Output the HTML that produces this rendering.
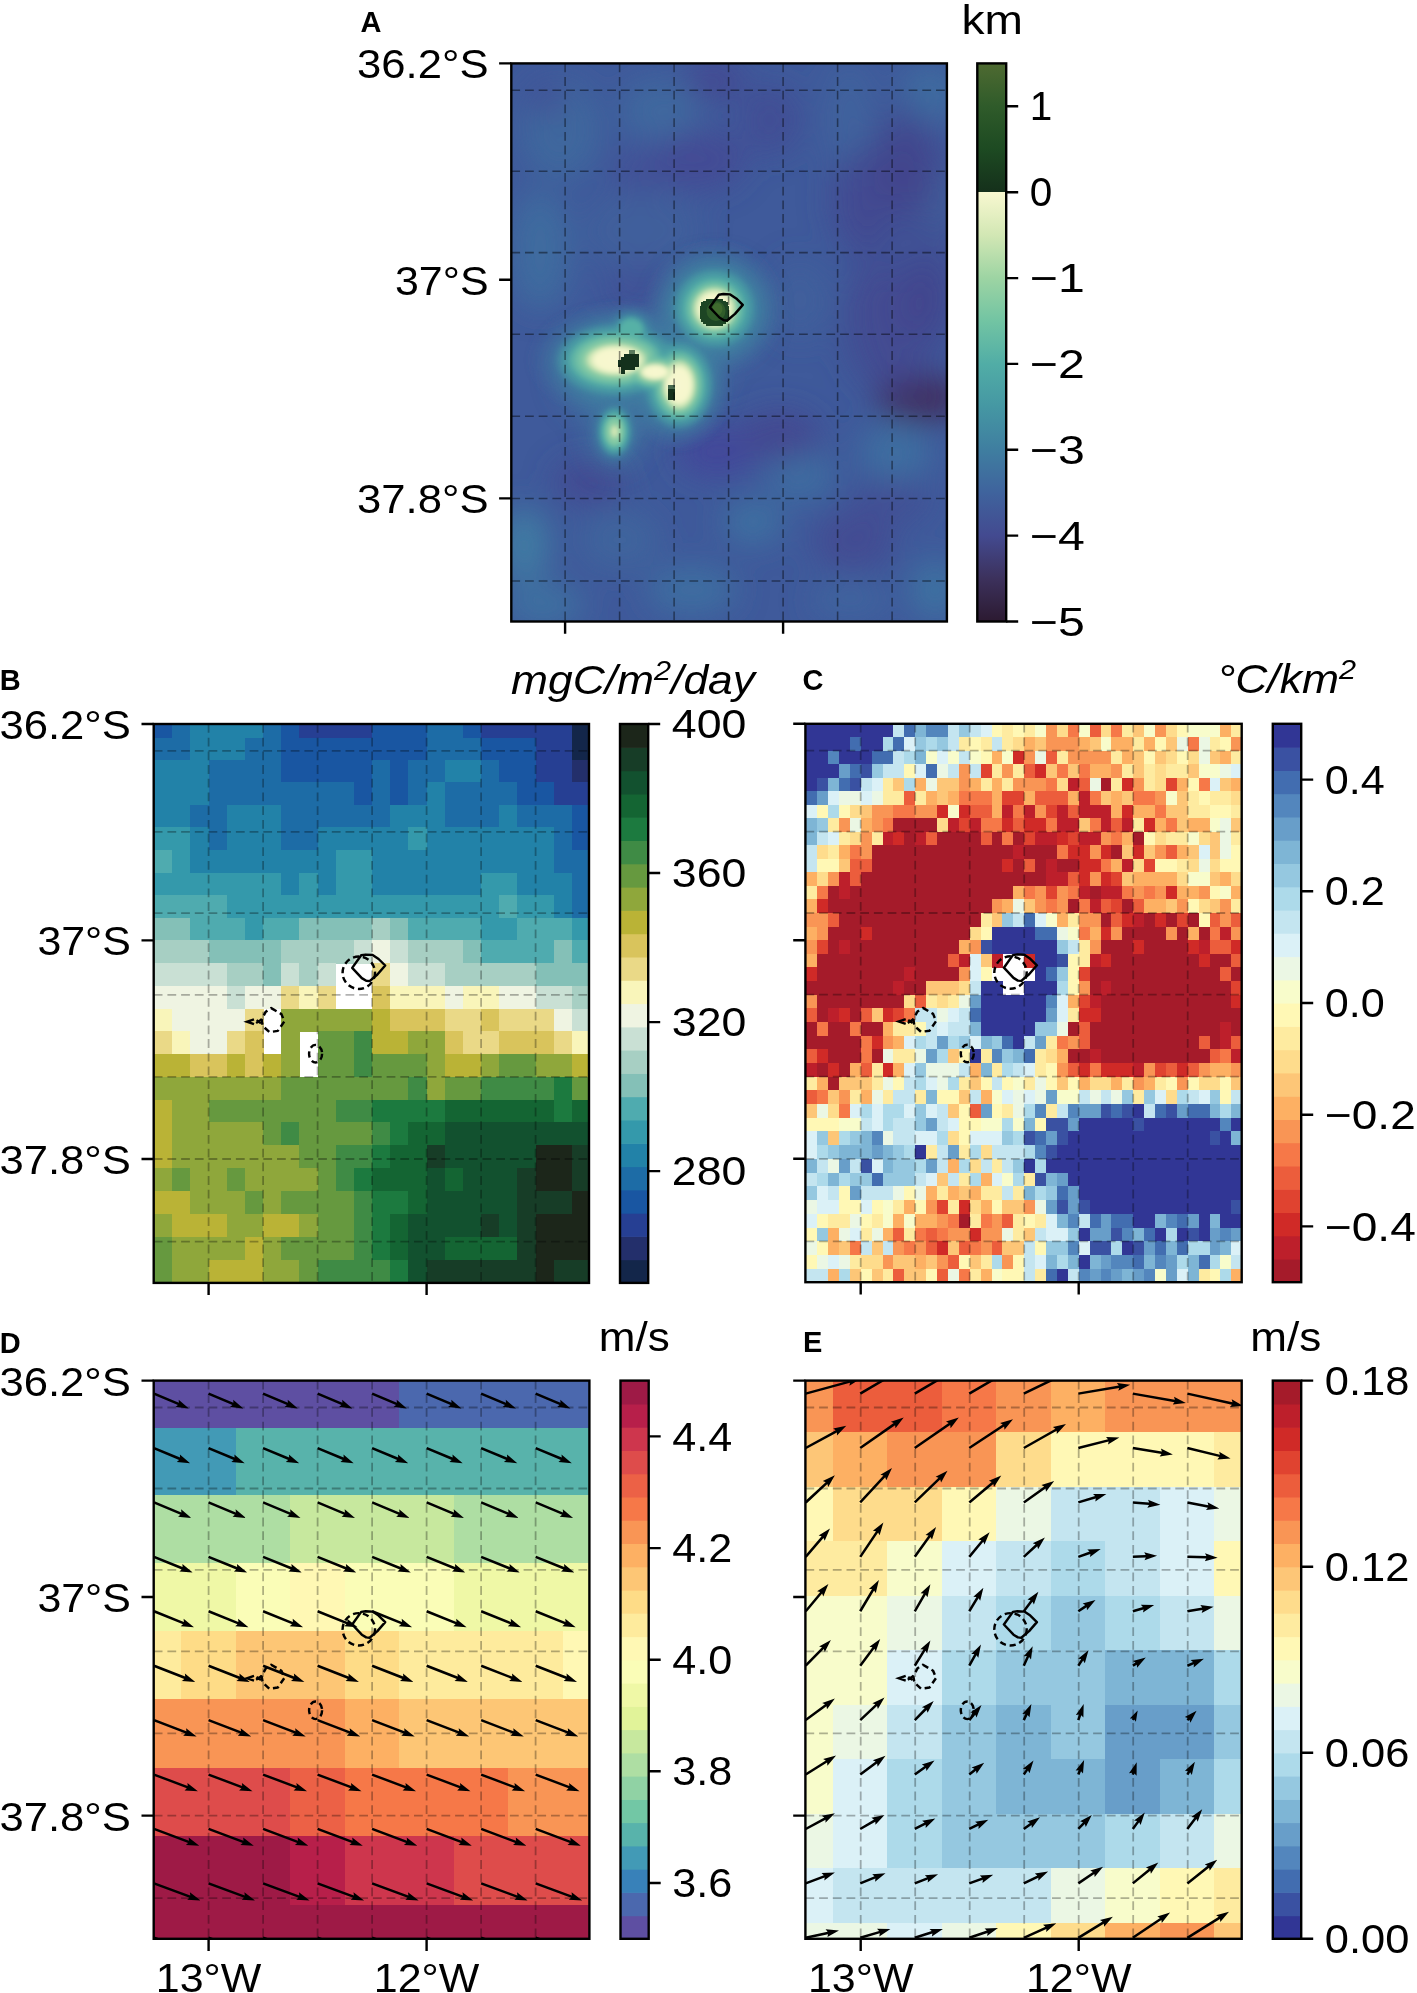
<!DOCTYPE html><html><head><meta charset="utf-8"><title>Figure</title>
<style>html,body{margin:0;padding:0;background:#fff}svg{display:block}text{font-family:"Liberation Sans", sans-serif;fill:#000}</style></head><body>
<svg width="1417" height="1993" viewBox="0 0 1417 1993">
<rect width="1417" height="1993" fill="#fff"/>
<clipPath id="clipA"><rect x="511.3" y="63.4" width="435.6" height="558.1"/></clipPath>
<defs><filter id="bA1" x="-50%" y="-50%" width="200%" height="200%"><feGaussianBlur stdDeviation="15"/></filter><filter id="bA2" x="-50%" y="-50%" width="200%" height="200%"><feGaussianBlur stdDeviation="10"/></filter><filter id="bA3" x="-50%" y="-50%" width="200%" height="200%"><feGaussianBlur stdDeviation="5.5"/></filter><filter id="bA4" x="-50%" y="-50%" width="200%" height="200%"><feGaussianBlur stdDeviation="3.2"/></filter></defs>
<g clip-path="url(#clipA)">
<rect x="511.3" y="63.4" width="435.6" height="558.1" fill="#3f5a9b"/>
<g filter="url(#bA1)">
<ellipse cx="524" cy="545" rx="26" ry="38" fill="#3f7aa3" opacity="1"/>
<ellipse cx="543" cy="605" rx="40" ry="22" fill="#3e72a1" opacity="0.9"/>
<ellipse cx="692" cy="590" rx="45" ry="24" fill="#3d70a1" opacity="0.9"/>
<ellipse cx="753" cy="522" rx="30" ry="22" fill="#3e72a2" opacity="0.9"/>
<ellipse cx="800" cy="476" rx="34" ry="26" fill="#3d6fa1" opacity="0.9"/>
<ellipse cx="896" cy="452" rx="36" ry="30" fill="#3f70a1" opacity="0.9"/>
<ellipse cx="935" cy="590" rx="26" ry="30" fill="#3f74a2" opacity="0.9"/>
<ellipse cx="540" cy="250" rx="30" ry="60" fill="#3e6fa0" opacity="0.8"/>
<ellipse cx="560" cy="130" rx="40" ry="50" fill="#3e6a9f" opacity="0.8"/>
<ellipse cx="660" cy="110" rx="40" ry="30" fill="#3e6da0" opacity="0.7"/>
<ellipse cx="930" cy="95" rx="30" ry="30" fill="#3f70a1" opacity="0.8"/>
<ellipse cx="850" cy="120" rx="25" ry="60" fill="#3f689e" opacity="0.6"/>
<ellipse cx="940" cy="200" rx="18" ry="30" fill="#3f6fa1" opacity="0.8"/>
<ellipse cx="620" cy="540" rx="40" ry="30" fill="#3e689e" opacity="0.7"/>
<ellipse cx="850" cy="600" rx="40" ry="18" fill="#3e6a9f" opacity="0.7"/>
<ellipse cx="800" cy="300" rx="30" ry="40" fill="#3f639d" opacity="0.6"/>
<ellipse cx="640" cy="230" rx="60" ry="40" fill="#3f639d" opacity="0.6"/>
<ellipse cx="921" cy="398" rx="44" ry="24" fill="#3f2f5e" opacity="1"/>
<ellipse cx="905" cy="170" rx="30" ry="45" fill="#43438a" opacity="0.9"/>
<ellipse cx="860" cy="200" rx="30" ry="50" fill="#434790" opacity="0.7"/>
<ellipse cx="700" cy="160" rx="45" ry="30" fill="#434893" opacity="0.8"/>
<ellipse cx="715" cy="80" rx="30" ry="20" fill="#434590" opacity="0.8"/>
<ellipse cx="590" cy="482" rx="36" ry="22" fill="#444891" opacity="0.9"/>
<ellipse cx="716" cy="452" rx="40" ry="26" fill="#43479a" opacity="0.9"/>
<ellipse cx="854" cy="541" rx="40" ry="30" fill="#444a92" opacity="0.9"/>
<ellipse cx="925" cy="300" rx="22" ry="40" fill="#43448c" opacity="0.9"/>
<ellipse cx="770" cy="120" rx="30" ry="35" fill="#424a93" opacity="0.7"/>
<ellipse cx="548" cy="100" rx="18" ry="18" fill="#434a94" opacity="0.7"/>
<ellipse cx="780" cy="436" rx="40" ry="26" fill="#44468f" opacity="0.8"/>
<ellipse cx="890" cy="500" rx="40" ry="22" fill="#444b93" opacity="0.7"/>
<ellipse cx="640" cy="170" rx="30" ry="25" fill="#424c95" opacity="0.6"/>
<ellipse cx="905" cy="250" rx="55" ry="150" fill="#43468e" opacity="0.45"/>
<ellipse cx="880" cy="330" rx="40" ry="60" fill="#43458d" opacity="0.5"/>
<ellipse cx="640" cy="290" rx="40" ry="25" fill="#424a94" opacity="0.5"/>
</g>
<g filter="url(#bA1)" fill="#3f7ba0" opacity="0.85">
<ellipse cx="714" cy="312" rx="50" ry="48"/>
<ellipse cx="640" cy="375" rx="80" ry="52"/>
<ellipse cx="615" cy="436" rx="24" ry="30"/>
</g>
<defs><radialGradient id="gG1"><stop offset="0" stop-color="#4596a3" stop-opacity="0.95"/><stop offset="0.45" stop-color="#4290a2" stop-opacity="0.85"/><stop offset="0.7" stop-color="#3f7fa0" stop-opacity="0.5"/><stop offset="1" stop-color="#3f6a9e" stop-opacity="0"/></radialGradient><radialGradient id="gG2"><stop offset="0" stop-color="#56b1a6" stop-opacity="1"/><stop offset="0.62" stop-color="#56b1a6" stop-opacity="1"/><stop offset="0.85" stop-color="#4a9fa4" stop-opacity="0.6"/><stop offset="1" stop-color="#4596a3" stop-opacity="0"/></radialGradient><radialGradient id="gG3"><stop offset="0" stop-color="#86cba4" stop-opacity="1"/><stop offset="0.68" stop-color="#86cba4" stop-opacity="1"/><stop offset="0.88" stop-color="#68bba5" stop-opacity="0.6"/><stop offset="1" stop-color="#56b1a6" stop-opacity="0"/></radialGradient><radialGradient id="gG4"><stop offset="0" stop-color="#f8f8d0" stop-opacity="1"/><stop offset="0.62" stop-color="#f6f7cd" stop-opacity="1"/><stop offset="0.82" stop-color="#cfe6b3" stop-opacity="0.85"/><stop offset="1" stop-color="#86cba4" stop-opacity="0"/></radialGradient><radialGradient id="gG5"><stop offset="0" stop-color="#d8eab8" stop-opacity="1"/><stop offset="0.5" stop-color="#cfe6b3" stop-opacity="1"/><stop offset="1" stop-color="#86cba4" stop-opacity="0"/></radialGradient><filter id="bA5" x="-20%" y="-20%" width="140%" height="140%"><feGaussianBlur stdDeviation="2.3"/></filter></defs>
<g filter="url(#bA5)">
<ellipse cx="714.5" cy="308.5" rx="72" ry="70" fill="url(#gG1)"/>
<ellipse cx="616" cy="360" rx="90" ry="60" fill="url(#gG1)"/>
<ellipse cx="679" cy="385" rx="54" ry="68" fill="url(#gG1)"/>
<ellipse cx="614.6" cy="431.5" rx="27" ry="37" fill="url(#gG1)"/>
<ellipse cx="631" cy="330" rx="29" ry="27" fill="url(#gG1)"/>
<ellipse cx="714.5" cy="308.5" rx="43" ry="42" fill="url(#gG2)"/>
<ellipse cx="616" cy="360" rx="63" ry="38" fill="url(#gG2)"/>
<ellipse cx="679" cy="385" rx="36" ry="46" fill="url(#gG2)"/>
<ellipse cx="655" cy="372" rx="32" ry="22" fill="url(#gG2)"/>
<ellipse cx="614.6" cy="431.5" rx="17.5" ry="26" fill="url(#gG2)"/>
<ellipse cx="631" cy="330" rx="16" ry="15" fill="url(#gG2)"/>
<ellipse cx="714.5" cy="308.5" rx="31.5" ry="30.5" fill="url(#gG3)"/>
<ellipse cx="616" cy="360" rx="49" ry="28" fill="url(#gG3)"/>
<ellipse cx="679" cy="385" rx="26.5" ry="36" fill="url(#gG3)"/>
<ellipse cx="655" cy="372" rx="26" ry="16" fill="url(#gG3)"/>
<ellipse cx="614.6" cy="431.5" rx="11.5" ry="17.5" fill="url(#gG3)"/>
<ellipse cx="714.5" cy="308.5" rx="23.5" ry="23" fill="url(#gG4)"/>
<ellipse cx="616" cy="360" rx="34" ry="18" fill="url(#gG4)"/>
<ellipse cx="679" cy="385" rx="18.5" ry="27" fill="url(#gG4)"/>
<ellipse cx="655" cy="372" rx="18" ry="9.5" fill="url(#gG4)"/>
<ellipse cx="614.6" cy="431.5" rx="5.5" ry="9" fill="url(#gG5)"/>
</g>
<g shape-rendering="crispEdges">
<path transform="translate(-1.3 0.5)" d="M707.5 298.5h16.5v1.7h3.3v1.7h1.7v3.3h1.7v13.4h-1.7v3.3h-1.7v1.7h-3.3v1.7h-16.5v-1.7h-3.3v-1.7h-1.7v-3.3h-1.7v-13.4h1.7v-3.3h1.7v-1.7h3.3z" fill="#1d4524"/>
<ellipse cx="716" cy="311" rx="9.5" ry="10" fill="#2f5b2a" shape-rendering="auto"/>
<ellipse cx="717.5" cy="309" rx="5" ry="6" fill="#3f6a2e" shape-rendering="auto"/>
<path d="M624.5 353.5h14v3.4h0v10h-3.4v3.4h-10.2v3.4h-3.4v-3.4h-0v-3.4h-3.4v-7h3.4v-3.4h3z" fill="#14311c"/>
<rect x="628.5" y="350" width="6" height="3.5" fill="#5a7a5c"/>
<rect x="668" y="388.5" width="7.2" height="11" fill="#14311c"/>
<rect x="668" y="385.3" width="7.2" height="3.4" fill="#47684e"/>
</g>
</g>
<path d="M565.1 63.4V621.5M619.6 63.4V621.5M674.1 63.4V621.5M728.6 63.4V621.5M783.1 63.4V621.5M837.6 63.4V621.5M892.1 63.4V621.5M511.3 90.3H946.9M511.3 171.3H946.9M511.3 252.6H946.9M511.3 334.2H946.9M511.3 416.2H946.9M511.3 498.4H946.9M511.3 581H946.9" stroke="#000" stroke-opacity="0.44" stroke-width="1.55" stroke-dasharray="8.8 4.9" fill="none"/>
<path d="M709.8 307.3L718.8 294.7L723.3 294L730.2 294.4L736.2 298.4L742.8 304.9L735 313.9L727.2 320.5L723.8 320.2L719.4 317.5Z" fill="none" stroke="#000" stroke-width="2.45" stroke-linejoin="round"/>
<rect x="511.3" y="63.4" width="435.6" height="558.1" fill="none" stroke="#000" stroke-width="2.4"/>
<text x="488.5" y="78.3" font-size="40.5" text-anchor="end" textLength="131.5" lengthAdjust="spacingAndGlyphs">36.2°S</text>
<text x="488.5" y="294.7" font-size="40.5" text-anchor="end" textLength="93.5" lengthAdjust="spacingAndGlyphs">37°S</text>
<text x="488.5" y="513.3" font-size="40.5" text-anchor="end" textLength="131.5" lengthAdjust="spacingAndGlyphs">37.8°S</text>
<path d="M511.3 63.4h-12.2M511.3 279.8h-12.2M511.3 498.4h-12.2M565.1 621.5v12.2M783.1 621.5v12.2" stroke="#000" stroke-width="2.4" fill="none"/>
<text x="360.6" y="31.8" font-size="29" font-weight="bold">A</text>
<defs><linearGradient id="gtopo" x1="0" y1="0" x2="0" y2="1"><stop offset="0.0000" stop-color="#4e6a31"/><stop offset="0.0769" stop-color="#2f5b2a"/><stop offset="0.1538" stop-color="#1d4a22"/><stop offset="0.2306" stop-color="#15301b"/><stop offset="0.2309" stop-color="#f8f8d0"/><stop offset="0.3077" stop-color="#d2e7b4"/><stop offset="0.3846" stop-color="#9dd4a3"/><stop offset="0.4615" stop-color="#72c4a3"/><stop offset="0.5385" stop-color="#51ada6"/><stop offset="0.6154" stop-color="#4597a3"/><stop offset="0.6923" stop-color="#3f7ea0"/><stop offset="0.7692" stop-color="#3f639d"/><stop offset="0.8462" stop-color="#434a90"/><stop offset="0.9231" stop-color="#3c315c"/><stop offset="1.0000" stop-color="#2c1a31"/></linearGradient></defs>
<rect x="977.3" y="63.4" width="28.9" height="558.1" fill="url(#gtopo)"/>
<rect x="977.3" y="63.4" width="28.9" height="558.1" fill="none" stroke="#000" stroke-width="2.4"/>
<text x="1029.8" y="120.4" font-size="40.5">1</text>
<text x="1029.8" y="206.3" font-size="40.5">0</text>
<text x="1029.8" y="292.2" font-size="40.5" textLength="55" lengthAdjust="spacingAndGlyphs">−1</text>
<text x="1029.8" y="378" font-size="40.5" textLength="55" lengthAdjust="spacingAndGlyphs">−2</text>
<text x="1029.8" y="463.9" font-size="40.5" textLength="55" lengthAdjust="spacingAndGlyphs">−3</text>
<text x="1029.8" y="549.7" font-size="40.5" textLength="55" lengthAdjust="spacingAndGlyphs">−4</text>
<text x="1029.8" y="635.6" font-size="40.5" textLength="55" lengthAdjust="spacingAndGlyphs">−5</text>
<path d="M1006.2 106.3h12M1006.2 192.2h12M1006.2 278.1h12M1006.2 363.9h12M1006.2 449.8h12M1006.2 535.6h12M1006.2 621.5h12" stroke="#000" stroke-width="2.4" fill="none"/>
<text x="961.5" y="34" font-size="40.5" textLength="61.5" lengthAdjust="spacingAndGlyphs">km</text>
<g shape-rendering="crispEdges">
<rect x="154.1" y="724" width="18.7" height="14" fill="#1956a2"/>
<rect x="172.3" y="724" width="18.7" height="14" fill="#1d6ca6"/>
<rect x="190.4" y="724" width="73.2" height="14" fill="#2282a8"/>
<rect x="263.1" y="724" width="18.7" height="14" fill="#1d6ca6"/>
<rect x="281.3" y="724" width="18.7" height="14" fill="#1956a2"/>
<rect x="299.4" y="724" width="73.2" height="14" fill="#263f93"/>
<rect x="372.1" y="724" width="55" height="14" fill="#1956a2"/>
<rect x="426.6" y="724" width="36.8" height="14" fill="#1d6ca6"/>
<rect x="462.9" y="724" width="18.7" height="14" fill="#1956a2"/>
<rect x="481.1" y="724" width="91.3" height="14" fill="#263f93"/>
<rect x="571.9" y="724" width="17.6" height="14" fill="#13264a"/>
<rect x="154.1" y="737.5" width="36.8" height="22.9" fill="#1d6ca6"/>
<rect x="190.4" y="737.5" width="55" height="22.9" fill="#2282a8"/>
<rect x="244.9" y="737.5" width="36.8" height="22.9" fill="#1d6ca6"/>
<rect x="281.3" y="737.5" width="145.8" height="22.9" fill="#1956a2"/>
<rect x="426.6" y="737.5" width="55" height="22.9" fill="#1d6ca6"/>
<rect x="481.1" y="737.5" width="55" height="22.9" fill="#1956a2"/>
<rect x="535.6" y="737.5" width="36.8" height="22.9" fill="#263f93"/>
<rect x="571.9" y="737.5" width="17.6" height="22.9" fill="#13264a"/>
<rect x="154.1" y="759.9" width="55" height="23" fill="#2282a8"/>
<rect x="208.6" y="759.9" width="73.2" height="23" fill="#1d6ca6"/>
<rect x="281.3" y="759.9" width="91.3" height="23" fill="#1956a2"/>
<rect x="372.1" y="759.9" width="18.7" height="23" fill="#1d6ca6"/>
<rect x="390.3" y="759.9" width="18.7" height="23" fill="#1956a2"/>
<rect x="408.4" y="759.9" width="36.8" height="23" fill="#1d6ca6"/>
<rect x="444.8" y="759.9" width="36.8" height="23" fill="#2282a8"/>
<rect x="481.1" y="759.9" width="18.7" height="23" fill="#1d6ca6"/>
<rect x="499.3" y="759.9" width="36.8" height="23" fill="#1956a2"/>
<rect x="535.6" y="759.9" width="36.8" height="23" fill="#263f93"/>
<rect x="571.9" y="759.9" width="17.6" height="23" fill="#232f6b"/>
<rect x="154.1" y="782.4" width="55" height="23" fill="#2282a8"/>
<rect x="208.6" y="782.4" width="145.8" height="23" fill="#1d6ca6"/>
<rect x="353.9" y="782.4" width="18.7" height="23" fill="#1956a2"/>
<rect x="372.1" y="782.4" width="18.7" height="23" fill="#1d6ca6"/>
<rect x="390.3" y="782.4" width="18.7" height="23" fill="#1956a2"/>
<rect x="408.4" y="782.4" width="18.7" height="23" fill="#1d6ca6"/>
<rect x="426.6" y="782.4" width="18.7" height="23" fill="#2282a8"/>
<rect x="444.8" y="782.4" width="73.2" height="23" fill="#1d6ca6"/>
<rect x="517.4" y="782.4" width="36.8" height="23" fill="#1956a2"/>
<rect x="553.8" y="782.4" width="35.7" height="23" fill="#263f93"/>
<rect x="154.1" y="804.9" width="36.8" height="23" fill="#2282a8"/>
<rect x="190.4" y="804.9" width="36.8" height="23" fill="#1d6ca6"/>
<rect x="226.8" y="804.9" width="55" height="23" fill="#2282a8"/>
<rect x="281.3" y="804.9" width="109.5" height="23" fill="#1d6ca6"/>
<rect x="390.3" y="804.9" width="55" height="23" fill="#2282a8"/>
<rect x="444.8" y="804.9" width="55" height="23" fill="#1d6ca6"/>
<rect x="499.3" y="804.9" width="18.7" height="23" fill="#2282a8"/>
<rect x="517.4" y="804.9" width="55" height="23" fill="#1d6ca6"/>
<rect x="571.9" y="804.9" width="17.6" height="23" fill="#1956a2"/>
<rect x="154.1" y="827.4" width="36.8" height="23" fill="#3499ab"/>
<rect x="190.4" y="827.4" width="18.7" height="23" fill="#2282a8"/>
<rect x="208.6" y="827.4" width="18.7" height="23" fill="#1d6ca6"/>
<rect x="226.8" y="827.4" width="55" height="23" fill="#2282a8"/>
<rect x="281.3" y="827.4" width="36.8" height="23" fill="#1d6ca6"/>
<rect x="317.6" y="827.4" width="91.3" height="23" fill="#2282a8"/>
<rect x="408.4" y="827.4" width="18.7" height="23" fill="#3499ab"/>
<rect x="426.6" y="827.4" width="127.7" height="23" fill="#2282a8"/>
<rect x="553.8" y="827.4" width="18.7" height="23" fill="#1d6ca6"/>
<rect x="571.9" y="827.4" width="17.6" height="23" fill="#1956a2"/>
<rect x="154.1" y="849.9" width="18.7" height="23.1" fill="#4fabaf"/>
<rect x="172.3" y="849.9" width="18.7" height="23.1" fill="#3499ab"/>
<rect x="190.4" y="849.9" width="145.8" height="23.1" fill="#2282a8"/>
<rect x="335.8" y="849.9" width="36.8" height="23.1" fill="#3499ab"/>
<rect x="372.1" y="849.9" width="182.2" height="23.1" fill="#2282a8"/>
<rect x="553.8" y="849.9" width="35.7" height="23.1" fill="#1d6ca6"/>
<rect x="154.1" y="872.5" width="127.7" height="23.1" fill="#3499ab"/>
<rect x="281.3" y="872.5" width="18.7" height="23.1" fill="#2282a8"/>
<rect x="299.4" y="872.5" width="18.7" height="23.1" fill="#3499ab"/>
<rect x="317.6" y="872.5" width="18.7" height="23.1" fill="#2282a8"/>
<rect x="335.8" y="872.5" width="36.8" height="23.1" fill="#3499ab"/>
<rect x="372.1" y="872.5" width="109.5" height="23.1" fill="#2282a8"/>
<rect x="481.1" y="872.5" width="36.8" height="23.1" fill="#3499ab"/>
<rect x="517.4" y="872.5" width="55" height="23.1" fill="#2282a8"/>
<rect x="571.9" y="872.5" width="17.6" height="23.1" fill="#1d6ca6"/>
<rect x="154.1" y="895.1" width="73.2" height="23.1" fill="#4fabaf"/>
<rect x="226.8" y="895.1" width="273" height="23.1" fill="#3499ab"/>
<rect x="499.3" y="895.1" width="18.7" height="23.1" fill="#4fabaf"/>
<rect x="517.4" y="895.1" width="36.8" height="23.1" fill="#3499ab"/>
<rect x="553.8" y="895.1" width="18.7" height="23.1" fill="#2282a8"/>
<rect x="571.9" y="895.1" width="17.6" height="23.1" fill="#1d6ca6"/>
<rect x="154.1" y="917.7" width="36.8" height="23.1" fill="#84c0b7"/>
<rect x="190.4" y="917.7" width="55" height="23.1" fill="#4fabaf"/>
<rect x="244.9" y="917.7" width="18.7" height="23.1" fill="#3499ab"/>
<rect x="263.1" y="917.7" width="36.8" height="23.1" fill="#4fabaf"/>
<rect x="299.4" y="917.7" width="73.2" height="23.1" fill="#84c0b7"/>
<rect x="372.1" y="917.7" width="18.7" height="23.1" fill="#a7cfc3"/>
<rect x="390.3" y="917.7" width="18.7" height="23.1" fill="#84c0b7"/>
<rect x="408.4" y="917.7" width="73.2" height="23.1" fill="#4fabaf"/>
<rect x="481.1" y="917.7" width="36.8" height="23.1" fill="#3499ab"/>
<rect x="517.4" y="917.7" width="55" height="23.1" fill="#4fabaf"/>
<rect x="571.9" y="917.7" width="17.6" height="23.1" fill="#3499ab"/>
<rect x="154.1" y="940.4" width="55" height="23.2" fill="#a7cfc3"/>
<rect x="208.6" y="940.4" width="73.2" height="23.2" fill="#84c0b7"/>
<rect x="281.3" y="940.4" width="73.2" height="23.2" fill="#a7cfc3"/>
<rect x="353.9" y="940.4" width="18.7" height="23.2" fill="#c9e0d4"/>
<rect x="372.1" y="940.4" width="18.7" height="23.2" fill="#eff4e2"/>
<rect x="390.3" y="940.4" width="18.7" height="23.2" fill="#c9e0d4"/>
<rect x="408.4" y="940.4" width="55" height="23.2" fill="#a7cfc3"/>
<rect x="462.9" y="940.4" width="18.7" height="23.2" fill="#84c0b7"/>
<rect x="481.1" y="940.4" width="73.2" height="23.2" fill="#4fabaf"/>
<rect x="553.8" y="940.4" width="18.7" height="23.2" fill="#84c0b7"/>
<rect x="571.9" y="940.4" width="17.6" height="23.2" fill="#4fabaf"/>
<rect x="154.1" y="963" width="73.2" height="23.2" fill="#c9e0d4"/>
<rect x="226.8" y="963" width="36.8" height="23.2" fill="#a7cfc3"/>
<rect x="263.1" y="963" width="18.7" height="23.2" fill="#84c0b7"/>
<rect x="281.3" y="963" width="18.7" height="23.2" fill="#c9e0d4"/>
<rect x="299.4" y="963" width="18.7" height="23.2" fill="#a7cfc3"/>
<rect x="317.6" y="963" width="18.7" height="23.2" fill="#c9e0d4"/>
<rect x="372.1" y="963" width="18.7" height="23.2" fill="#ead987"/>
<rect x="390.3" y="963" width="18.7" height="23.2" fill="#eff4e2"/>
<rect x="408.4" y="963" width="36.8" height="23.2" fill="#c9e0d4"/>
<rect x="444.8" y="963" width="91.3" height="23.2" fill="#a7cfc3"/>
<rect x="535.6" y="963" width="53.9" height="23.2" fill="#84c0b7"/>
<rect x="154.1" y="985.7" width="73.2" height="23.2" fill="#eff4e2"/>
<rect x="226.8" y="985.7" width="18.7" height="23.2" fill="#c9e0d4"/>
<rect x="244.9" y="985.7" width="36.8" height="23.2" fill="#eff4e2"/>
<rect x="281.3" y="985.7" width="18.7" height="23.2" fill="#ead987"/>
<rect x="299.4" y="985.7" width="18.7" height="23.2" fill="#f9f5ba"/>
<rect x="317.6" y="985.7" width="18.7" height="23.2" fill="#ead987"/>
<rect x="372.1" y="985.7" width="18.7" height="23.2" fill="#d9c45c"/>
<rect x="390.3" y="985.7" width="55" height="23.2" fill="#f9f5ba"/>
<rect x="444.8" y="985.7" width="18.7" height="23.2" fill="#eff4e2"/>
<rect x="462.9" y="985.7" width="36.8" height="23.2" fill="#f9f5ba"/>
<rect x="499.3" y="985.7" width="36.8" height="23.2" fill="#eff4e2"/>
<rect x="535.6" y="985.7" width="36.8" height="23.2" fill="#c9e0d4"/>
<rect x="571.9" y="985.7" width="17.6" height="23.2" fill="#a7cfc3"/>
<rect x="154.1" y="1008.5" width="18.7" height="23.2" fill="#f9f5ba"/>
<rect x="172.3" y="1008.5" width="73.2" height="23.2" fill="#eff4e2"/>
<rect x="244.9" y="1008.5" width="18.7" height="23.2" fill="#ead987"/>
<rect x="281.3" y="1008.5" width="91.3" height="23.2" fill="#8fa73b"/>
<rect x="372.1" y="1008.5" width="18.7" height="23.2" fill="#bab336"/>
<rect x="390.3" y="1008.5" width="55" height="23.2" fill="#d9c45c"/>
<rect x="444.8" y="1008.5" width="36.8" height="23.2" fill="#ead987"/>
<rect x="481.1" y="1008.5" width="18.7" height="23.2" fill="#d9c45c"/>
<rect x="499.3" y="1008.5" width="55" height="23.2" fill="#ead987"/>
<rect x="553.8" y="1008.5" width="18.7" height="23.2" fill="#eff4e2"/>
<rect x="571.9" y="1008.5" width="17.6" height="23.2" fill="#c9e0d4"/>
<rect x="154.1" y="1031.2" width="18.7" height="23.3" fill="#ead987"/>
<rect x="172.3" y="1031.2" width="18.7" height="23.3" fill="#f9f5ba"/>
<rect x="190.4" y="1031.2" width="36.8" height="23.3" fill="#eff4e2"/>
<rect x="226.8" y="1031.2" width="18.7" height="23.3" fill="#ead987"/>
<rect x="244.9" y="1031.2" width="18.7" height="23.3" fill="#d9c45c"/>
<rect x="281.3" y="1031.2" width="18.7" height="23.3" fill="#8fa73b"/>
<rect x="317.6" y="1031.2" width="36.8" height="23.3" fill="#66993f"/>
<rect x="353.9" y="1031.2" width="18.7" height="23.3" fill="#3f8b45"/>
<rect x="372.1" y="1031.2" width="36.8" height="23.3" fill="#bab336"/>
<rect x="408.4" y="1031.2" width="36.8" height="23.3" fill="#8fa73b"/>
<rect x="444.8" y="1031.2" width="18.7" height="23.3" fill="#d9c45c"/>
<rect x="462.9" y="1031.2" width="36.8" height="23.3" fill="#ead987"/>
<rect x="499.3" y="1031.2" width="55" height="23.3" fill="#d9c45c"/>
<rect x="553.8" y="1031.2" width="18.7" height="23.3" fill="#ead987"/>
<rect x="571.9" y="1031.2" width="17.6" height="23.3" fill="#f9f5ba"/>
<rect x="154.1" y="1054" width="36.8" height="23.3" fill="#bab336"/>
<rect x="190.4" y="1054" width="36.8" height="23.3" fill="#d9c45c"/>
<rect x="226.8" y="1054" width="18.7" height="23.3" fill="#bab336"/>
<rect x="244.9" y="1054" width="18.7" height="23.3" fill="#d9c45c"/>
<rect x="263.1" y="1054" width="18.7" height="23.3" fill="#bab336"/>
<rect x="281.3" y="1054" width="18.7" height="23.3" fill="#8fa73b"/>
<rect x="317.6" y="1054" width="36.8" height="23.3" fill="#66993f"/>
<rect x="353.9" y="1054" width="18.7" height="23.3" fill="#3f8b45"/>
<rect x="372.1" y="1054" width="55" height="23.3" fill="#66993f"/>
<rect x="426.6" y="1054" width="18.7" height="23.3" fill="#8fa73b"/>
<rect x="444.8" y="1054" width="36.8" height="23.3" fill="#bab336"/>
<rect x="481.1" y="1054" width="18.7" height="23.3" fill="#8fa73b"/>
<rect x="499.3" y="1054" width="36.8" height="23.3" fill="#66993f"/>
<rect x="535.6" y="1054" width="36.8" height="23.3" fill="#8fa73b"/>
<rect x="571.9" y="1054" width="17.6" height="23.3" fill="#bab336"/>
<rect x="154.1" y="1076.8" width="127.7" height="23.3" fill="#8fa73b"/>
<rect x="281.3" y="1076.8" width="127.7" height="23.3" fill="#66993f"/>
<rect x="408.4" y="1076.8" width="18.7" height="23.3" fill="#3f8b45"/>
<rect x="426.6" y="1076.8" width="18.7" height="23.3" fill="#8fa73b"/>
<rect x="444.8" y="1076.8" width="36.8" height="23.3" fill="#66993f"/>
<rect x="481.1" y="1076.8" width="73.2" height="23.3" fill="#3f8b45"/>
<rect x="553.8" y="1076.8" width="18.7" height="23.3" fill="#1c7a3f"/>
<rect x="571.9" y="1076.8" width="17.6" height="23.3" fill="#66993f"/>
<rect x="154.1" y="1099.6" width="18.7" height="23.3" fill="#bab336"/>
<rect x="172.3" y="1099.6" width="36.8" height="23.3" fill="#8fa73b"/>
<rect x="208.6" y="1099.6" width="127.7" height="23.3" fill="#66993f"/>
<rect x="335.8" y="1099.6" width="36.8" height="23.3" fill="#3f8b45"/>
<rect x="372.1" y="1099.6" width="73.2" height="23.3" fill="#1c7a3f"/>
<rect x="444.8" y="1099.6" width="109.5" height="23.3" fill="#146533"/>
<rect x="553.8" y="1099.6" width="18.7" height="23.3" fill="#1c7a3f"/>
<rect x="571.9" y="1099.6" width="17.6" height="23.3" fill="#146533"/>
<rect x="154.1" y="1122.4" width="18.7" height="23.4" fill="#bab336"/>
<rect x="172.3" y="1122.4" width="91.3" height="23.4" fill="#8fa73b"/>
<rect x="263.1" y="1122.4" width="18.7" height="23.4" fill="#66993f"/>
<rect x="281.3" y="1122.4" width="18.7" height="23.4" fill="#3f8b45"/>
<rect x="299.4" y="1122.4" width="73.2" height="23.4" fill="#66993f"/>
<rect x="372.1" y="1122.4" width="18.7" height="23.4" fill="#3f8b45"/>
<rect x="390.3" y="1122.4" width="18.7" height="23.4" fill="#1c7a3f"/>
<rect x="408.4" y="1122.4" width="36.8" height="23.4" fill="#146533"/>
<rect x="444.8" y="1122.4" width="144.7" height="23.4" fill="#12512f"/>
<rect x="154.1" y="1145.3" width="18.7" height="23.4" fill="#bab336"/>
<rect x="172.3" y="1145.3" width="127.7" height="23.4" fill="#8fa73b"/>
<rect x="299.4" y="1145.3" width="36.8" height="23.4" fill="#66993f"/>
<rect x="335.8" y="1145.3" width="36.8" height="23.4" fill="#3f8b45"/>
<rect x="372.1" y="1145.3" width="18.7" height="23.4" fill="#1c7a3f"/>
<rect x="390.3" y="1145.3" width="36.8" height="23.4" fill="#146533"/>
<rect x="426.6" y="1145.3" width="18.7" height="23.4" fill="#173d27"/>
<rect x="444.8" y="1145.3" width="91.3" height="23.4" fill="#12512f"/>
<rect x="535.6" y="1145.3" width="36.8" height="23.4" fill="#1c261a"/>
<rect x="571.9" y="1145.3" width="17.6" height="23.4" fill="#173d27"/>
<rect x="154.1" y="1168.2" width="18.7" height="23.4" fill="#8fa73b"/>
<rect x="172.3" y="1168.2" width="18.7" height="23.4" fill="#66993f"/>
<rect x="190.4" y="1168.2" width="36.8" height="23.4" fill="#8fa73b"/>
<rect x="226.8" y="1168.2" width="18.7" height="23.4" fill="#66993f"/>
<rect x="244.9" y="1168.2" width="73.2" height="23.4" fill="#8fa73b"/>
<rect x="317.6" y="1168.2" width="18.7" height="23.4" fill="#66993f"/>
<rect x="335.8" y="1168.2" width="18.7" height="23.4" fill="#3f8b45"/>
<rect x="353.9" y="1168.2" width="18.7" height="23.4" fill="#1c7a3f"/>
<rect x="372.1" y="1168.2" width="55" height="23.4" fill="#146533"/>
<rect x="426.6" y="1168.2" width="18.7" height="23.4" fill="#12512f"/>
<rect x="444.8" y="1168.2" width="18.7" height="23.4" fill="#146533"/>
<rect x="462.9" y="1168.2" width="55" height="23.4" fill="#12512f"/>
<rect x="517.4" y="1168.2" width="18.7" height="23.4" fill="#173d27"/>
<rect x="535.6" y="1168.2" width="36.8" height="23.4" fill="#1c261a"/>
<rect x="571.9" y="1168.2" width="17.6" height="23.4" fill="#173d27"/>
<rect x="154.1" y="1191.1" width="36.8" height="23.4" fill="#bab336"/>
<rect x="190.4" y="1191.1" width="55" height="23.4" fill="#8fa73b"/>
<rect x="244.9" y="1191.1" width="18.7" height="23.4" fill="#66993f"/>
<rect x="263.1" y="1191.1" width="18.7" height="23.4" fill="#8fa73b"/>
<rect x="281.3" y="1191.1" width="73.2" height="23.4" fill="#66993f"/>
<rect x="353.9" y="1191.1" width="18.7" height="23.4" fill="#3f8b45"/>
<rect x="372.1" y="1191.1" width="36.8" height="23.4" fill="#1c7a3f"/>
<rect x="408.4" y="1191.1" width="18.7" height="23.4" fill="#146533"/>
<rect x="426.6" y="1191.1" width="91.3" height="23.4" fill="#12512f"/>
<rect x="517.4" y="1191.1" width="55" height="23.4" fill="#173d27"/>
<rect x="571.9" y="1191.1" width="17.6" height="23.4" fill="#1c261a"/>
<rect x="154.1" y="1214.1" width="18.7" height="23.5" fill="#8fa73b"/>
<rect x="172.3" y="1214.1" width="55" height="23.5" fill="#bab336"/>
<rect x="226.8" y="1214.1" width="36.8" height="23.5" fill="#8fa73b"/>
<rect x="263.1" y="1214.1" width="36.8" height="23.5" fill="#bab336"/>
<rect x="299.4" y="1214.1" width="18.7" height="23.5" fill="#8fa73b"/>
<rect x="317.6" y="1214.1" width="36.8" height="23.5" fill="#66993f"/>
<rect x="353.9" y="1214.1" width="18.7" height="23.5" fill="#3f8b45"/>
<rect x="372.1" y="1214.1" width="18.7" height="23.5" fill="#1c7a3f"/>
<rect x="390.3" y="1214.1" width="18.7" height="23.5" fill="#146533"/>
<rect x="408.4" y="1214.1" width="73.2" height="23.5" fill="#12512f"/>
<rect x="481.1" y="1214.1" width="18.7" height="23.5" fill="#173d27"/>
<rect x="499.3" y="1214.1" width="18.7" height="23.5" fill="#12512f"/>
<rect x="517.4" y="1214.1" width="18.7" height="23.5" fill="#173d27"/>
<rect x="535.6" y="1214.1" width="53.9" height="23.5" fill="#1c261a"/>
<rect x="154.1" y="1237" width="18.7" height="23.5" fill="#66993f"/>
<rect x="172.3" y="1237" width="73.2" height="23.5" fill="#8fa73b"/>
<rect x="244.9" y="1237" width="18.7" height="23.5" fill="#bab336"/>
<rect x="263.1" y="1237" width="18.7" height="23.5" fill="#8fa73b"/>
<rect x="281.3" y="1237" width="73.2" height="23.5" fill="#66993f"/>
<rect x="353.9" y="1237" width="18.7" height="23.5" fill="#3f8b45"/>
<rect x="372.1" y="1237" width="18.7" height="23.5" fill="#1c7a3f"/>
<rect x="390.3" y="1237" width="18.7" height="23.5" fill="#146533"/>
<rect x="408.4" y="1237" width="36.8" height="23.5" fill="#12512f"/>
<rect x="444.8" y="1237" width="73.2" height="23.5" fill="#146533"/>
<rect x="517.4" y="1237" width="18.7" height="23.5" fill="#173d27"/>
<rect x="535.6" y="1237" width="53.9" height="23.5" fill="#1c261a"/>
<rect x="154.1" y="1260" width="18.7" height="23.4" fill="#66993f"/>
<rect x="172.3" y="1260" width="36.8" height="23.4" fill="#8fa73b"/>
<rect x="208.6" y="1260" width="55" height="23.4" fill="#bab336"/>
<rect x="263.1" y="1260" width="36.8" height="23.4" fill="#8fa73b"/>
<rect x="299.4" y="1260" width="18.7" height="23.4" fill="#66993f"/>
<rect x="317.6" y="1260" width="73.2" height="23.4" fill="#3f8b45"/>
<rect x="390.3" y="1260" width="18.7" height="23.4" fill="#1c7a3f"/>
<rect x="408.4" y="1260" width="18.7" height="23.4" fill="#12512f"/>
<rect x="426.6" y="1260" width="109.5" height="23.4" fill="#173d27"/>
<rect x="535.6" y="1260" width="18.7" height="23.4" fill="#1c261a"/>
<rect x="553.8" y="1260" width="35.7" height="23.4" fill="#173d27"/>
</g>
<path d="M208.6 724V1282.9M263.1 724V1282.9M317.6 724V1282.9M372.1 724V1282.9M426.6 724V1282.9M481.1 724V1282.9M535.6 724V1282.9M153.7 750.9H589M153.7 831.9H589M153.7 913.2H589M153.7 994.8H589M153.7 1076.8H589M153.7 1159H589M153.7 1241.6H589" stroke="#000" stroke-opacity="0.3" stroke-width="1.8" stroke-dasharray="8.8 4.9" fill="none"/>
<g fill="none" stroke="#000" stroke-width="2.45" stroke-dasharray="6.2 3.8" stroke-linejoin="round">
<circle cx="358.8" cy="972.7" r="16.2"/>
<path d="M271.2 1008.1L281.4 1014.1L284.4 1021.3L277.8 1030.9L269.4 1032.1L262.8 1026.1L261.6 1019.5L265.8 1011.7Z"/>
</g>
<path d="M261.6 1019.5l-5.5 3.6M254 1019.3l-7 2.4l7 2.4M256.5 1020.3l4.5 3" fill="none" stroke="#000" stroke-width="2.4"/>
<ellipse cx="315.6" cy="1053.7" rx="6.5" ry="8.8" fill="none" stroke="#000" stroke-width="2.45" stroke-dasharray="6.2 3.8"/>
<path d="M352.2 967.9L361.2 955.3L365.7 954.6L372.6 955L378.6 959L385.2 965.5L377.4 974.5L369.6 981.1L366.2 980.8L361.8 978.1Z" fill="none" stroke="#000" stroke-width="2.45" stroke-linejoin="round"/>
<rect x="153.7" y="724" width="435.3" height="558.9" fill="none" stroke="#000" stroke-width="2.4"/>
<text x="130.9" y="738.9" font-size="40.5" text-anchor="end" textLength="131.5" lengthAdjust="spacingAndGlyphs">36.2°S</text>
<text x="130.9" y="955.3" font-size="40.5" text-anchor="end" textLength="93.5" lengthAdjust="spacingAndGlyphs">37°S</text>
<text x="130.9" y="1173.9" font-size="40.5" text-anchor="end" textLength="131.5" lengthAdjust="spacingAndGlyphs">37.8°S</text>
<path d="M153.7 724h-12.2M153.7 940.4h-12.2M153.7 1159h-12.2M208.6 1282.9v12.2M426.6 1282.9v12.2" stroke="#000" stroke-width="2.4" fill="none"/>
<text x="-0.2" y="690.1" font-size="29" font-weight="bold">B</text>
<rect x="620" y="1259.6" width="28.2" height="23.9" fill="#13264a"/>
<rect x="620" y="1236.3" width="28.2" height="23.9" fill="#232f6b"/>
<rect x="620" y="1213" width="28.2" height="23.9" fill="#263f93"/>
<rect x="620" y="1189.8" width="28.2" height="23.9" fill="#1956a2"/>
<rect x="620" y="1166.5" width="28.2" height="23.9" fill="#1d6ca6"/>
<rect x="620" y="1143.2" width="28.2" height="23.9" fill="#2282a8"/>
<rect x="620" y="1119.9" width="28.2" height="23.9" fill="#3499ab"/>
<rect x="620" y="1096.6" width="28.2" height="23.9" fill="#4fabaf"/>
<rect x="620" y="1073.3" width="28.2" height="23.9" fill="#84c0b7"/>
<rect x="620" y="1050" width="28.2" height="23.9" fill="#a7cfc3"/>
<rect x="620" y="1026.7" width="28.2" height="23.9" fill="#c9e0d4"/>
<rect x="620" y="1003.5" width="28.2" height="23.9" fill="#eff4e2"/>
<rect x="620" y="980.2" width="28.2" height="23.9" fill="#f9f5ba"/>
<rect x="620" y="956.9" width="28.2" height="23.9" fill="#ead987"/>
<rect x="620" y="933.6" width="28.2" height="23.9" fill="#d9c45c"/>
<rect x="620" y="910.3" width="28.2" height="23.9" fill="#bab336"/>
<rect x="620" y="887" width="28.2" height="23.9" fill="#8fa73b"/>
<rect x="620" y="863.7" width="28.2" height="23.9" fill="#66993f"/>
<rect x="620" y="840.4" width="28.2" height="23.9" fill="#3f8b45"/>
<rect x="620" y="817.1" width="28.2" height="23.9" fill="#1c7a3f"/>
<rect x="620" y="793.9" width="28.2" height="23.9" fill="#146533"/>
<rect x="620" y="770.6" width="28.2" height="23.9" fill="#12512f"/>
<rect x="620" y="747.3" width="28.2" height="23.9" fill="#173d27"/>
<rect x="620" y="724" width="28.2" height="23.9" fill="#1c261a"/>
<rect x="620" y="724" width="28.2" height="558.9" fill="none" stroke="#000" stroke-width="2.4"/>
<text x="671.8" y="738.1" font-size="40.5" textLength="74.5" lengthAdjust="spacingAndGlyphs">400</text>
<text x="671.8" y="887.1" font-size="40.5" textLength="74.5" lengthAdjust="spacingAndGlyphs">360</text>
<text x="671.8" y="1036.2" font-size="40.5" textLength="74.5" lengthAdjust="spacingAndGlyphs">320</text>
<text x="671.8" y="1185.2" font-size="40.5" textLength="74.5" lengthAdjust="spacingAndGlyphs">280</text>
<path d="M648.2 724h12M648.2 873h12M648.2 1022.1h12M648.2 1171.1h12" stroke="#000" stroke-width="2.4" fill="none"/>
<text x="511" y="693.5" font-size="40.5" font-style="italic" textLength="244" lengthAdjust="spacingAndGlyphs">mgC/m<tspan dy="-14" font-size="28">2</tspan><tspan dy="14" font-size="40.5">/day</tspan></text>
<g shape-rendering="crispEdges">
<rect x="806.2" y="723.8" width="87.7" height="14" fill="#313695"/>
<rect x="893.4" y="723.8" width="11.4" height="14" fill="#c4e5f0"/>
<rect x="904.3" y="723.8" width="11.4" height="14" fill="#426db0"/>
<rect x="915.2" y="723.8" width="11.4" height="14" fill="#7eb5d5"/>
<rect x="926.1" y="723.8" width="22.3" height="14" fill="#5386bd"/>
<rect x="947.9" y="723.8" width="11.4" height="14" fill="#c4e5f0"/>
<rect x="958.8" y="723.8" width="11.4" height="14" fill="#95c8e0"/>
<rect x="969.7" y="723.8" width="11.4" height="14" fill="#c4e5f0"/>
<rect x="980.6" y="723.8" width="11.4" height="14" fill="#dbf1f7"/>
<rect x="991.5" y="723.8" width="11.4" height="14" fill="#fff8b5"/>
<rect x="1002.4" y="723.8" width="11.4" height="14" fill="#feeba0"/>
<rect x="1013.3" y="723.8" width="11.4" height="14" fill="#fff8b5"/>
<rect x="1024.2" y="723.8" width="11.4" height="14" fill="#feeba0"/>
<rect x="1035.1" y="723.8" width="11.4" height="14" fill="#f8fccb"/>
<rect x="1046" y="723.8" width="11.4" height="14" fill="#f99555"/>
<rect x="1056.9" y="723.8" width="11.4" height="14" fill="#fedc8c"/>
<rect x="1067.8" y="723.8" width="11.4" height="14" fill="#f67848"/>
<rect x="1078.7" y="723.8" width="11.4" height="14" fill="#f8fccb"/>
<rect x="1089.6" y="723.8" width="11.4" height="14" fill="#ec5d3c"/>
<rect x="1100.5" y="723.8" width="11.4" height="14" fill="#fedc8c"/>
<rect x="1111.4" y="723.8" width="11.4" height="14" fill="#f67848"/>
<rect x="1122.3" y="723.8" width="11.4" height="14" fill="#feeba0"/>
<rect x="1133.2" y="723.8" width="11.4" height="14" fill="#fdc677"/>
<rect x="1144.1" y="723.8" width="11.4" height="14" fill="#f8fccb"/>
<rect x="1155" y="723.8" width="11.4" height="14" fill="#f99555"/>
<rect x="1165.9" y="723.8" width="11.4" height="14" fill="#fedc8c"/>
<rect x="1176.8" y="723.8" width="11.4" height="14" fill="#fff8b5"/>
<rect x="1187.7" y="723.8" width="33.2" height="14" fill="#f8fccb"/>
<rect x="1220.4" y="723.8" width="11.4" height="14" fill="#fdb063"/>
<rect x="1231.3" y="723.8" width="10.9" height="14" fill="#feeba0"/>
<rect x="806.2" y="737.3" width="44.1" height="14" fill="#313695"/>
<rect x="849.8" y="737.3" width="11.4" height="14" fill="#426db0"/>
<rect x="860.7" y="737.3" width="22.3" height="14" fill="#313695"/>
<rect x="882.5" y="737.3" width="11.4" height="14" fill="#addaea"/>
<rect x="893.4" y="737.3" width="11.4" height="14" fill="#426db0"/>
<rect x="904.3" y="737.3" width="11.4" height="14" fill="#dbf1f7"/>
<rect x="915.2" y="737.3" width="11.4" height="14" fill="#95c8e0"/>
<rect x="926.1" y="737.3" width="11.4" height="14" fill="#addaea"/>
<rect x="937" y="737.3" width="11.4" height="14" fill="#95c8e0"/>
<rect x="947.9" y="737.3" width="11.4" height="14" fill="#c4e5f0"/>
<rect x="958.8" y="737.3" width="11.4" height="14" fill="#feeba0"/>
<rect x="969.7" y="737.3" width="11.4" height="14" fill="#fff8b5"/>
<rect x="980.6" y="737.3" width="11.4" height="14" fill="#feeba0"/>
<rect x="991.5" y="737.3" width="11.4" height="14" fill="#c4e5f0"/>
<rect x="1002.4" y="737.3" width="11.4" height="14" fill="#feeba0"/>
<rect x="1013.3" y="737.3" width="11.4" height="14" fill="#fedc8c"/>
<rect x="1024.2" y="737.3" width="11.4" height="14" fill="#fdb063"/>
<rect x="1035.1" y="737.3" width="11.4" height="14" fill="#fdc677"/>
<rect x="1046" y="737.3" width="33.2" height="14" fill="#f99555"/>
<rect x="1078.7" y="737.3" width="11.4" height="14" fill="#fdb063"/>
<rect x="1089.6" y="737.3" width="11.4" height="14" fill="#fdc677"/>
<rect x="1100.5" y="737.3" width="11.4" height="14" fill="#f8fccb"/>
<rect x="1111.4" y="737.3" width="22.3" height="14" fill="#fdb063"/>
<rect x="1133.2" y="737.3" width="11.4" height="14" fill="#feeba0"/>
<rect x="1144.1" y="737.3" width="11.4" height="14" fill="#fdb063"/>
<rect x="1155" y="737.3" width="11.4" height="14" fill="#fff8b5"/>
<rect x="1165.9" y="737.3" width="11.4" height="14" fill="#fdc677"/>
<rect x="1176.8" y="737.3" width="11.4" height="14" fill="#ebf7e4"/>
<rect x="1187.7" y="737.3" width="11.4" height="14" fill="#f67848"/>
<rect x="1198.6" y="737.3" width="11.4" height="14" fill="#ebf7e4"/>
<rect x="1209.5" y="737.3" width="11.4" height="14" fill="#feeba0"/>
<rect x="1220.4" y="737.3" width="11.4" height="14" fill="#fff8b5"/>
<rect x="1231.3" y="737.3" width="10.9" height="14" fill="#f99555"/>
<rect x="806.2" y="750.7" width="22.3" height="14" fill="#313695"/>
<rect x="828" y="750.7" width="11.4" height="14" fill="#5386bd"/>
<rect x="838.9" y="750.7" width="33.2" height="14" fill="#313695"/>
<rect x="871.6" y="750.7" width="22.3" height="14" fill="#426db0"/>
<rect x="893.4" y="750.7" width="11.4" height="14" fill="#c4e5f0"/>
<rect x="904.3" y="750.7" width="11.4" height="14" fill="#addaea"/>
<rect x="915.2" y="750.7" width="11.4" height="14" fill="#7eb5d5"/>
<rect x="926.1" y="750.7" width="11.4" height="14" fill="#f8fccb"/>
<rect x="937" y="750.7" width="11.4" height="14" fill="#dbf1f7"/>
<rect x="947.9" y="750.7" width="11.4" height="14" fill="#f8fccb"/>
<rect x="958.8" y="750.7" width="11.4" height="14" fill="#c4e5f0"/>
<rect x="969.7" y="750.7" width="11.4" height="14" fill="#f8fccb"/>
<rect x="980.6" y="750.7" width="11.4" height="14" fill="#fff8b5"/>
<rect x="991.5" y="750.7" width="11.4" height="14" fill="#fdb063"/>
<rect x="1002.4" y="750.7" width="11.4" height="14" fill="#f8fccb"/>
<rect x="1013.3" y="750.7" width="11.4" height="14" fill="#d02a27"/>
<rect x="1024.2" y="750.7" width="11.4" height="14" fill="#f99555"/>
<rect x="1035.1" y="750.7" width="11.4" height="14" fill="#ebf7e4"/>
<rect x="1046" y="750.7" width="11.4" height="14" fill="#ec5d3c"/>
<rect x="1056.9" y="750.7" width="11.4" height="14" fill="#feeba0"/>
<rect x="1067.8" y="750.7" width="44.1" height="14" fill="#f99555"/>
<rect x="1111.4" y="750.7" width="11.4" height="14" fill="#feeba0"/>
<rect x="1122.3" y="750.7" width="11.4" height="14" fill="#fdb063"/>
<rect x="1133.2" y="750.7" width="11.4" height="14" fill="#fdc677"/>
<rect x="1144.1" y="750.7" width="11.4" height="14" fill="#fff8b5"/>
<rect x="1155" y="750.7" width="11.4" height="14" fill="#fdc677"/>
<rect x="1165.9" y="750.7" width="11.4" height="14" fill="#fedc8c"/>
<rect x="1176.8" y="750.7" width="11.4" height="14" fill="#fff8b5"/>
<rect x="1187.7" y="750.7" width="11.4" height="14" fill="#fedc8c"/>
<rect x="1198.6" y="750.7" width="11.4" height="14" fill="#ebf7e4"/>
<rect x="1209.5" y="750.7" width="11.4" height="14" fill="#fdc677"/>
<rect x="1220.4" y="750.7" width="11.4" height="14" fill="#fdb063"/>
<rect x="1231.3" y="750.7" width="10.9" height="14" fill="#feeba0"/>
<rect x="806.2" y="764.2" width="33.2" height="14" fill="#313695"/>
<rect x="838.9" y="764.2" width="11.4" height="14" fill="#689ec9"/>
<rect x="849.8" y="764.2" width="11.4" height="14" fill="#426db0"/>
<rect x="860.7" y="764.2" width="11.4" height="14" fill="#3a51a2"/>
<rect x="871.6" y="764.2" width="11.4" height="14" fill="#95c8e0"/>
<rect x="882.5" y="764.2" width="22.3" height="14" fill="#c4e5f0"/>
<rect x="904.3" y="764.2" width="11.4" height="14" fill="#fff8b5"/>
<rect x="915.2" y="764.2" width="11.4" height="14" fill="#dbf1f7"/>
<rect x="926.1" y="764.2" width="11.4" height="14" fill="#426db0"/>
<rect x="937" y="764.2" width="11.4" height="14" fill="#ebf7e4"/>
<rect x="947.9" y="764.2" width="11.4" height="14" fill="#c4e5f0"/>
<rect x="958.8" y="764.2" width="11.4" height="14" fill="#f99555"/>
<rect x="969.7" y="764.2" width="11.4" height="14" fill="#c4e5f0"/>
<rect x="980.6" y="764.2" width="11.4" height="14" fill="#e04330"/>
<rect x="991.5" y="764.2" width="11.4" height="14" fill="#feeba0"/>
<rect x="1002.4" y="764.2" width="11.4" height="14" fill="#f99555"/>
<rect x="1013.3" y="764.2" width="11.4" height="14" fill="#feeba0"/>
<rect x="1024.2" y="764.2" width="11.4" height="14" fill="#ec5d3c"/>
<rect x="1035.1" y="764.2" width="11.4" height="14" fill="#d02a27"/>
<rect x="1046" y="764.2" width="11.4" height="14" fill="#fdc677"/>
<rect x="1056.9" y="764.2" width="11.4" height="14" fill="#f67848"/>
<rect x="1067.8" y="764.2" width="11.4" height="14" fill="#fdc677"/>
<rect x="1078.7" y="764.2" width="11.4" height="14" fill="#f67848"/>
<rect x="1089.6" y="764.2" width="22.3" height="14" fill="#fdb063"/>
<rect x="1111.4" y="764.2" width="11.4" height="14" fill="#f99555"/>
<rect x="1122.3" y="764.2" width="11.4" height="14" fill="#feeba0"/>
<rect x="1133.2" y="764.2" width="11.4" height="14" fill="#fdc677"/>
<rect x="1144.1" y="764.2" width="11.4" height="14" fill="#feeba0"/>
<rect x="1155" y="764.2" width="11.4" height="14" fill="#fedc8c"/>
<rect x="1165.9" y="764.2" width="22.3" height="14" fill="#feeba0"/>
<rect x="1187.7" y="764.2" width="11.4" height="14" fill="#fdc677"/>
<rect x="1198.6" y="764.2" width="22.3" height="14" fill="#f8fccb"/>
<rect x="1220.4" y="764.2" width="11.4" height="14" fill="#ebf7e4"/>
<rect x="1231.3" y="764.2" width="10.9" height="14" fill="#dbf1f7"/>
<rect x="806.2" y="777.7" width="11.4" height="14" fill="#313695"/>
<rect x="817.1" y="777.7" width="11.4" height="14" fill="#3a51a2"/>
<rect x="828" y="777.7" width="11.4" height="14" fill="#7eb5d5"/>
<rect x="838.9" y="777.7" width="11.4" height="14" fill="#426db0"/>
<rect x="849.8" y="777.7" width="11.4" height="14" fill="#3a51a2"/>
<rect x="860.7" y="777.7" width="11.4" height="14" fill="#c4e5f0"/>
<rect x="871.6" y="777.7" width="11.4" height="14" fill="#dbf1f7"/>
<rect x="882.5" y="777.7" width="11.4" height="14" fill="#feeba0"/>
<rect x="893.4" y="777.7" width="11.4" height="14" fill="#fdc677"/>
<rect x="904.3" y="777.7" width="11.4" height="14" fill="#addaea"/>
<rect x="915.2" y="777.7" width="11.4" height="14" fill="#fdb063"/>
<rect x="926.1" y="777.7" width="11.4" height="14" fill="#ebf7e4"/>
<rect x="937" y="777.7" width="22.3" height="14" fill="#fdc677"/>
<rect x="958.8" y="777.7" width="11.4" height="14" fill="#f99555"/>
<rect x="969.7" y="777.7" width="11.4" height="14" fill="#fdb063"/>
<rect x="980.6" y="777.7" width="11.4" height="14" fill="#feeba0"/>
<rect x="991.5" y="777.7" width="11.4" height="14" fill="#fdb063"/>
<rect x="1002.4" y="777.7" width="11.4" height="14" fill="#feeba0"/>
<rect x="1013.3" y="777.7" width="33.2" height="14" fill="#f99555"/>
<rect x="1046" y="777.7" width="11.4" height="14" fill="#f67848"/>
<rect x="1056.9" y="777.7" width="11.4" height="14" fill="#fedc8c"/>
<rect x="1067.8" y="777.7" width="11.4" height="14" fill="#bd1f2b"/>
<rect x="1078.7" y="777.7" width="11.4" height="14" fill="#ec5d3c"/>
<rect x="1089.6" y="777.7" width="11.4" height="14" fill="#ebf7e4"/>
<rect x="1100.5" y="777.7" width="11.4" height="14" fill="#a51b2a"/>
<rect x="1111.4" y="777.7" width="11.4" height="14" fill="#feeba0"/>
<rect x="1122.3" y="777.7" width="11.4" height="14" fill="#d02a27"/>
<rect x="1133.2" y="777.7" width="11.4" height="14" fill="#f99555"/>
<rect x="1144.1" y="777.7" width="11.4" height="14" fill="#feeba0"/>
<rect x="1155" y="777.7" width="11.4" height="14" fill="#fedc8c"/>
<rect x="1165.9" y="777.7" width="11.4" height="14" fill="#e04330"/>
<rect x="1176.8" y="777.7" width="11.4" height="14" fill="#fdb063"/>
<rect x="1187.7" y="777.7" width="11.4" height="14" fill="#fff8b5"/>
<rect x="1198.6" y="777.7" width="11.4" height="14" fill="#f67848"/>
<rect x="1209.5" y="777.7" width="11.4" height="14" fill="#dbf1f7"/>
<rect x="1220.4" y="777.7" width="11.4" height="14" fill="#fdc677"/>
<rect x="1231.3" y="777.7" width="10.9" height="14" fill="#fdb063"/>
<rect x="806.2" y="791.2" width="11.4" height="14" fill="#426db0"/>
<rect x="817.1" y="791.2" width="11.4" height="14" fill="#689ec9"/>
<rect x="828" y="791.2" width="11.4" height="14" fill="#dbf1f7"/>
<rect x="838.9" y="791.2" width="22.3" height="14" fill="#ebf7e4"/>
<rect x="860.7" y="791.2" width="11.4" height="14" fill="#dbf1f7"/>
<rect x="871.6" y="791.2" width="11.4" height="14" fill="#ebf7e4"/>
<rect x="882.5" y="791.2" width="22.3" height="14" fill="#feeba0"/>
<rect x="904.3" y="791.2" width="11.4" height="14" fill="#ec5d3c"/>
<rect x="915.2" y="791.2" width="11.4" height="14" fill="#feeba0"/>
<rect x="926.1" y="791.2" width="11.4" height="14" fill="#fdb063"/>
<rect x="937" y="791.2" width="11.4" height="14" fill="#fdc677"/>
<rect x="947.9" y="791.2" width="11.4" height="14" fill="#fdb063"/>
<rect x="958.8" y="791.2" width="33.2" height="14" fill="#f67848"/>
<rect x="991.5" y="791.2" width="11.4" height="14" fill="#fdb063"/>
<rect x="1002.4" y="791.2" width="22.3" height="14" fill="#e04330"/>
<rect x="1024.2" y="791.2" width="11.4" height="14" fill="#fdb063"/>
<rect x="1035.1" y="791.2" width="33.2" height="14" fill="#ec5d3c"/>
<rect x="1067.8" y="791.2" width="11.4" height="14" fill="#fdb063"/>
<rect x="1078.7" y="791.2" width="11.4" height="14" fill="#bd1f2b"/>
<rect x="1089.6" y="791.2" width="11.4" height="14" fill="#f67848"/>
<rect x="1100.5" y="791.2" width="11.4" height="14" fill="#fdc677"/>
<rect x="1111.4" y="791.2" width="11.4" height="14" fill="#fdb063"/>
<rect x="1122.3" y="791.2" width="11.4" height="14" fill="#fdc677"/>
<rect x="1133.2" y="791.2" width="22.3" height="14" fill="#f67848"/>
<rect x="1155" y="791.2" width="11.4" height="14" fill="#f99555"/>
<rect x="1165.9" y="791.2" width="11.4" height="14" fill="#f8fccb"/>
<rect x="1176.8" y="791.2" width="11.4" height="14" fill="#fdc677"/>
<rect x="1187.7" y="791.2" width="11.4" height="14" fill="#feeba0"/>
<rect x="1198.6" y="791.2" width="11.4" height="14" fill="#fff8b5"/>
<rect x="1209.5" y="791.2" width="22.3" height="14" fill="#feeba0"/>
<rect x="1231.3" y="791.2" width="10.9" height="14" fill="#fedc8c"/>
<rect x="806.2" y="804.7" width="11.4" height="14" fill="#dbf1f7"/>
<rect x="817.1" y="804.7" width="11.4" height="14" fill="#fff8b5"/>
<rect x="828" y="804.7" width="11.4" height="14" fill="#addaea"/>
<rect x="838.9" y="804.7" width="11.4" height="14" fill="#fff8b5"/>
<rect x="849.8" y="804.7" width="11.4" height="14" fill="#fedc8c"/>
<rect x="860.7" y="804.7" width="11.4" height="14" fill="#fdc677"/>
<rect x="871.6" y="804.7" width="22.3" height="14" fill="#f99555"/>
<rect x="893.4" y="804.7" width="22.3" height="14" fill="#f67848"/>
<rect x="915.2" y="804.7" width="22.3" height="14" fill="#f99555"/>
<rect x="937" y="804.7" width="11.4" height="14" fill="#d02a27"/>
<rect x="947.9" y="804.7" width="11.4" height="14" fill="#f8fccb"/>
<rect x="958.8" y="804.7" width="11.4" height="14" fill="#d02a27"/>
<rect x="969.7" y="804.7" width="22.3" height="14" fill="#ec5d3c"/>
<rect x="991.5" y="804.7" width="11.4" height="14" fill="#fdb063"/>
<rect x="1002.4" y="804.7" width="11.4" height="14" fill="#bd1f2b"/>
<rect x="1013.3" y="804.7" width="11.4" height="14" fill="#f67848"/>
<rect x="1024.2" y="804.7" width="11.4" height="14" fill="#bd1f2b"/>
<rect x="1035.1" y="804.7" width="11.4" height="14" fill="#f99555"/>
<rect x="1046" y="804.7" width="11.4" height="14" fill="#e04330"/>
<rect x="1056.9" y="804.7" width="11.4" height="14" fill="#bd1f2b"/>
<rect x="1067.8" y="804.7" width="11.4" height="14" fill="#ec5d3c"/>
<rect x="1078.7" y="804.7" width="33.2" height="14" fill="#bd1f2b"/>
<rect x="1111.4" y="804.7" width="11.4" height="14" fill="#fdb063"/>
<rect x="1122.3" y="804.7" width="11.4" height="14" fill="#d02a27"/>
<rect x="1133.2" y="804.7" width="22.3" height="14" fill="#fdb063"/>
<rect x="1155" y="804.7" width="11.4" height="14" fill="#f67848"/>
<rect x="1165.9" y="804.7" width="22.3" height="14" fill="#fdc677"/>
<rect x="1187.7" y="804.7" width="22.3" height="14" fill="#feeba0"/>
<rect x="1209.5" y="804.7" width="22.3" height="14" fill="#fff8b5"/>
<rect x="1231.3" y="804.7" width="10.9" height="14" fill="#feeba0"/>
<rect x="806.2" y="818.2" width="11.4" height="14" fill="#7eb5d5"/>
<rect x="817.1" y="818.2" width="11.4" height="14" fill="#95c8e0"/>
<rect x="828" y="818.2" width="11.4" height="14" fill="#feeba0"/>
<rect x="838.9" y="818.2" width="11.4" height="14" fill="#f99555"/>
<rect x="849.8" y="818.2" width="11.4" height="14" fill="#ebf7e4"/>
<rect x="860.7" y="818.2" width="11.4" height="14" fill="#fdb063"/>
<rect x="871.6" y="818.2" width="11.4" height="14" fill="#f99555"/>
<rect x="882.5" y="818.2" width="11.4" height="14" fill="#f67848"/>
<rect x="893.4" y="818.2" width="44.1" height="14" fill="#a51b2a"/>
<rect x="937" y="818.2" width="11.4" height="14" fill="#fedc8c"/>
<rect x="947.9" y="818.2" width="11.4" height="14" fill="#bd1f2b"/>
<rect x="958.8" y="818.2" width="11.4" height="14" fill="#e04330"/>
<rect x="969.7" y="818.2" width="11.4" height="14" fill="#bd1f2b"/>
<rect x="980.6" y="818.2" width="22.3" height="14" fill="#f67848"/>
<rect x="1002.4" y="818.2" width="11.4" height="14" fill="#d02a27"/>
<rect x="1013.3" y="818.2" width="11.4" height="14" fill="#ec5d3c"/>
<rect x="1024.2" y="818.2" width="22.3" height="14" fill="#d02a27"/>
<rect x="1046" y="818.2" width="11.4" height="14" fill="#f67848"/>
<rect x="1056.9" y="818.2" width="22.3" height="14" fill="#bd1f2b"/>
<rect x="1078.7" y="818.2" width="11.4" height="14" fill="#fdc677"/>
<rect x="1089.6" y="818.2" width="11.4" height="14" fill="#f67848"/>
<rect x="1100.5" y="818.2" width="11.4" height="14" fill="#bd1f2b"/>
<rect x="1111.4" y="818.2" width="11.4" height="14" fill="#ec5d3c"/>
<rect x="1122.3" y="818.2" width="11.4" height="14" fill="#bd1f2b"/>
<rect x="1133.2" y="818.2" width="11.4" height="14" fill="#feeba0"/>
<rect x="1144.1" y="818.2" width="11.4" height="14" fill="#d02a27"/>
<rect x="1155" y="818.2" width="11.4" height="14" fill="#fdb063"/>
<rect x="1165.9" y="818.2" width="11.4" height="14" fill="#f67848"/>
<rect x="1176.8" y="818.2" width="11.4" height="14" fill="#fdc677"/>
<rect x="1187.7" y="818.2" width="22.3" height="14" fill="#fdb063"/>
<rect x="1209.5" y="818.2" width="11.4" height="14" fill="#f8fccb"/>
<rect x="1220.4" y="818.2" width="11.4" height="14" fill="#ebf7e4"/>
<rect x="1231.3" y="818.2" width="10.9" height="14" fill="#fdc677"/>
<rect x="806.2" y="831.7" width="11.4" height="14" fill="#7eb5d5"/>
<rect x="817.1" y="831.7" width="11.4" height="14" fill="#c4e5f0"/>
<rect x="828" y="831.7" width="11.4" height="14" fill="#dbf1f7"/>
<rect x="838.9" y="831.7" width="11.4" height="14" fill="#feeba0"/>
<rect x="849.8" y="831.7" width="11.4" height="14" fill="#fedc8c"/>
<rect x="860.7" y="831.7" width="11.4" height="14" fill="#f99555"/>
<rect x="871.6" y="831.7" width="11.4" height="14" fill="#feeba0"/>
<rect x="882.5" y="831.7" width="11.4" height="14" fill="#bd1f2b"/>
<rect x="893.4" y="831.7" width="11.4" height="14" fill="#d02a27"/>
<rect x="904.3" y="831.7" width="11.4" height="14" fill="#a51b2a"/>
<rect x="915.2" y="831.7" width="11.4" height="14" fill="#bd1f2b"/>
<rect x="926.1" y="831.7" width="11.4" height="14" fill="#ec5d3c"/>
<rect x="937" y="831.7" width="44.1" height="14" fill="#a51b2a"/>
<rect x="980.6" y="831.7" width="11.4" height="14" fill="#ec5d3c"/>
<rect x="991.5" y="831.7" width="11.4" height="14" fill="#a51b2a"/>
<rect x="1002.4" y="831.7" width="11.4" height="14" fill="#f67848"/>
<rect x="1013.3" y="831.7" width="11.4" height="14" fill="#a51b2a"/>
<rect x="1024.2" y="831.7" width="11.4" height="14" fill="#e04330"/>
<rect x="1035.1" y="831.7" width="22.3" height="14" fill="#bd1f2b"/>
<rect x="1056.9" y="831.7" width="11.4" height="14" fill="#d02a27"/>
<rect x="1067.8" y="831.7" width="11.4" height="14" fill="#e04330"/>
<rect x="1078.7" y="831.7" width="22.3" height="14" fill="#bd1f2b"/>
<rect x="1100.5" y="831.7" width="11.4" height="14" fill="#f99555"/>
<rect x="1111.4" y="831.7" width="11.4" height="14" fill="#f67848"/>
<rect x="1122.3" y="831.7" width="11.4" height="14" fill="#fdb063"/>
<rect x="1133.2" y="831.7" width="11.4" height="14" fill="#a51b2a"/>
<rect x="1144.1" y="831.7" width="11.4" height="14" fill="#fff8b5"/>
<rect x="1155" y="831.7" width="11.4" height="14" fill="#fedc8c"/>
<rect x="1165.9" y="831.7" width="22.3" height="14" fill="#feeba0"/>
<rect x="1187.7" y="831.7" width="11.4" height="14" fill="#f8fccb"/>
<rect x="1198.6" y="831.7" width="11.4" height="14" fill="#fedc8c"/>
<rect x="1209.5" y="831.7" width="11.4" height="14" fill="#fdc677"/>
<rect x="1220.4" y="831.7" width="11.4" height="14" fill="#ebf7e4"/>
<rect x="1231.3" y="831.7" width="10.9" height="14" fill="#feeba0"/>
<rect x="806.2" y="845.2" width="11.4" height="14" fill="#c4e5f0"/>
<rect x="817.1" y="845.2" width="11.4" height="14" fill="#fedc8c"/>
<rect x="828" y="845.2" width="11.4" height="14" fill="#feeba0"/>
<rect x="838.9" y="845.2" width="11.4" height="14" fill="#fdb063"/>
<rect x="849.8" y="845.2" width="11.4" height="14" fill="#f67848"/>
<rect x="860.7" y="845.2" width="11.4" height="14" fill="#f99555"/>
<rect x="871.6" y="845.2" width="142.2" height="14" fill="#a51b2a"/>
<rect x="1013.3" y="845.2" width="11.4" height="14" fill="#bd1f2b"/>
<rect x="1024.2" y="845.2" width="33.2" height="14" fill="#a51b2a"/>
<rect x="1056.9" y="845.2" width="11.4" height="14" fill="#f67848"/>
<rect x="1067.8" y="845.2" width="22.3" height="14" fill="#d02a27"/>
<rect x="1089.6" y="845.2" width="11.4" height="14" fill="#f99555"/>
<rect x="1100.5" y="845.2" width="11.4" height="14" fill="#d02a27"/>
<rect x="1111.4" y="845.2" width="11.4" height="14" fill="#a51b2a"/>
<rect x="1122.3" y="845.2" width="11.4" height="14" fill="#fdc677"/>
<rect x="1133.2" y="845.2" width="11.4" height="14" fill="#d02a27"/>
<rect x="1144.1" y="845.2" width="11.4" height="14" fill="#fdc677"/>
<rect x="1155" y="845.2" width="11.4" height="14" fill="#f99555"/>
<rect x="1165.9" y="845.2" width="11.4" height="14" fill="#ec5d3c"/>
<rect x="1176.8" y="845.2" width="11.4" height="14" fill="#fdb063"/>
<rect x="1187.7" y="845.2" width="11.4" height="14" fill="#fdc677"/>
<rect x="1198.6" y="845.2" width="11.4" height="14" fill="#dbf1f7"/>
<rect x="1209.5" y="845.2" width="11.4" height="14" fill="#fdc677"/>
<rect x="1220.4" y="845.2" width="11.4" height="14" fill="#ebf7e4"/>
<rect x="1231.3" y="845.2" width="10.9" height="14" fill="#fff8b5"/>
<rect x="806.2" y="858.8" width="11.4" height="14" fill="#c4e5f0"/>
<rect x="817.1" y="858.8" width="22.3" height="14" fill="#fff8b5"/>
<rect x="838.9" y="858.8" width="11.4" height="14" fill="#fdc677"/>
<rect x="849.8" y="858.8" width="22.3" height="14" fill="#ec5d3c"/>
<rect x="871.6" y="858.8" width="131.3" height="14" fill="#a51b2a"/>
<rect x="1002.4" y="858.8" width="11.4" height="14" fill="#d02a27"/>
<rect x="1013.3" y="858.8" width="11.4" height="14" fill="#a51b2a"/>
<rect x="1024.2" y="858.8" width="11.4" height="14" fill="#ec5d3c"/>
<rect x="1035.1" y="858.8" width="11.4" height="14" fill="#a51b2a"/>
<rect x="1046" y="858.8" width="11.4" height="14" fill="#bd1f2b"/>
<rect x="1056.9" y="858.8" width="22.3" height="14" fill="#a51b2a"/>
<rect x="1078.7" y="858.8" width="22.3" height="14" fill="#d02a27"/>
<rect x="1100.5" y="858.8" width="11.4" height="14" fill="#f67848"/>
<rect x="1111.4" y="858.8" width="11.4" height="14" fill="#fdb063"/>
<rect x="1122.3" y="858.8" width="11.4" height="14" fill="#bd1f2b"/>
<rect x="1133.2" y="858.8" width="11.4" height="14" fill="#fedc8c"/>
<rect x="1144.1" y="858.8" width="11.4" height="14" fill="#e04330"/>
<rect x="1155" y="858.8" width="22.3" height="14" fill="#fff8b5"/>
<rect x="1176.8" y="858.8" width="11.4" height="14" fill="#feeba0"/>
<rect x="1187.7" y="858.8" width="11.4" height="14" fill="#fedc8c"/>
<rect x="1198.6" y="858.8" width="11.4" height="14" fill="#ebf7e4"/>
<rect x="1209.5" y="858.8" width="11.4" height="14" fill="#fedc8c"/>
<rect x="1220.4" y="858.8" width="21.8" height="14" fill="#fff8b5"/>
<rect x="806.2" y="872.3" width="11.4" height="14.1" fill="#fdb063"/>
<rect x="817.1" y="872.3" width="11.4" height="14.1" fill="#fedc8c"/>
<rect x="828" y="872.3" width="11.4" height="14.1" fill="#f99555"/>
<rect x="838.9" y="872.3" width="11.4" height="14.1" fill="#bd1f2b"/>
<rect x="849.8" y="872.3" width="11.4" height="14.1" fill="#ec5d3c"/>
<rect x="860.7" y="872.3" width="185.8" height="14.1" fill="#a51b2a"/>
<rect x="1046" y="872.3" width="22.3" height="14.1" fill="#bd1f2b"/>
<rect x="1067.8" y="872.3" width="11.4" height="14.1" fill="#ec5d3c"/>
<rect x="1078.7" y="872.3" width="11.4" height="14.1" fill="#d02a27"/>
<rect x="1089.6" y="872.3" width="11.4" height="14.1" fill="#f99555"/>
<rect x="1100.5" y="872.3" width="11.4" height="14.1" fill="#d02a27"/>
<rect x="1111.4" y="872.3" width="11.4" height="14.1" fill="#e04330"/>
<rect x="1122.3" y="872.3" width="11.4" height="14.1" fill="#fdc677"/>
<rect x="1133.2" y="872.3" width="44.1" height="14.1" fill="#fdb063"/>
<rect x="1176.8" y="872.3" width="11.4" height="14.1" fill="#fedc8c"/>
<rect x="1187.7" y="872.3" width="22.3" height="14.1" fill="#f8fccb"/>
<rect x="1209.5" y="872.3" width="11.4" height="14.1" fill="#fdc677"/>
<rect x="1220.4" y="872.3" width="11.4" height="14.1" fill="#fdb063"/>
<rect x="1231.3" y="872.3" width="10.9" height="14.1" fill="#fedc8c"/>
<rect x="806.2" y="885.9" width="11.4" height="14.1" fill="#feeba0"/>
<rect x="817.1" y="885.9" width="11.4" height="14.1" fill="#f67848"/>
<rect x="828" y="885.9" width="11.4" height="14.1" fill="#a51b2a"/>
<rect x="838.9" y="885.9" width="11.4" height="14.1" fill="#bd1f2b"/>
<rect x="849.8" y="885.9" width="164" height="14.1" fill="#a51b2a"/>
<rect x="1013.3" y="885.9" width="11.4" height="14.1" fill="#fdb063"/>
<rect x="1024.2" y="885.9" width="11.4" height="14.1" fill="#f67848"/>
<rect x="1035.1" y="885.9" width="11.4" height="14.1" fill="#f99555"/>
<rect x="1046" y="885.9" width="11.4" height="14.1" fill="#e04330"/>
<rect x="1056.9" y="885.9" width="11.4" height="14.1" fill="#f99555"/>
<rect x="1067.8" y="885.9" width="11.4" height="14.1" fill="#f67848"/>
<rect x="1078.7" y="885.9" width="11.4" height="14.1" fill="#bd1f2b"/>
<rect x="1089.6" y="885.9" width="11.4" height="14.1" fill="#a51b2a"/>
<rect x="1100.5" y="885.9" width="22.3" height="14.1" fill="#bd1f2b"/>
<rect x="1122.3" y="885.9" width="11.4" height="14.1" fill="#f67848"/>
<rect x="1133.2" y="885.9" width="11.4" height="14.1" fill="#f99555"/>
<rect x="1144.1" y="885.9" width="11.4" height="14.1" fill="#f67848"/>
<rect x="1155" y="885.9" width="11.4" height="14.1" fill="#f99555"/>
<rect x="1165.9" y="885.9" width="11.4" height="14.1" fill="#d02a27"/>
<rect x="1176.8" y="885.9" width="22.3" height="14.1" fill="#fdb063"/>
<rect x="1198.6" y="885.9" width="11.4" height="14.1" fill="#f99555"/>
<rect x="1209.5" y="885.9" width="11.4" height="14.1" fill="#fff8b5"/>
<rect x="1220.4" y="885.9" width="11.4" height="14.1" fill="#f8fccb"/>
<rect x="1231.3" y="885.9" width="10.9" height="14.1" fill="#fdb063"/>
<rect x="806.2" y="899.4" width="11.4" height="14.1" fill="#fdb063"/>
<rect x="817.1" y="899.4" width="11.4" height="14.1" fill="#d02a27"/>
<rect x="828" y="899.4" width="164" height="14.1" fill="#a51b2a"/>
<rect x="991.5" y="899.4" width="11.4" height="14.1" fill="#f99555"/>
<rect x="1002.4" y="899.4" width="11.4" height="14.1" fill="#fdb063"/>
<rect x="1013.3" y="899.4" width="11.4" height="14.1" fill="#ebf7e4"/>
<rect x="1024.2" y="899.4" width="11.4" height="14.1" fill="#fdc677"/>
<rect x="1035.1" y="899.4" width="11.4" height="14.1" fill="#f99555"/>
<rect x="1046" y="899.4" width="11.4" height="14.1" fill="#f67848"/>
<rect x="1056.9" y="899.4" width="11.4" height="14.1" fill="#f99555"/>
<rect x="1067.8" y="899.4" width="11.4" height="14.1" fill="#a51b2a"/>
<rect x="1078.7" y="899.4" width="11.4" height="14.1" fill="#f67848"/>
<rect x="1089.6" y="899.4" width="11.4" height="14.1" fill="#bd1f2b"/>
<rect x="1100.5" y="899.4" width="11.4" height="14.1" fill="#ec5d3c"/>
<rect x="1111.4" y="899.4" width="11.4" height="14.1" fill="#e04330"/>
<rect x="1122.3" y="899.4" width="11.4" height="14.1" fill="#a51b2a"/>
<rect x="1133.2" y="899.4" width="11.4" height="14.1" fill="#ec5d3c"/>
<rect x="1144.1" y="899.4" width="22.3" height="14.1" fill="#fdb063"/>
<rect x="1165.9" y="899.4" width="11.4" height="14.1" fill="#fdc677"/>
<rect x="1176.8" y="899.4" width="11.4" height="14.1" fill="#f99555"/>
<rect x="1187.7" y="899.4" width="11.4" height="14.1" fill="#fff8b5"/>
<rect x="1198.6" y="899.4" width="11.4" height="14.1" fill="#fedc8c"/>
<rect x="1209.5" y="899.4" width="11.4" height="14.1" fill="#fdc677"/>
<rect x="1220.4" y="899.4" width="11.4" height="14.1" fill="#f99555"/>
<rect x="1231.3" y="899.4" width="10.9" height="14.1" fill="#feeba0"/>
<rect x="806.2" y="913" width="22.3" height="14.1" fill="#f99555"/>
<rect x="828" y="913" width="11.4" height="14.1" fill="#ec5d3c"/>
<rect x="838.9" y="913" width="142.2" height="14.1" fill="#a51b2a"/>
<rect x="980.6" y="913" width="11.4" height="14.1" fill="#feeba0"/>
<rect x="991.5" y="913" width="11.4" height="14.1" fill="#fdc677"/>
<rect x="1002.4" y="913" width="11.4" height="14.1" fill="#95c8e0"/>
<rect x="1013.3" y="913" width="11.4" height="14.1" fill="#c4e5f0"/>
<rect x="1024.2" y="913" width="11.4" height="14.1" fill="#426db0"/>
<rect x="1035.1" y="913" width="11.4" height="14.1" fill="#dbf1f7"/>
<rect x="1046" y="913" width="11.4" height="14.1" fill="#f8fccb"/>
<rect x="1056.9" y="913" width="11.4" height="14.1" fill="#fdb063"/>
<rect x="1067.8" y="913" width="11.4" height="14.1" fill="#feeba0"/>
<rect x="1078.7" y="913" width="22.3" height="14.1" fill="#f99555"/>
<rect x="1100.5" y="913" width="11.4" height="14.1" fill="#a51b2a"/>
<rect x="1111.4" y="913" width="11.4" height="14.1" fill="#ec5d3c"/>
<rect x="1122.3" y="913" width="11.4" height="14.1" fill="#d02a27"/>
<rect x="1133.2" y="913" width="11.4" height="14.1" fill="#bd1f2b"/>
<rect x="1144.1" y="913" width="11.4" height="14.1" fill="#a51b2a"/>
<rect x="1155" y="913" width="11.4" height="14.1" fill="#d02a27"/>
<rect x="1165.9" y="913" width="11.4" height="14.1" fill="#a51b2a"/>
<rect x="1176.8" y="913" width="11.4" height="14.1" fill="#e04330"/>
<rect x="1187.7" y="913" width="11.4" height="14.1" fill="#a51b2a"/>
<rect x="1198.6" y="913" width="11.4" height="14.1" fill="#fff8b5"/>
<rect x="1209.5" y="913" width="11.4" height="14.1" fill="#ec5d3c"/>
<rect x="1220.4" y="913" width="11.4" height="14.1" fill="#f99555"/>
<rect x="1231.3" y="913" width="10.9" height="14.1" fill="#ec5d3c"/>
<rect x="806.2" y="926.6" width="11.4" height="14.1" fill="#fdb063"/>
<rect x="817.1" y="926.6" width="11.4" height="14.1" fill="#f99555"/>
<rect x="828" y="926.6" width="33.2" height="14.1" fill="#a51b2a"/>
<rect x="860.7" y="926.6" width="11.4" height="14.1" fill="#d02a27"/>
<rect x="871.6" y="926.6" width="98.6" height="14.1" fill="#a51b2a"/>
<rect x="969.7" y="926.6" width="11.4" height="14.1" fill="#fedc8c"/>
<rect x="980.6" y="926.6" width="11.4" height="14.1" fill="#fff8b5"/>
<rect x="991.5" y="926.6" width="44.1" height="14.1" fill="#313695"/>
<rect x="1035.1" y="926.6" width="22.3" height="14.1" fill="#426db0"/>
<rect x="1056.9" y="926.6" width="11.4" height="14.1" fill="#ebf7e4"/>
<rect x="1067.8" y="926.6" width="11.4" height="14.1" fill="#f8fccb"/>
<rect x="1078.7" y="926.6" width="11.4" height="14.1" fill="#f67848"/>
<rect x="1089.6" y="926.6" width="11.4" height="14.1" fill="#fdb063"/>
<rect x="1100.5" y="926.6" width="11.4" height="14.1" fill="#d02a27"/>
<rect x="1111.4" y="926.6" width="11.4" height="14.1" fill="#f99555"/>
<rect x="1122.3" y="926.6" width="44.1" height="14.1" fill="#a51b2a"/>
<rect x="1165.9" y="926.6" width="11.4" height="14.1" fill="#f99555"/>
<rect x="1176.8" y="926.6" width="11.4" height="14.1" fill="#a51b2a"/>
<rect x="1187.7" y="926.6" width="11.4" height="14.1" fill="#fdb063"/>
<rect x="1198.6" y="926.6" width="11.4" height="14.1" fill="#a51b2a"/>
<rect x="1209.5" y="926.6" width="11.4" height="14.1" fill="#f67848"/>
<rect x="1220.4" y="926.6" width="11.4" height="14.1" fill="#bd1f2b"/>
<rect x="1231.3" y="926.6" width="10.9" height="14.1" fill="#f99555"/>
<rect x="806.2" y="940.2" width="11.4" height="14.1" fill="#f99555"/>
<rect x="817.1" y="940.2" width="11.4" height="14.1" fill="#e04330"/>
<rect x="828" y="940.2" width="11.4" height="14.1" fill="#a51b2a"/>
<rect x="838.9" y="940.2" width="11.4" height="14.1" fill="#bd1f2b"/>
<rect x="849.8" y="940.2" width="109.5" height="14.1" fill="#a51b2a"/>
<rect x="958.8" y="940.2" width="11.4" height="14.1" fill="#fdb063"/>
<rect x="969.7" y="940.2" width="11.4" height="14.1" fill="#f99555"/>
<rect x="980.6" y="940.2" width="11.4" height="14.1" fill="#3a51a2"/>
<rect x="991.5" y="940.2" width="65.9" height="14.1" fill="#313695"/>
<rect x="1056.9" y="940.2" width="11.4" height="14.1" fill="#95c8e0"/>
<rect x="1067.8" y="940.2" width="11.4" height="14.1" fill="#c4e5f0"/>
<rect x="1078.7" y="940.2" width="11.4" height="14.1" fill="#feeba0"/>
<rect x="1089.6" y="940.2" width="11.4" height="14.1" fill="#f99555"/>
<rect x="1100.5" y="940.2" width="33.2" height="14.1" fill="#a51b2a"/>
<rect x="1133.2" y="940.2" width="11.4" height="14.1" fill="#d02a27"/>
<rect x="1144.1" y="940.2" width="44.1" height="14.1" fill="#a51b2a"/>
<rect x="1187.7" y="940.2" width="11.4" height="14.1" fill="#d02a27"/>
<rect x="1198.6" y="940.2" width="11.4" height="14.1" fill="#bd1f2b"/>
<rect x="1209.5" y="940.2" width="22.3" height="14.1" fill="#ec5d3c"/>
<rect x="1231.3" y="940.2" width="10.9" height="14.1" fill="#d02a27"/>
<rect x="806.2" y="953.8" width="11.4" height="14.1" fill="#fdb063"/>
<rect x="817.1" y="953.8" width="131.3" height="14.1" fill="#a51b2a"/>
<rect x="947.9" y="953.8" width="11.4" height="14.1" fill="#ec5d3c"/>
<rect x="958.8" y="953.8" width="11.4" height="14.1" fill="#bd1f2b"/>
<rect x="969.7" y="953.8" width="11.4" height="14.1" fill="#dbf1f7"/>
<rect x="980.6" y="953.8" width="11.4" height="14.1" fill="#fdc677"/>
<rect x="991.5" y="953.8" width="11.4" height="14.1" fill="#bd1f2b"/>
<rect x="1024.2" y="953.8" width="11.4" height="14.1" fill="#d02a27"/>
<rect x="1035.1" y="953.8" width="22.3" height="14.1" fill="#313695"/>
<rect x="1056.9" y="953.8" width="11.4" height="14.1" fill="#3a51a2"/>
<rect x="1067.8" y="953.8" width="11.4" height="14.1" fill="#fff8b5"/>
<rect x="1078.7" y="953.8" width="11.4" height="14.1" fill="#feeba0"/>
<rect x="1089.6" y="953.8" width="11.4" height="14.1" fill="#bd1f2b"/>
<rect x="1100.5" y="953.8" width="11.4" height="14.1" fill="#d02a27"/>
<rect x="1111.4" y="953.8" width="87.7" height="14.1" fill="#a51b2a"/>
<rect x="1198.6" y="953.8" width="11.4" height="14.1" fill="#d02a27"/>
<rect x="1209.5" y="953.8" width="22.3" height="14.1" fill="#a51b2a"/>
<rect x="1231.3" y="953.8" width="10.9" height="14.1" fill="#ec5d3c"/>
<rect x="806.2" y="967.4" width="11.4" height="14.1" fill="#d02a27"/>
<rect x="817.1" y="967.4" width="87.7" height="14.1" fill="#a51b2a"/>
<rect x="904.3" y="967.4" width="11.4" height="14.1" fill="#bd1f2b"/>
<rect x="915.2" y="967.4" width="44.1" height="14.1" fill="#a51b2a"/>
<rect x="958.8" y="967.4" width="11.4" height="14.1" fill="#f99555"/>
<rect x="969.7" y="967.4" width="11.4" height="14.1" fill="#dbf1f7"/>
<rect x="980.6" y="967.4" width="11.4" height="14.1" fill="#fff8b5"/>
<rect x="1035.1" y="967.4" width="11.4" height="14.1" fill="#313695"/>
<rect x="1046" y="967.4" width="11.4" height="14.1" fill="#426db0"/>
<rect x="1056.9" y="967.4" width="11.4" height="14.1" fill="#95c8e0"/>
<rect x="1067.8" y="967.4" width="11.4" height="14.1" fill="#fff8b5"/>
<rect x="1078.7" y="967.4" width="11.4" height="14.1" fill="#e04330"/>
<rect x="1089.6" y="967.4" width="131.3" height="14.1" fill="#a51b2a"/>
<rect x="1220.4" y="967.4" width="11.4" height="14.1" fill="#ec5d3c"/>
<rect x="1231.3" y="967.4" width="10.9" height="14.1" fill="#a51b2a"/>
<rect x="806.2" y="981" width="87.7" height="14.1" fill="#a51b2a"/>
<rect x="893.4" y="981" width="11.4" height="14.1" fill="#bd1f2b"/>
<rect x="904.3" y="981" width="22.3" height="14.1" fill="#a51b2a"/>
<rect x="926.1" y="981" width="33.2" height="14.1" fill="#fdc677"/>
<rect x="958.8" y="981" width="11.4" height="14.1" fill="#fedc8c"/>
<rect x="969.7" y="981" width="11.4" height="14.1" fill="#c4e5f0"/>
<rect x="980.6" y="981" width="22.3" height="14.1" fill="#313695"/>
<rect x="1024.2" y="981" width="33.2" height="14.1" fill="#313695"/>
<rect x="1056.9" y="981" width="11.4" height="14.1" fill="#addaea"/>
<rect x="1067.8" y="981" width="11.4" height="14.1" fill="#fff8b5"/>
<rect x="1078.7" y="981" width="11.4" height="14.1" fill="#f99555"/>
<rect x="1089.6" y="981" width="11.4" height="14.1" fill="#a51b2a"/>
<rect x="1100.5" y="981" width="11.4" height="14.1" fill="#bd1f2b"/>
<rect x="1111.4" y="981" width="120.4" height="14.1" fill="#a51b2a"/>
<rect x="1231.3" y="981" width="10.9" height="14.1" fill="#e04330"/>
<rect x="806.2" y="994.6" width="11.4" height="14.1" fill="#f99555"/>
<rect x="817.1" y="994.6" width="87.7" height="14.1" fill="#a51b2a"/>
<rect x="904.3" y="994.6" width="11.4" height="14.1" fill="#fedc8c"/>
<rect x="915.2" y="994.6" width="11.4" height="14.1" fill="#ec5d3c"/>
<rect x="926.1" y="994.6" width="11.4" height="14.1" fill="#feeba0"/>
<rect x="937" y="994.6" width="11.4" height="14.1" fill="#fedc8c"/>
<rect x="947.9" y="994.6" width="11.4" height="14.1" fill="#feeba0"/>
<rect x="958.8" y="994.6" width="11.4" height="14.1" fill="#ebf7e4"/>
<rect x="969.7" y="994.6" width="11.4" height="14.1" fill="#689ec9"/>
<rect x="980.6" y="994.6" width="65.9" height="14.1" fill="#313695"/>
<rect x="1046" y="994.6" width="11.4" height="14.1" fill="#5386bd"/>
<rect x="1056.9" y="994.6" width="11.4" height="14.1" fill="#dbf1f7"/>
<rect x="1067.8" y="994.6" width="11.4" height="14.1" fill="#fdb063"/>
<rect x="1078.7" y="994.6" width="11.4" height="14.1" fill="#e04330"/>
<rect x="1089.6" y="994.6" width="11.4" height="14.1" fill="#bd1f2b"/>
<rect x="1100.5" y="994.6" width="131.3" height="14.1" fill="#a51b2a"/>
<rect x="1231.3" y="994.6" width="10.9" height="14.1" fill="#d02a27"/>
<rect x="806.2" y="1008.3" width="11.4" height="14.1" fill="#ec5d3c"/>
<rect x="817.1" y="1008.3" width="11.4" height="14.1" fill="#a51b2a"/>
<rect x="828" y="1008.3" width="11.4" height="14.1" fill="#bd1f2b"/>
<rect x="838.9" y="1008.3" width="11.4" height="14.1" fill="#d02a27"/>
<rect x="849.8" y="1008.3" width="11.4" height="14.1" fill="#a51b2a"/>
<rect x="860.7" y="1008.3" width="11.4" height="14.1" fill="#ec5d3c"/>
<rect x="871.6" y="1008.3" width="11.4" height="14.1" fill="#fdc677"/>
<rect x="882.5" y="1008.3" width="11.4" height="14.1" fill="#d02a27"/>
<rect x="893.4" y="1008.3" width="11.4" height="14.1" fill="#e04330"/>
<rect x="904.3" y="1008.3" width="11.4" height="14.1" fill="#f67848"/>
<rect x="915.2" y="1008.3" width="22.3" height="14.1" fill="#c4e5f0"/>
<rect x="937" y="1008.3" width="11.4" height="14.1" fill="#ebf7e4"/>
<rect x="947.9" y="1008.3" width="11.4" height="14.1" fill="#dbf1f7"/>
<rect x="958.8" y="1008.3" width="11.4" height="14.1" fill="#c4e5f0"/>
<rect x="969.7" y="1008.3" width="11.4" height="14.1" fill="#426db0"/>
<rect x="980.6" y="1008.3" width="65.9" height="14.1" fill="#313695"/>
<rect x="1046" y="1008.3" width="11.4" height="14.1" fill="#689ec9"/>
<rect x="1056.9" y="1008.3" width="11.4" height="14.1" fill="#dbf1f7"/>
<rect x="1067.8" y="1008.3" width="11.4" height="14.1" fill="#feeba0"/>
<rect x="1078.7" y="1008.3" width="22.3" height="14.1" fill="#d02a27"/>
<rect x="1100.5" y="1008.3" width="141.7" height="14.1" fill="#a51b2a"/>
<rect x="806.2" y="1021.9" width="11.4" height="14.2" fill="#a51b2a"/>
<rect x="817.1" y="1021.9" width="11.4" height="14.2" fill="#f67848"/>
<rect x="828" y="1021.9" width="22.3" height="14.2" fill="#a51b2a"/>
<rect x="849.8" y="1021.9" width="11.4" height="14.2" fill="#f67848"/>
<rect x="860.7" y="1021.9" width="22.3" height="14.2" fill="#a51b2a"/>
<rect x="882.5" y="1021.9" width="11.4" height="14.2" fill="#fdb063"/>
<rect x="893.4" y="1021.9" width="22.3" height="14.2" fill="#feeba0"/>
<rect x="915.2" y="1021.9" width="11.4" height="14.2" fill="#fff8b5"/>
<rect x="926.1" y="1021.9" width="11.4" height="14.2" fill="#c4e5f0"/>
<rect x="937" y="1021.9" width="11.4" height="14.2" fill="#dbf1f7"/>
<rect x="947.9" y="1021.9" width="22.3" height="14.2" fill="#c4e5f0"/>
<rect x="969.7" y="1021.9" width="11.4" height="14.2" fill="#7eb5d5"/>
<rect x="980.6" y="1021.9" width="55" height="14.2" fill="#313695"/>
<rect x="1035.1" y="1021.9" width="22.3" height="14.2" fill="#95c8e0"/>
<rect x="1056.9" y="1021.9" width="11.4" height="14.2" fill="#ebf7e4"/>
<rect x="1067.8" y="1021.9" width="11.4" height="14.2" fill="#a51b2a"/>
<rect x="1078.7" y="1021.9" width="11.4" height="14.2" fill="#ec5d3c"/>
<rect x="1089.6" y="1021.9" width="131.3" height="14.2" fill="#a51b2a"/>
<rect x="1220.4" y="1021.9" width="11.4" height="14.2" fill="#bd1f2b"/>
<rect x="1231.3" y="1021.9" width="10.9" height="14.2" fill="#a51b2a"/>
<rect x="806.2" y="1035.5" width="55" height="14.2" fill="#a51b2a"/>
<rect x="860.7" y="1035.5" width="11.4" height="14.2" fill="#f67848"/>
<rect x="871.6" y="1035.5" width="11.4" height="14.2" fill="#d02a27"/>
<rect x="882.5" y="1035.5" width="11.4" height="14.2" fill="#f99555"/>
<rect x="893.4" y="1035.5" width="11.4" height="14.2" fill="#fdb063"/>
<rect x="904.3" y="1035.5" width="11.4" height="14.2" fill="#dbf1f7"/>
<rect x="915.2" y="1035.5" width="11.4" height="14.2" fill="#addaea"/>
<rect x="926.1" y="1035.5" width="11.4" height="14.2" fill="#c4e5f0"/>
<rect x="937" y="1035.5" width="11.4" height="14.2" fill="#689ec9"/>
<rect x="947.9" y="1035.5" width="11.4" height="14.2" fill="#addaea"/>
<rect x="958.8" y="1035.5" width="11.4" height="14.2" fill="#95c8e0"/>
<rect x="969.7" y="1035.5" width="11.4" height="14.2" fill="#dbf1f7"/>
<rect x="980.6" y="1035.5" width="11.4" height="14.2" fill="#7eb5d5"/>
<rect x="991.5" y="1035.5" width="11.4" height="14.2" fill="#95c8e0"/>
<rect x="1002.4" y="1035.5" width="11.4" height="14.2" fill="#426db0"/>
<rect x="1013.3" y="1035.5" width="11.4" height="14.2" fill="#313695"/>
<rect x="1024.2" y="1035.5" width="11.4" height="14.2" fill="#c4e5f0"/>
<rect x="1035.1" y="1035.5" width="11.4" height="14.2" fill="#689ec9"/>
<rect x="1046" y="1035.5" width="11.4" height="14.2" fill="#feeba0"/>
<rect x="1056.9" y="1035.5" width="11.4" height="14.2" fill="#f67848"/>
<rect x="1067.8" y="1035.5" width="11.4" height="14.2" fill="#f99555"/>
<rect x="1078.7" y="1035.5" width="11.4" height="14.2" fill="#ec5d3c"/>
<rect x="1089.6" y="1035.5" width="109.5" height="14.2" fill="#a51b2a"/>
<rect x="1198.6" y="1035.5" width="11.4" height="14.2" fill="#ec5d3c"/>
<rect x="1209.5" y="1035.5" width="11.4" height="14.2" fill="#a51b2a"/>
<rect x="1220.4" y="1035.5" width="11.4" height="14.2" fill="#bd1f2b"/>
<rect x="1231.3" y="1035.5" width="10.9" height="14.2" fill="#ec5d3c"/>
<rect x="806.2" y="1049.2" width="11.4" height="14.2" fill="#ec5d3c"/>
<rect x="817.1" y="1049.2" width="11.4" height="14.2" fill="#d02a27"/>
<rect x="828" y="1049.2" width="33.2" height="14.2" fill="#a51b2a"/>
<rect x="860.7" y="1049.2" width="11.4" height="14.2" fill="#f67848"/>
<rect x="871.6" y="1049.2" width="11.4" height="14.2" fill="#a51b2a"/>
<rect x="882.5" y="1049.2" width="11.4" height="14.2" fill="#ebf7e4"/>
<rect x="893.4" y="1049.2" width="22.3" height="14.2" fill="#feeba0"/>
<rect x="915.2" y="1049.2" width="11.4" height="14.2" fill="#ebf7e4"/>
<rect x="926.1" y="1049.2" width="11.4" height="14.2" fill="#689ec9"/>
<rect x="937" y="1049.2" width="11.4" height="14.2" fill="#addaea"/>
<rect x="947.9" y="1049.2" width="11.4" height="14.2" fill="#fdc677"/>
<rect x="958.8" y="1049.2" width="11.4" height="14.2" fill="#fff8b5"/>
<rect x="969.7" y="1049.2" width="11.4" height="14.2" fill="#313695"/>
<rect x="980.6" y="1049.2" width="11.4" height="14.2" fill="#feeba0"/>
<rect x="991.5" y="1049.2" width="11.4" height="14.2" fill="#5386bd"/>
<rect x="1002.4" y="1049.2" width="11.4" height="14.2" fill="#95c8e0"/>
<rect x="1013.3" y="1049.2" width="11.4" height="14.2" fill="#7eb5d5"/>
<rect x="1024.2" y="1049.2" width="11.4" height="14.2" fill="#426db0"/>
<rect x="1035.1" y="1049.2" width="11.4" height="14.2" fill="#feeba0"/>
<rect x="1046" y="1049.2" width="11.4" height="14.2" fill="#fedc8c"/>
<rect x="1056.9" y="1049.2" width="11.4" height="14.2" fill="#fdb063"/>
<rect x="1067.8" y="1049.2" width="22.3" height="14.2" fill="#a51b2a"/>
<rect x="1089.6" y="1049.2" width="11.4" height="14.2" fill="#bd1f2b"/>
<rect x="1100.5" y="1049.2" width="109.5" height="14.2" fill="#a51b2a"/>
<rect x="1209.5" y="1049.2" width="11.4" height="14.2" fill="#ec5d3c"/>
<rect x="1220.4" y="1049.2" width="11.4" height="14.2" fill="#f67848"/>
<rect x="1231.3" y="1049.2" width="10.9" height="14.2" fill="#bd1f2b"/>
<rect x="806.2" y="1062.9" width="11.4" height="14.2" fill="#bd1f2b"/>
<rect x="817.1" y="1062.9" width="11.4" height="14.2" fill="#a51b2a"/>
<rect x="828" y="1062.9" width="11.4" height="14.2" fill="#d02a27"/>
<rect x="838.9" y="1062.9" width="11.4" height="14.2" fill="#a51b2a"/>
<rect x="849.8" y="1062.9" width="11.4" height="14.2" fill="#fdb063"/>
<rect x="860.7" y="1062.9" width="11.4" height="14.2" fill="#ec5d3c"/>
<rect x="871.6" y="1062.9" width="11.4" height="14.2" fill="#feeba0"/>
<rect x="882.5" y="1062.9" width="11.4" height="14.2" fill="#d02a27"/>
<rect x="893.4" y="1062.9" width="11.4" height="14.2" fill="#fdb063"/>
<rect x="904.3" y="1062.9" width="11.4" height="14.2" fill="#dbf1f7"/>
<rect x="915.2" y="1062.9" width="11.4" height="14.2" fill="#95c8e0"/>
<rect x="926.1" y="1062.9" width="33.2" height="14.2" fill="#ebf7e4"/>
<rect x="958.8" y="1062.9" width="11.4" height="14.2" fill="#c4e5f0"/>
<rect x="969.7" y="1062.9" width="11.4" height="14.2" fill="#fdb063"/>
<rect x="980.6" y="1062.9" width="11.4" height="14.2" fill="#7eb5d5"/>
<rect x="991.5" y="1062.9" width="11.4" height="14.2" fill="#feeba0"/>
<rect x="1002.4" y="1062.9" width="11.4" height="14.2" fill="#addaea"/>
<rect x="1013.3" y="1062.9" width="11.4" height="14.2" fill="#c4e5f0"/>
<rect x="1024.2" y="1062.9" width="11.4" height="14.2" fill="#dbf1f7"/>
<rect x="1035.1" y="1062.9" width="11.4" height="14.2" fill="#feeba0"/>
<rect x="1046" y="1062.9" width="11.4" height="14.2" fill="#fff8b5"/>
<rect x="1056.9" y="1062.9" width="11.4" height="14.2" fill="#f99555"/>
<rect x="1067.8" y="1062.9" width="11.4" height="14.2" fill="#ec5d3c"/>
<rect x="1078.7" y="1062.9" width="11.4" height="14.2" fill="#d02a27"/>
<rect x="1089.6" y="1062.9" width="11.4" height="14.2" fill="#f67848"/>
<rect x="1100.5" y="1062.9" width="33.2" height="14.2" fill="#d02a27"/>
<rect x="1133.2" y="1062.9" width="11.4" height="14.2" fill="#bd1f2b"/>
<rect x="1144.1" y="1062.9" width="11.4" height="14.2" fill="#f99555"/>
<rect x="1155" y="1062.9" width="11.4" height="14.2" fill="#e04330"/>
<rect x="1165.9" y="1062.9" width="11.4" height="14.2" fill="#ec5d3c"/>
<rect x="1176.8" y="1062.9" width="11.4" height="14.2" fill="#d02a27"/>
<rect x="1187.7" y="1062.9" width="11.4" height="14.2" fill="#ec5d3c"/>
<rect x="1198.6" y="1062.9" width="11.4" height="14.2" fill="#f99555"/>
<rect x="1209.5" y="1062.9" width="22.3" height="14.2" fill="#fdb063"/>
<rect x="1231.3" y="1062.9" width="10.9" height="14.2" fill="#f99555"/>
<rect x="806.2" y="1076.6" width="11.4" height="14.2" fill="#feeba0"/>
<rect x="817.1" y="1076.6" width="11.4" height="14.2" fill="#fdb063"/>
<rect x="828" y="1076.6" width="11.4" height="14.2" fill="#a51b2a"/>
<rect x="838.9" y="1076.6" width="33.2" height="14.2" fill="#fdc677"/>
<rect x="871.6" y="1076.6" width="11.4" height="14.2" fill="#feeba0"/>
<rect x="882.5" y="1076.6" width="11.4" height="14.2" fill="#ebf7e4"/>
<rect x="893.4" y="1076.6" width="11.4" height="14.2" fill="#fff8b5"/>
<rect x="904.3" y="1076.6" width="11.4" height="14.2" fill="#c4e5f0"/>
<rect x="915.2" y="1076.6" width="11.4" height="14.2" fill="#addaea"/>
<rect x="926.1" y="1076.6" width="11.4" height="14.2" fill="#dbf1f7"/>
<rect x="937" y="1076.6" width="11.4" height="14.2" fill="#ebf7e4"/>
<rect x="947.9" y="1076.6" width="11.4" height="14.2" fill="#addaea"/>
<rect x="958.8" y="1076.6" width="11.4" height="14.2" fill="#feeba0"/>
<rect x="969.7" y="1076.6" width="11.4" height="14.2" fill="#fdc677"/>
<rect x="980.6" y="1076.6" width="11.4" height="14.2" fill="#fff8b5"/>
<rect x="991.5" y="1076.6" width="11.4" height="14.2" fill="#c4e5f0"/>
<rect x="1002.4" y="1076.6" width="11.4" height="14.2" fill="#fff8b5"/>
<rect x="1013.3" y="1076.6" width="11.4" height="14.2" fill="#f8fccb"/>
<rect x="1024.2" y="1076.6" width="11.4" height="14.2" fill="#feeba0"/>
<rect x="1035.1" y="1076.6" width="11.4" height="14.2" fill="#ebf7e4"/>
<rect x="1046" y="1076.6" width="11.4" height="14.2" fill="#fff8b5"/>
<rect x="1056.9" y="1076.6" width="11.4" height="14.2" fill="#fdc677"/>
<rect x="1067.8" y="1076.6" width="11.4" height="14.2" fill="#fff8b5"/>
<rect x="1078.7" y="1076.6" width="11.4" height="14.2" fill="#fdb063"/>
<rect x="1089.6" y="1076.6" width="22.3" height="14.2" fill="#fedc8c"/>
<rect x="1111.4" y="1076.6" width="11.4" height="14.2" fill="#fdb063"/>
<rect x="1122.3" y="1076.6" width="11.4" height="14.2" fill="#feeba0"/>
<rect x="1133.2" y="1076.6" width="11.4" height="14.2" fill="#f99555"/>
<rect x="1144.1" y="1076.6" width="11.4" height="14.2" fill="#fdb063"/>
<rect x="1155" y="1076.6" width="11.4" height="14.2" fill="#feeba0"/>
<rect x="1165.9" y="1076.6" width="11.4" height="14.2" fill="#fff8b5"/>
<rect x="1176.8" y="1076.6" width="11.4" height="14.2" fill="#f99555"/>
<rect x="1187.7" y="1076.6" width="11.4" height="14.2" fill="#fff8b5"/>
<rect x="1198.6" y="1076.6" width="22.3" height="14.2" fill="#fedc8c"/>
<rect x="1220.4" y="1076.6" width="11.4" height="14.2" fill="#fff8b5"/>
<rect x="1231.3" y="1076.6" width="10.9" height="14.2" fill="#fdc677"/>
<rect x="806.2" y="1090.2" width="11.4" height="14.2" fill="#ec5d3c"/>
<rect x="817.1" y="1090.2" width="11.4" height="14.2" fill="#f67848"/>
<rect x="828" y="1090.2" width="11.4" height="14.2" fill="#fdc677"/>
<rect x="838.9" y="1090.2" width="11.4" height="14.2" fill="#f99555"/>
<rect x="849.8" y="1090.2" width="11.4" height="14.2" fill="#feeba0"/>
<rect x="860.7" y="1090.2" width="11.4" height="14.2" fill="#fdb063"/>
<rect x="871.6" y="1090.2" width="11.4" height="14.2" fill="#ebf7e4"/>
<rect x="882.5" y="1090.2" width="11.4" height="14.2" fill="#feeba0"/>
<rect x="893.4" y="1090.2" width="22.3" height="14.2" fill="#c4e5f0"/>
<rect x="915.2" y="1090.2" width="11.4" height="14.2" fill="#feeba0"/>
<rect x="926.1" y="1090.2" width="11.4" height="14.2" fill="#7eb5d5"/>
<rect x="937" y="1090.2" width="22.3" height="14.2" fill="#fff8b5"/>
<rect x="958.8" y="1090.2" width="11.4" height="14.2" fill="#fdc677"/>
<rect x="969.7" y="1090.2" width="11.4" height="14.2" fill="#c4e5f0"/>
<rect x="980.6" y="1090.2" width="11.4" height="14.2" fill="#fdb063"/>
<rect x="991.5" y="1090.2" width="11.4" height="14.2" fill="#f8fccb"/>
<rect x="1002.4" y="1090.2" width="11.4" height="14.2" fill="#dbf1f7"/>
<rect x="1013.3" y="1090.2" width="11.4" height="14.2" fill="#ebf7e4"/>
<rect x="1024.2" y="1090.2" width="11.4" height="14.2" fill="#dbf1f7"/>
<rect x="1035.1" y="1090.2" width="11.4" height="14.2" fill="#ebf7e4"/>
<rect x="1046" y="1090.2" width="11.4" height="14.2" fill="#689ec9"/>
<rect x="1056.9" y="1090.2" width="22.3" height="14.2" fill="#f8fccb"/>
<rect x="1078.7" y="1090.2" width="11.4" height="14.2" fill="#c4e5f0"/>
<rect x="1089.6" y="1090.2" width="11.4" height="14.2" fill="#ebf7e4"/>
<rect x="1100.5" y="1090.2" width="11.4" height="14.2" fill="#c4e5f0"/>
<rect x="1111.4" y="1090.2" width="11.4" height="14.2" fill="#ebf7e4"/>
<rect x="1122.3" y="1090.2" width="11.4" height="14.2" fill="#95c8e0"/>
<rect x="1133.2" y="1090.2" width="11.4" height="14.2" fill="#feeba0"/>
<rect x="1144.1" y="1090.2" width="11.4" height="14.2" fill="#95c8e0"/>
<rect x="1155" y="1090.2" width="11.4" height="14.2" fill="#dbf1f7"/>
<rect x="1165.9" y="1090.2" width="11.4" height="14.2" fill="#fedc8c"/>
<rect x="1176.8" y="1090.2" width="11.4" height="14.2" fill="#addaea"/>
<rect x="1187.7" y="1090.2" width="11.4" height="14.2" fill="#c4e5f0"/>
<rect x="1198.6" y="1090.2" width="11.4" height="14.2" fill="#dbf1f7"/>
<rect x="1209.5" y="1090.2" width="11.4" height="14.2" fill="#95c8e0"/>
<rect x="1220.4" y="1090.2" width="11.4" height="14.2" fill="#fff8b5"/>
<rect x="1231.3" y="1090.2" width="10.9" height="14.2" fill="#c4e5f0"/>
<rect x="806.2" y="1103.9" width="11.4" height="14.2" fill="#fdc677"/>
<rect x="817.1" y="1103.9" width="11.4" height="14.2" fill="#ebf7e4"/>
<rect x="828" y="1103.9" width="11.4" height="14.2" fill="#fedc8c"/>
<rect x="838.9" y="1103.9" width="11.4" height="14.2" fill="#f67848"/>
<rect x="849.8" y="1103.9" width="11.4" height="14.2" fill="#dbf1f7"/>
<rect x="860.7" y="1103.9" width="11.4" height="14.2" fill="#addaea"/>
<rect x="871.6" y="1103.9" width="11.4" height="14.2" fill="#dbf1f7"/>
<rect x="882.5" y="1103.9" width="22.3" height="14.2" fill="#addaea"/>
<rect x="904.3" y="1103.9" width="11.4" height="14.2" fill="#dbf1f7"/>
<rect x="915.2" y="1103.9" width="11.4" height="14.2" fill="#95c8e0"/>
<rect x="926.1" y="1103.9" width="11.4" height="14.2" fill="#dbf1f7"/>
<rect x="937" y="1103.9" width="11.4" height="14.2" fill="#c4e5f0"/>
<rect x="947.9" y="1103.9" width="11.4" height="14.2" fill="#fdc677"/>
<rect x="958.8" y="1103.9" width="11.4" height="14.2" fill="#fff8b5"/>
<rect x="969.7" y="1103.9" width="11.4" height="14.2" fill="#ec5d3c"/>
<rect x="980.6" y="1103.9" width="11.4" height="14.2" fill="#689ec9"/>
<rect x="991.5" y="1103.9" width="11.4" height="14.2" fill="#fff8b5"/>
<rect x="1002.4" y="1103.9" width="11.4" height="14.2" fill="#feeba0"/>
<rect x="1013.3" y="1103.9" width="11.4" height="14.2" fill="#ebf7e4"/>
<rect x="1024.2" y="1103.9" width="11.4" height="14.2" fill="#addaea"/>
<rect x="1035.1" y="1103.9" width="11.4" height="14.2" fill="#5386bd"/>
<rect x="1046" y="1103.9" width="11.4" height="14.2" fill="#feeba0"/>
<rect x="1056.9" y="1103.9" width="11.4" height="14.2" fill="#c4e5f0"/>
<rect x="1067.8" y="1103.9" width="11.4" height="14.2" fill="#5386bd"/>
<rect x="1078.7" y="1103.9" width="22.3" height="14.2" fill="#689ec9"/>
<rect x="1100.5" y="1103.9" width="11.4" height="14.2" fill="#3a51a2"/>
<rect x="1111.4" y="1103.9" width="11.4" height="14.2" fill="#426db0"/>
<rect x="1122.3" y="1103.9" width="11.4" height="14.2" fill="#3a51a2"/>
<rect x="1133.2" y="1103.9" width="11.4" height="14.2" fill="#313695"/>
<rect x="1144.1" y="1103.9" width="11.4" height="14.2" fill="#c4e5f0"/>
<rect x="1155" y="1103.9" width="11.4" height="14.2" fill="#426db0"/>
<rect x="1165.9" y="1103.9" width="11.4" height="14.2" fill="#3a51a2"/>
<rect x="1176.8" y="1103.9" width="11.4" height="14.2" fill="#689ec9"/>
<rect x="1187.7" y="1103.9" width="22.3" height="14.2" fill="#426db0"/>
<rect x="1209.5" y="1103.9" width="11.4" height="14.2" fill="#7eb5d5"/>
<rect x="1220.4" y="1103.9" width="11.4" height="14.2" fill="#addaea"/>
<rect x="1231.3" y="1103.9" width="10.9" height="14.2" fill="#7eb5d5"/>
<rect x="806.2" y="1117.7" width="33.2" height="14.2" fill="#fff8b5"/>
<rect x="838.9" y="1117.7" width="22.3" height="14.2" fill="#f8fccb"/>
<rect x="860.7" y="1117.7" width="11.4" height="14.2" fill="#c4e5f0"/>
<rect x="871.6" y="1117.7" width="11.4" height="14.2" fill="#dbf1f7"/>
<rect x="882.5" y="1117.7" width="11.4" height="14.2" fill="#addaea"/>
<rect x="893.4" y="1117.7" width="22.3" height="14.2" fill="#c4e5f0"/>
<rect x="915.2" y="1117.7" width="11.4" height="14.2" fill="#95c8e0"/>
<rect x="926.1" y="1117.7" width="11.4" height="14.2" fill="#689ec9"/>
<rect x="937" y="1117.7" width="11.4" height="14.2" fill="#c4e5f0"/>
<rect x="947.9" y="1117.7" width="11.4" height="14.2" fill="#dbf1f7"/>
<rect x="958.8" y="1117.7" width="22.3" height="14.2" fill="#fff8b5"/>
<rect x="980.6" y="1117.7" width="22.3" height="14.2" fill="#f8fccb"/>
<rect x="1002.4" y="1117.7" width="11.4" height="14.2" fill="#addaea"/>
<rect x="1013.3" y="1117.7" width="11.4" height="14.2" fill="#f8fccb"/>
<rect x="1024.2" y="1117.7" width="11.4" height="14.2" fill="#7eb5d5"/>
<rect x="1035.1" y="1117.7" width="11.4" height="14.2" fill="#fff8b5"/>
<rect x="1046" y="1117.7" width="22.3" height="14.2" fill="#3a51a2"/>
<rect x="1067.8" y="1117.7" width="11.4" height="14.2" fill="#689ec9"/>
<rect x="1078.7" y="1117.7" width="55" height="14.2" fill="#313695"/>
<rect x="1133.2" y="1117.7" width="11.4" height="14.2" fill="#3a51a2"/>
<rect x="1144.1" y="1117.7" width="76.8" height="14.2" fill="#313695"/>
<rect x="1220.4" y="1117.7" width="11.4" height="14.2" fill="#5386bd"/>
<rect x="1231.3" y="1117.7" width="10.9" height="14.2" fill="#313695"/>
<rect x="806.2" y="1131.4" width="11.4" height="14.2" fill="#dbf1f7"/>
<rect x="817.1" y="1131.4" width="11.4" height="14.2" fill="#95c8e0"/>
<rect x="828" y="1131.4" width="11.4" height="14.2" fill="#fdc677"/>
<rect x="838.9" y="1131.4" width="11.4" height="14.2" fill="#addaea"/>
<rect x="849.8" y="1131.4" width="11.4" height="14.2" fill="#95c8e0"/>
<rect x="860.7" y="1131.4" width="11.4" height="14.2" fill="#7eb5d5"/>
<rect x="871.6" y="1131.4" width="11.4" height="14.2" fill="#5386bd"/>
<rect x="882.5" y="1131.4" width="11.4" height="14.2" fill="#ebf7e4"/>
<rect x="893.4" y="1131.4" width="22.3" height="14.2" fill="#c4e5f0"/>
<rect x="915.2" y="1131.4" width="22.3" height="14.2" fill="#dbf1f7"/>
<rect x="937" y="1131.4" width="11.4" height="14.2" fill="#addaea"/>
<rect x="947.9" y="1131.4" width="11.4" height="14.2" fill="#fedc8c"/>
<rect x="958.8" y="1131.4" width="11.4" height="14.2" fill="#fff8b5"/>
<rect x="969.7" y="1131.4" width="33.2" height="14.2" fill="#dbf1f7"/>
<rect x="1002.4" y="1131.4" width="11.4" height="14.2" fill="#95c8e0"/>
<rect x="1013.3" y="1131.4" width="11.4" height="14.2" fill="#addaea"/>
<rect x="1024.2" y="1131.4" width="11.4" height="14.2" fill="#3a51a2"/>
<rect x="1035.1" y="1131.4" width="11.4" height="14.2" fill="#426db0"/>
<rect x="1046" y="1131.4" width="11.4" height="14.2" fill="#689ec9"/>
<rect x="1056.9" y="1131.4" width="11.4" height="14.2" fill="#3a51a2"/>
<rect x="1067.8" y="1131.4" width="142.2" height="14.2" fill="#313695"/>
<rect x="1209.5" y="1131.4" width="11.4" height="14.2" fill="#3a51a2"/>
<rect x="1220.4" y="1131.4" width="11.4" height="14.2" fill="#313695"/>
<rect x="1231.3" y="1131.4" width="10.9" height="14.2" fill="#7eb5d5"/>
<rect x="806.2" y="1145.1" width="11.4" height="14.2" fill="#dbf1f7"/>
<rect x="817.1" y="1145.1" width="11.4" height="14.2" fill="#addaea"/>
<rect x="828" y="1145.1" width="11.4" height="14.2" fill="#95c8e0"/>
<rect x="838.9" y="1145.1" width="33.2" height="14.2" fill="#7eb5d5"/>
<rect x="871.6" y="1145.1" width="11.4" height="14.2" fill="#689ec9"/>
<rect x="882.5" y="1145.1" width="11.4" height="14.2" fill="#7eb5d5"/>
<rect x="893.4" y="1145.1" width="11.4" height="14.2" fill="#95c8e0"/>
<rect x="904.3" y="1145.1" width="11.4" height="14.2" fill="#addaea"/>
<rect x="915.2" y="1145.1" width="11.4" height="14.2" fill="#313695"/>
<rect x="926.1" y="1145.1" width="11.4" height="14.2" fill="#feeba0"/>
<rect x="937" y="1145.1" width="11.4" height="14.2" fill="#c4e5f0"/>
<rect x="947.9" y="1145.1" width="11.4" height="14.2" fill="#689ec9"/>
<rect x="958.8" y="1145.1" width="11.4" height="14.2" fill="#feeba0"/>
<rect x="969.7" y="1145.1" width="11.4" height="14.2" fill="#addaea"/>
<rect x="980.6" y="1145.1" width="11.4" height="14.2" fill="#fedc8c"/>
<rect x="991.5" y="1145.1" width="33.2" height="14.2" fill="#c4e5f0"/>
<rect x="1024.2" y="1145.1" width="11.4" height="14.2" fill="#addaea"/>
<rect x="1035.1" y="1145.1" width="11.4" height="14.2" fill="#5386bd"/>
<rect x="1046" y="1145.1" width="11.4" height="14.2" fill="#3a51a2"/>
<rect x="1056.9" y="1145.1" width="185.3" height="14.2" fill="#313695"/>
<rect x="806.2" y="1158.8" width="11.4" height="14.2" fill="#7eb5d5"/>
<rect x="817.1" y="1158.8" width="11.4" height="14.2" fill="#c4e5f0"/>
<rect x="828" y="1158.8" width="11.4" height="14.2" fill="#ebf7e4"/>
<rect x="838.9" y="1158.8" width="11.4" height="14.2" fill="#689ec9"/>
<rect x="849.8" y="1158.8" width="11.4" height="14.2" fill="#c4e5f0"/>
<rect x="860.7" y="1158.8" width="11.4" height="14.2" fill="#3a51a2"/>
<rect x="871.6" y="1158.8" width="11.4" height="14.2" fill="#dbf1f7"/>
<rect x="882.5" y="1158.8" width="11.4" height="14.2" fill="#7eb5d5"/>
<rect x="893.4" y="1158.8" width="22.3" height="14.2" fill="#95c8e0"/>
<rect x="915.2" y="1158.8" width="11.4" height="14.2" fill="#addaea"/>
<rect x="926.1" y="1158.8" width="11.4" height="14.2" fill="#689ec9"/>
<rect x="937" y="1158.8" width="11.4" height="14.2" fill="#c4e5f0"/>
<rect x="947.9" y="1158.8" width="11.4" height="14.2" fill="#fdb063"/>
<rect x="958.8" y="1158.8" width="11.4" height="14.2" fill="#addaea"/>
<rect x="969.7" y="1158.8" width="11.4" height="14.2" fill="#fedc8c"/>
<rect x="980.6" y="1158.8" width="11.4" height="14.2" fill="#c4e5f0"/>
<rect x="991.5" y="1158.8" width="11.4" height="14.2" fill="#feeba0"/>
<rect x="1002.4" y="1158.8" width="11.4" height="14.2" fill="#c4e5f0"/>
<rect x="1013.3" y="1158.8" width="11.4" height="14.2" fill="#95c8e0"/>
<rect x="1024.2" y="1158.8" width="11.4" height="14.2" fill="#313695"/>
<rect x="1035.1" y="1158.8" width="11.4" height="14.2" fill="#addaea"/>
<rect x="1046" y="1158.8" width="196.2" height="14.2" fill="#313695"/>
<rect x="806.2" y="1172.6" width="11.4" height="14.3" fill="#c4e5f0"/>
<rect x="817.1" y="1172.6" width="11.4" height="14.3" fill="#addaea"/>
<rect x="828" y="1172.6" width="11.4" height="14.3" fill="#7eb5d5"/>
<rect x="838.9" y="1172.6" width="11.4" height="14.3" fill="#addaea"/>
<rect x="849.8" y="1172.6" width="22.3" height="14.3" fill="#95c8e0"/>
<rect x="871.6" y="1172.6" width="11.4" height="14.3" fill="#426db0"/>
<rect x="882.5" y="1172.6" width="33.2" height="14.3" fill="#95c8e0"/>
<rect x="915.2" y="1172.6" width="11.4" height="14.3" fill="#c4e5f0"/>
<rect x="926.1" y="1172.6" width="11.4" height="14.3" fill="#dbf1f7"/>
<rect x="937" y="1172.6" width="11.4" height="14.3" fill="#fdc677"/>
<rect x="947.9" y="1172.6" width="11.4" height="14.3" fill="#c4e5f0"/>
<rect x="958.8" y="1172.6" width="11.4" height="14.3" fill="#feeba0"/>
<rect x="969.7" y="1172.6" width="11.4" height="14.3" fill="#addaea"/>
<rect x="980.6" y="1172.6" width="11.4" height="14.3" fill="#fdb063"/>
<rect x="991.5" y="1172.6" width="11.4" height="14.3" fill="#dbf1f7"/>
<rect x="1002.4" y="1172.6" width="11.4" height="14.3" fill="#f8fccb"/>
<rect x="1013.3" y="1172.6" width="11.4" height="14.3" fill="#addaea"/>
<rect x="1024.2" y="1172.6" width="11.4" height="14.3" fill="#feeba0"/>
<rect x="1035.1" y="1172.6" width="11.4" height="14.3" fill="#3a51a2"/>
<rect x="1046" y="1172.6" width="11.4" height="14.3" fill="#7eb5d5"/>
<rect x="1056.9" y="1172.6" width="11.4" height="14.3" fill="#689ec9"/>
<rect x="1067.8" y="1172.6" width="174.4" height="14.3" fill="#313695"/>
<rect x="806.2" y="1186.3" width="11.4" height="14.3" fill="#95c8e0"/>
<rect x="817.1" y="1186.3" width="11.4" height="14.3" fill="#dbf1f7"/>
<rect x="828" y="1186.3" width="11.4" height="14.3" fill="#c4e5f0"/>
<rect x="838.9" y="1186.3" width="11.4" height="14.3" fill="#fff8b5"/>
<rect x="849.8" y="1186.3" width="11.4" height="14.3" fill="#689ec9"/>
<rect x="860.7" y="1186.3" width="33.2" height="14.3" fill="#c4e5f0"/>
<rect x="893.4" y="1186.3" width="11.4" height="14.3" fill="#ebf7e4"/>
<rect x="904.3" y="1186.3" width="11.4" height="14.3" fill="#fff8b5"/>
<rect x="915.2" y="1186.3" width="11.4" height="14.3" fill="#ebf7e4"/>
<rect x="926.1" y="1186.3" width="11.4" height="14.3" fill="#fdb063"/>
<rect x="937" y="1186.3" width="11.4" height="14.3" fill="#feeba0"/>
<rect x="947.9" y="1186.3" width="11.4" height="14.3" fill="#fdb063"/>
<rect x="958.8" y="1186.3" width="11.4" height="14.3" fill="#fdc677"/>
<rect x="969.7" y="1186.3" width="11.4" height="14.3" fill="#fdb063"/>
<rect x="980.6" y="1186.3" width="22.3" height="14.3" fill="#feeba0"/>
<rect x="1002.4" y="1186.3" width="11.4" height="14.3" fill="#c4e5f0"/>
<rect x="1013.3" y="1186.3" width="11.4" height="14.3" fill="#feeba0"/>
<rect x="1024.2" y="1186.3" width="11.4" height="14.3" fill="#7eb5d5"/>
<rect x="1035.1" y="1186.3" width="11.4" height="14.3" fill="#addaea"/>
<rect x="1046" y="1186.3" width="11.4" height="14.3" fill="#95c8e0"/>
<rect x="1056.9" y="1186.3" width="11.4" height="14.3" fill="#426db0"/>
<rect x="1067.8" y="1186.3" width="11.4" height="14.3" fill="#689ec9"/>
<rect x="1078.7" y="1186.3" width="163.5" height="14.3" fill="#313695"/>
<rect x="806.2" y="1200.1" width="11.4" height="14.3" fill="#ebf7e4"/>
<rect x="817.1" y="1200.1" width="22.3" height="14.3" fill="#dbf1f7"/>
<rect x="838.9" y="1200.1" width="22.3" height="14.3" fill="#fff8b5"/>
<rect x="860.7" y="1200.1" width="11.4" height="14.3" fill="#dbf1f7"/>
<rect x="871.6" y="1200.1" width="11.4" height="14.3" fill="#fff8b5"/>
<rect x="882.5" y="1200.1" width="11.4" height="14.3" fill="#f8fccb"/>
<rect x="893.4" y="1200.1" width="11.4" height="14.3" fill="#feeba0"/>
<rect x="904.3" y="1200.1" width="11.4" height="14.3" fill="#fdb063"/>
<rect x="915.2" y="1200.1" width="11.4" height="14.3" fill="#fff8b5"/>
<rect x="926.1" y="1200.1" width="11.4" height="14.3" fill="#f99555"/>
<rect x="937" y="1200.1" width="11.4" height="14.3" fill="#e04330"/>
<rect x="947.9" y="1200.1" width="11.4" height="14.3" fill="#feeba0"/>
<rect x="958.8" y="1200.1" width="11.4" height="14.3" fill="#d02a27"/>
<rect x="969.7" y="1200.1" width="11.4" height="14.3" fill="#fedc8c"/>
<rect x="980.6" y="1200.1" width="11.4" height="14.3" fill="#fdb063"/>
<rect x="991.5" y="1200.1" width="11.4" height="14.3" fill="#fff8b5"/>
<rect x="1002.4" y="1200.1" width="22.3" height="14.3" fill="#fdc677"/>
<rect x="1024.2" y="1200.1" width="11.4" height="14.3" fill="#f99555"/>
<rect x="1035.1" y="1200.1" width="11.4" height="14.3" fill="#ebf7e4"/>
<rect x="1046" y="1200.1" width="11.4" height="14.3" fill="#689ec9"/>
<rect x="1056.9" y="1200.1" width="11.4" height="14.3" fill="#3a51a2"/>
<rect x="1067.8" y="1200.1" width="11.4" height="14.3" fill="#689ec9"/>
<rect x="1078.7" y="1200.1" width="11.4" height="14.3" fill="#3a51a2"/>
<rect x="1089.6" y="1200.1" width="142.2" height="14.3" fill="#313695"/>
<rect x="1231.3" y="1200.1" width="10.9" height="14.3" fill="#3a51a2"/>
<rect x="806.2" y="1213.9" width="11.4" height="14.3" fill="#dbf1f7"/>
<rect x="817.1" y="1213.9" width="11.4" height="14.3" fill="#fff8b5"/>
<rect x="828" y="1213.9" width="22.3" height="14.3" fill="#feeba0"/>
<rect x="849.8" y="1213.9" width="11.4" height="14.3" fill="#ebf7e4"/>
<rect x="860.7" y="1213.9" width="11.4" height="14.3" fill="#fff8b5"/>
<rect x="871.6" y="1213.9" width="11.4" height="14.3" fill="#feeba0"/>
<rect x="882.5" y="1213.9" width="11.4" height="14.3" fill="#f8fccb"/>
<rect x="893.4" y="1213.9" width="11.4" height="14.3" fill="#fdb063"/>
<rect x="904.3" y="1213.9" width="11.4" height="14.3" fill="#f8fccb"/>
<rect x="915.2" y="1213.9" width="22.3" height="14.3" fill="#fdb063"/>
<rect x="937" y="1213.9" width="11.4" height="14.3" fill="#f99555"/>
<rect x="947.9" y="1213.9" width="11.4" height="14.3" fill="#f67848"/>
<rect x="958.8" y="1213.9" width="11.4" height="14.3" fill="#a51b2a"/>
<rect x="969.7" y="1213.9" width="11.4" height="14.3" fill="#feeba0"/>
<rect x="980.6" y="1213.9" width="11.4" height="14.3" fill="#f67848"/>
<rect x="991.5" y="1213.9" width="11.4" height="14.3" fill="#f99555"/>
<rect x="1002.4" y="1213.9" width="11.4" height="14.3" fill="#ec5d3c"/>
<rect x="1013.3" y="1213.9" width="11.4" height="14.3" fill="#feeba0"/>
<rect x="1024.2" y="1213.9" width="11.4" height="14.3" fill="#fff8b5"/>
<rect x="1035.1" y="1213.9" width="11.4" height="14.3" fill="#feeba0"/>
<rect x="1046" y="1213.9" width="11.4" height="14.3" fill="#dbf1f7"/>
<rect x="1056.9" y="1213.9" width="11.4" height="14.3" fill="#7eb5d5"/>
<rect x="1067.8" y="1213.9" width="11.4" height="14.3" fill="#5386bd"/>
<rect x="1078.7" y="1213.9" width="11.4" height="14.3" fill="#c4e5f0"/>
<rect x="1089.6" y="1213.9" width="11.4" height="14.3" fill="#426db0"/>
<rect x="1100.5" y="1213.9" width="11.4" height="14.3" fill="#689ec9"/>
<rect x="1111.4" y="1213.9" width="22.3" height="14.3" fill="#426db0"/>
<rect x="1133.2" y="1213.9" width="22.3" height="14.3" fill="#313695"/>
<rect x="1155" y="1213.9" width="11.4" height="14.3" fill="#7eb5d5"/>
<rect x="1165.9" y="1213.9" width="11.4" height="14.3" fill="#5386bd"/>
<rect x="1176.8" y="1213.9" width="11.4" height="14.3" fill="#426db0"/>
<rect x="1187.7" y="1213.9" width="11.4" height="14.3" fill="#689ec9"/>
<rect x="1198.6" y="1213.9" width="11.4" height="14.3" fill="#313695"/>
<rect x="1209.5" y="1213.9" width="11.4" height="14.3" fill="#7eb5d5"/>
<rect x="1220.4" y="1213.9" width="21.8" height="14.3" fill="#313695"/>
<rect x="806.2" y="1227.6" width="11.4" height="14.3" fill="#fff8b5"/>
<rect x="817.1" y="1227.6" width="11.4" height="14.3" fill="#95c8e0"/>
<rect x="828" y="1227.6" width="11.4" height="14.3" fill="#fdb063"/>
<rect x="838.9" y="1227.6" width="11.4" height="14.3" fill="#ebf7e4"/>
<rect x="849.8" y="1227.6" width="11.4" height="14.3" fill="#dbf1f7"/>
<rect x="860.7" y="1227.6" width="11.4" height="14.3" fill="#feeba0"/>
<rect x="871.6" y="1227.6" width="11.4" height="14.3" fill="#ebf7e4"/>
<rect x="882.5" y="1227.6" width="11.4" height="14.3" fill="#fdb063"/>
<rect x="893.4" y="1227.6" width="11.4" height="14.3" fill="#ec5d3c"/>
<rect x="904.3" y="1227.6" width="11.4" height="14.3" fill="#feeba0"/>
<rect x="915.2" y="1227.6" width="11.4" height="14.3" fill="#f67848"/>
<rect x="926.1" y="1227.6" width="11.4" height="14.3" fill="#ec5d3c"/>
<rect x="937" y="1227.6" width="11.4" height="14.3" fill="#f67848"/>
<rect x="947.9" y="1227.6" width="22.3" height="14.3" fill="#f99555"/>
<rect x="969.7" y="1227.6" width="11.4" height="14.3" fill="#d02a27"/>
<rect x="980.6" y="1227.6" width="22.3" height="14.3" fill="#f99555"/>
<rect x="1002.4" y="1227.6" width="11.4" height="14.3" fill="#ebf7e4"/>
<rect x="1013.3" y="1227.6" width="11.4" height="14.3" fill="#feeba0"/>
<rect x="1024.2" y="1227.6" width="11.4" height="14.3" fill="#fdc677"/>
<rect x="1035.1" y="1227.6" width="11.4" height="14.3" fill="#c4e5f0"/>
<rect x="1046" y="1227.6" width="22.3" height="14.3" fill="#dbf1f7"/>
<rect x="1067.8" y="1227.6" width="11.4" height="14.3" fill="#95c8e0"/>
<rect x="1078.7" y="1227.6" width="11.4" height="14.3" fill="#313695"/>
<rect x="1089.6" y="1227.6" width="22.3" height="14.3" fill="#689ec9"/>
<rect x="1111.4" y="1227.6" width="11.4" height="14.3" fill="#3a51a2"/>
<rect x="1122.3" y="1227.6" width="11.4" height="14.3" fill="#5386bd"/>
<rect x="1133.2" y="1227.6" width="11.4" height="14.3" fill="#7eb5d5"/>
<rect x="1144.1" y="1227.6" width="11.4" height="14.3" fill="#426db0"/>
<rect x="1155" y="1227.6" width="11.4" height="14.3" fill="#313695"/>
<rect x="1165.9" y="1227.6" width="11.4" height="14.3" fill="#addaea"/>
<rect x="1176.8" y="1227.6" width="11.4" height="14.3" fill="#313695"/>
<rect x="1187.7" y="1227.6" width="11.4" height="14.3" fill="#3a51a2"/>
<rect x="1198.6" y="1227.6" width="11.4" height="14.3" fill="#313695"/>
<rect x="1209.5" y="1227.6" width="11.4" height="14.3" fill="#689ec9"/>
<rect x="1220.4" y="1227.6" width="11.4" height="14.3" fill="#5386bd"/>
<rect x="1231.3" y="1227.6" width="10.9" height="14.3" fill="#689ec9"/>
<rect x="806.2" y="1241.4" width="11.4" height="14.3" fill="#ebf7e4"/>
<rect x="817.1" y="1241.4" width="11.4" height="14.3" fill="#fff8b5"/>
<rect x="828" y="1241.4" width="11.4" height="14.3" fill="#fdb063"/>
<rect x="838.9" y="1241.4" width="11.4" height="14.3" fill="#fdc677"/>
<rect x="849.8" y="1241.4" width="11.4" height="14.3" fill="#f67848"/>
<rect x="860.7" y="1241.4" width="11.4" height="14.3" fill="#c4e5f0"/>
<rect x="871.6" y="1241.4" width="11.4" height="14.3" fill="#fdc677"/>
<rect x="882.5" y="1241.4" width="11.4" height="14.3" fill="#c4e5f0"/>
<rect x="893.4" y="1241.4" width="11.4" height="14.3" fill="#f99555"/>
<rect x="904.3" y="1241.4" width="11.4" height="14.3" fill="#f67848"/>
<rect x="915.2" y="1241.4" width="11.4" height="14.3" fill="#f99555"/>
<rect x="926.1" y="1241.4" width="11.4" height="14.3" fill="#ec5d3c"/>
<rect x="937" y="1241.4" width="11.4" height="14.3" fill="#d02a27"/>
<rect x="947.9" y="1241.4" width="11.4" height="14.3" fill="#fdc677"/>
<rect x="958.8" y="1241.4" width="11.4" height="14.3" fill="#ec5d3c"/>
<rect x="969.7" y="1241.4" width="11.4" height="14.3" fill="#f67848"/>
<rect x="980.6" y="1241.4" width="11.4" height="14.3" fill="#f99555"/>
<rect x="991.5" y="1241.4" width="11.4" height="14.3" fill="#ec5d3c"/>
<rect x="1002.4" y="1241.4" width="22.3" height="14.3" fill="#fdc677"/>
<rect x="1024.2" y="1241.4" width="11.4" height="14.3" fill="#c4e5f0"/>
<rect x="1035.1" y="1241.4" width="11.4" height="14.3" fill="#fff8b5"/>
<rect x="1046" y="1241.4" width="22.3" height="14.3" fill="#95c8e0"/>
<rect x="1067.8" y="1241.4" width="11.4" height="14.3" fill="#5386bd"/>
<rect x="1078.7" y="1241.4" width="11.4" height="14.3" fill="#dbf1f7"/>
<rect x="1089.6" y="1241.4" width="22.3" height="14.3" fill="#3a51a2"/>
<rect x="1111.4" y="1241.4" width="11.4" height="14.3" fill="#addaea"/>
<rect x="1122.3" y="1241.4" width="11.4" height="14.3" fill="#313695"/>
<rect x="1133.2" y="1241.4" width="11.4" height="14.3" fill="#3a51a2"/>
<rect x="1144.1" y="1241.4" width="11.4" height="14.3" fill="#689ec9"/>
<rect x="1155" y="1241.4" width="11.4" height="14.3" fill="#426db0"/>
<rect x="1165.9" y="1241.4" width="11.4" height="14.3" fill="#7eb5d5"/>
<rect x="1176.8" y="1241.4" width="11.4" height="14.3" fill="#426db0"/>
<rect x="1187.7" y="1241.4" width="22.3" height="14.3" fill="#addaea"/>
<rect x="1209.5" y="1241.4" width="11.4" height="14.3" fill="#689ec9"/>
<rect x="1220.4" y="1241.4" width="11.4" height="14.3" fill="#7eb5d5"/>
<rect x="1231.3" y="1241.4" width="10.9" height="14.3" fill="#dbf1f7"/>
<rect x="806.2" y="1255.2" width="11.4" height="14.3" fill="#fff8b5"/>
<rect x="817.1" y="1255.2" width="11.4" height="14.3" fill="#ebf7e4"/>
<rect x="828" y="1255.2" width="11.4" height="14.3" fill="#dbf1f7"/>
<rect x="838.9" y="1255.2" width="11.4" height="14.3" fill="#ebf7e4"/>
<rect x="849.8" y="1255.2" width="11.4" height="14.3" fill="#feeba0"/>
<rect x="860.7" y="1255.2" width="22.3" height="14.3" fill="#fedc8c"/>
<rect x="882.5" y="1255.2" width="11.4" height="14.3" fill="#f99555"/>
<rect x="893.4" y="1255.2" width="22.3" height="14.3" fill="#fdc677"/>
<rect x="915.2" y="1255.2" width="11.4" height="14.3" fill="#fdb063"/>
<rect x="926.1" y="1255.2" width="11.4" height="14.3" fill="#fdc677"/>
<rect x="937" y="1255.2" width="11.4" height="14.3" fill="#f99555"/>
<rect x="947.9" y="1255.2" width="11.4" height="14.3" fill="#ec5d3c"/>
<rect x="958.8" y="1255.2" width="11.4" height="14.3" fill="#fff8b5"/>
<rect x="969.7" y="1255.2" width="11.4" height="14.3" fill="#fdc677"/>
<rect x="980.6" y="1255.2" width="11.4" height="14.3" fill="#feeba0"/>
<rect x="991.5" y="1255.2" width="11.4" height="14.3" fill="#addaea"/>
<rect x="1002.4" y="1255.2" width="11.4" height="14.3" fill="#f99555"/>
<rect x="1013.3" y="1255.2" width="11.4" height="14.3" fill="#fff8b5"/>
<rect x="1024.2" y="1255.2" width="11.4" height="14.3" fill="#c4e5f0"/>
<rect x="1035.1" y="1255.2" width="11.4" height="14.3" fill="#dbf1f7"/>
<rect x="1046" y="1255.2" width="11.4" height="14.3" fill="#7eb5d5"/>
<rect x="1056.9" y="1255.2" width="11.4" height="14.3" fill="#addaea"/>
<rect x="1067.8" y="1255.2" width="11.4" height="14.3" fill="#7eb5d5"/>
<rect x="1078.7" y="1255.2" width="11.4" height="14.3" fill="#313695"/>
<rect x="1089.6" y="1255.2" width="11.4" height="14.3" fill="#7eb5d5"/>
<rect x="1100.5" y="1255.2" width="11.4" height="14.3" fill="#689ec9"/>
<rect x="1111.4" y="1255.2" width="22.3" height="14.3" fill="#5386bd"/>
<rect x="1133.2" y="1255.2" width="11.4" height="14.3" fill="#426db0"/>
<rect x="1144.1" y="1255.2" width="11.4" height="14.3" fill="#7eb5d5"/>
<rect x="1155" y="1255.2" width="11.4" height="14.3" fill="#5386bd"/>
<rect x="1165.9" y="1255.2" width="11.4" height="14.3" fill="#689ec9"/>
<rect x="1176.8" y="1255.2" width="11.4" height="14.3" fill="#addaea"/>
<rect x="1187.7" y="1255.2" width="11.4" height="14.3" fill="#7eb5d5"/>
<rect x="1198.6" y="1255.2" width="11.4" height="14.3" fill="#426db0"/>
<rect x="1209.5" y="1255.2" width="11.4" height="14.3" fill="#addaea"/>
<rect x="1220.4" y="1255.2" width="11.4" height="14.3" fill="#f8fccb"/>
<rect x="1231.3" y="1255.2" width="10.9" height="14.3" fill="#c4e5f0"/>
<rect x="806.2" y="1269" width="22.3" height="13.7" fill="#c4e5f0"/>
<rect x="828" y="1269" width="11.4" height="13.7" fill="#fdb063"/>
<rect x="838.9" y="1269" width="11.4" height="13.7" fill="#addaea"/>
<rect x="849.8" y="1269" width="11.4" height="13.7" fill="#fdc677"/>
<rect x="860.7" y="1269" width="11.4" height="13.7" fill="#fff8b5"/>
<rect x="871.6" y="1269" width="11.4" height="13.7" fill="#fdc677"/>
<rect x="882.5" y="1269" width="11.4" height="13.7" fill="#feeba0"/>
<rect x="893.4" y="1269" width="11.4" height="13.7" fill="#ec5d3c"/>
<rect x="904.3" y="1269" width="22.3" height="13.7" fill="#fdc677"/>
<rect x="926.1" y="1269" width="11.4" height="13.7" fill="#fff8b5"/>
<rect x="937" y="1269" width="11.4" height="13.7" fill="#ec5d3c"/>
<rect x="947.9" y="1269" width="11.4" height="13.7" fill="#ebf7e4"/>
<rect x="958.8" y="1269" width="11.4" height="13.7" fill="#f67848"/>
<rect x="969.7" y="1269" width="11.4" height="13.7" fill="#feeba0"/>
<rect x="980.6" y="1269" width="11.4" height="13.7" fill="#fdb063"/>
<rect x="991.5" y="1269" width="11.4" height="13.7" fill="#f8fccb"/>
<rect x="1002.4" y="1269" width="22.3" height="13.7" fill="#fff8b5"/>
<rect x="1024.2" y="1269" width="11.4" height="13.7" fill="#c4e5f0"/>
<rect x="1035.1" y="1269" width="11.4" height="13.7" fill="#feeba0"/>
<rect x="1046" y="1269" width="11.4" height="13.7" fill="#426db0"/>
<rect x="1056.9" y="1269" width="11.4" height="13.7" fill="#313695"/>
<rect x="1067.8" y="1269" width="11.4" height="13.7" fill="#c4e5f0"/>
<rect x="1078.7" y="1269" width="11.4" height="13.7" fill="#5386bd"/>
<rect x="1089.6" y="1269" width="11.4" height="13.7" fill="#689ec9"/>
<rect x="1100.5" y="1269" width="11.4" height="13.7" fill="#5386bd"/>
<rect x="1111.4" y="1269" width="11.4" height="13.7" fill="#689ec9"/>
<rect x="1122.3" y="1269" width="11.4" height="13.7" fill="#7eb5d5"/>
<rect x="1133.2" y="1269" width="11.4" height="13.7" fill="#689ec9"/>
<rect x="1144.1" y="1269" width="11.4" height="13.7" fill="#5386bd"/>
<rect x="1155" y="1269" width="11.4" height="13.7" fill="#f8fccb"/>
<rect x="1165.9" y="1269" width="11.4" height="13.7" fill="#689ec9"/>
<rect x="1176.8" y="1269" width="11.4" height="13.7" fill="#dbf1f7"/>
<rect x="1187.7" y="1269" width="11.4" height="13.7" fill="#7eb5d5"/>
<rect x="1198.6" y="1269" width="11.4" height="13.7" fill="#feeba0"/>
<rect x="1209.5" y="1269" width="11.4" height="13.7" fill="#fff8b5"/>
<rect x="1220.4" y="1269" width="11.4" height="13.7" fill="#addaea"/>
<rect x="1231.3" y="1269" width="10.9" height="13.7" fill="#fdb063"/>
</g>
<path d="M860.7 723.8V1282.2M915.2 723.8V1282.2M969.7 723.8V1282.2M1024.2 723.8V1282.2M1078.7 723.8V1282.2M1133.2 723.8V1282.2M1187.7 723.8V1282.2M805.4 750.7H1241.7M805.4 831.7H1241.7M805.4 913H1241.7M805.4 994.6H1241.7M805.4 1076.6H1241.7M805.4 1158.8H1241.7M805.4 1241.4H1241.7" stroke="#000" stroke-opacity="0.3" stroke-width="1.8" stroke-dasharray="8.8 4.9" fill="none"/>
<g fill="none" stroke="#000" stroke-width="2.45" stroke-dasharray="6.2 3.8" stroke-linejoin="round">
<circle cx="1010.5" cy="972.5" r="16.2"/>
<path d="M922.9 1007.9L933.1 1013.9L936.1 1021.1L929.5 1030.7L921.1 1031.9L914.5 1025.9L913.3 1019.3L917.5 1011.5Z"/>
</g>
<path d="M913.3 1019.3l-5.5 3.6M905.7 1019.1l-7 2.4l7 2.4M908.2 1020.1l4.5 3" fill="none" stroke="#000" stroke-width="2.4"/>
<ellipse cx="967.3" cy="1053.5" rx="6.5" ry="8.8" fill="none" stroke="#000" stroke-width="2.45" stroke-dasharray="6.2 3.8"/>
<path d="M1003.9 967.7L1012.9 955.1L1017.4 954.4L1024.3 954.8L1030.3 958.8L1036.9 965.3L1029.1 974.3L1021.3 980.9L1017.9 980.6L1013.5 977.9Z" fill="none" stroke="#000" stroke-width="2.45" stroke-linejoin="round"/>
<rect x="805.4" y="723.8" width="436.3" height="558.4" fill="none" stroke="#000" stroke-width="2.4"/>
<path d="M805.4 723.8h-12.2M805.4 940.2h-12.2M805.4 1158.8h-12.2M860.7 1282.2v12.2M1078.7 1282.2v12.2" stroke="#000" stroke-width="2.4" fill="none"/>
<text x="802.4" y="690.1" font-size="29" font-weight="bold">C</text>
<rect x="1272.8" y="1258.9" width="28.4" height="23.9" fill="#a51b2a"/>
<rect x="1272.8" y="1235.7" width="28.4" height="23.9" fill="#bd1f2b"/>
<rect x="1272.8" y="1212.4" width="28.4" height="23.9" fill="#d02a27"/>
<rect x="1272.8" y="1189.1" width="28.4" height="23.9" fill="#e04330"/>
<rect x="1272.8" y="1165.9" width="28.4" height="23.9" fill="#ec5d3c"/>
<rect x="1272.8" y="1142.6" width="28.4" height="23.9" fill="#f67848"/>
<rect x="1272.8" y="1119.3" width="28.4" height="23.9" fill="#f99555"/>
<rect x="1272.8" y="1096.1" width="28.4" height="23.9" fill="#fdb063"/>
<rect x="1272.8" y="1072.8" width="28.4" height="23.9" fill="#fdc677"/>
<rect x="1272.8" y="1049.5" width="28.4" height="23.9" fill="#fedc8c"/>
<rect x="1272.8" y="1026.3" width="28.4" height="23.9" fill="#feeba0"/>
<rect x="1272.8" y="1003" width="28.4" height="23.9" fill="#fff8b5"/>
<rect x="1272.8" y="979.7" width="28.4" height="23.9" fill="#f8fccb"/>
<rect x="1272.8" y="956.5" width="28.4" height="23.9" fill="#ebf7e4"/>
<rect x="1272.8" y="933.2" width="28.4" height="23.9" fill="#dbf1f7"/>
<rect x="1272.8" y="909.9" width="28.4" height="23.9" fill="#c4e5f0"/>
<rect x="1272.8" y="886.7" width="28.4" height="23.9" fill="#addaea"/>
<rect x="1272.8" y="863.4" width="28.4" height="23.9" fill="#95c8e0"/>
<rect x="1272.8" y="840.1" width="28.4" height="23.9" fill="#7eb5d5"/>
<rect x="1272.8" y="816.9" width="28.4" height="23.9" fill="#689ec9"/>
<rect x="1272.8" y="793.6" width="28.4" height="23.9" fill="#5386bd"/>
<rect x="1272.8" y="770.3" width="28.4" height="23.9" fill="#426db0"/>
<rect x="1272.8" y="747.1" width="28.4" height="23.9" fill="#3a51a2"/>
<rect x="1272.8" y="723.8" width="28.4" height="23.9" fill="#313695"/>
<rect x="1272.8" y="723.8" width="28.4" height="558.4" fill="none" stroke="#000" stroke-width="2.4"/>
<text x="1324.8" y="793.7" font-size="40.5" textLength="60" lengthAdjust="spacingAndGlyphs">0.4</text>
<text x="1324.8" y="905.4" font-size="40.5" textLength="60" lengthAdjust="spacingAndGlyphs">0.2</text>
<text x="1324.8" y="1017.1" font-size="40.5" textLength="60" lengthAdjust="spacingAndGlyphs">0.0</text>
<text x="1324.8" y="1128.8" font-size="40.5" textLength="91" lengthAdjust="spacingAndGlyphs">−0.2</text>
<text x="1324.8" y="1240.5" font-size="40.5" textLength="91" lengthAdjust="spacingAndGlyphs">−0.4</text>
<path d="M1301.2 779.6h12M1301.2 891.3h12M1301.2 1003h12M1301.2 1114.7h12M1301.2 1226.4h12" stroke="#000" stroke-width="2.4" fill="none"/>
<text x="1217.5" y="693" font-size="40.5" font-style="italic" textLength="138.5" lengthAdjust="spacingAndGlyphs">°C/km<tspan dy="-14" font-size="28">2</tspan></text>
<g shape-rendering="crispEdges">
<rect x="153.7" y="1380.6" width="246.1" height="47.6" fill="#5e4fa2"/>
<rect x="399.3" y="1380.6" width="190.6" height="47.6" fill="#4b68ae"/>
<rect x="153.7" y="1427.7" width="82.6" height="68" fill="#429ab6"/>
<rect x="235.8" y="1427.7" width="354.1" height="68" fill="#58b3ab"/>
<rect x="153.7" y="1495.3" width="137.1" height="68.2" fill="#aedea3"/>
<rect x="290.3" y="1495.3" width="164" height="68.2" fill="#c7e89e"/>
<rect x="453.8" y="1495.3" width="136.1" height="68.2" fill="#aedea3"/>
<rect x="153.7" y="1563" width="82.6" height="68.5" fill="#eff8a6"/>
<rect x="235.8" y="1563" width="55" height="68.5" fill="#fafdb7"/>
<rect x="290.3" y="1563" width="55" height="68.5" fill="#fff8b4"/>
<rect x="344.8" y="1563" width="109.5" height="68.5" fill="#fafdb7"/>
<rect x="453.8" y="1563" width="136.1" height="68.5" fill="#eff8a6"/>
<rect x="153.7" y="1631" width="28.1" height="68.7" fill="#feeb9d"/>
<rect x="181.3" y="1631" width="55" height="68.7" fill="#fedc87"/>
<rect x="235.8" y="1631" width="109.5" height="68.7" fill="#fdc675"/>
<rect x="344.8" y="1631" width="55" height="68.7" fill="#fedc87"/>
<rect x="399.3" y="1631" width="164" height="68.7" fill="#feeb9d"/>
<rect x="562.8" y="1631" width="27.1" height="68.7" fill="#fff8b4"/>
<rect x="153.7" y="1699.2" width="191.6" height="68.9" fill="#f99555"/>
<rect x="344.8" y="1699.2" width="55" height="68.9" fill="#fdb063"/>
<rect x="399.3" y="1699.2" width="190.6" height="68.9" fill="#fdc675"/>
<rect x="153.7" y="1767.6" width="137.1" height="69.2" fill="#de4c4b"/>
<rect x="290.3" y="1767.6" width="55" height="69.2" fill="#ec6146"/>
<rect x="344.8" y="1767.6" width="164" height="69.2" fill="#f67848"/>
<rect x="508.3" y="1767.6" width="81.6" height="69.2" fill="#f99555"/>
<rect x="153.7" y="1836.2" width="137.1" height="69.4" fill="#9e1a46"/>
<rect x="290.3" y="1836.2" width="55" height="69.4" fill="#b71f4a"/>
<rect x="344.8" y="1836.2" width="109.5" height="69.4" fill="#ce364d"/>
<rect x="453.8" y="1836.2" width="136.1" height="69.4" fill="#de4c4b"/>
<rect x="153.7" y="1905.1" width="436.2" height="34.2" fill="#9e1a46"/>
</g>
<clipPath id="clipD"><rect x="153.7" y="1380.6" width="435.7" height="558.2"/></clipPath>
<path clip-path="url(#clipD)" d="M153.5 1394.7L177.9 1405.1L175.5 1407.1L188.9 1408.5L178.7 1399.8L178.9 1402.8L154.5 1392.5ZM208 1394.7L232.4 1405.1L230 1407.1L243.4 1408.5L233.2 1399.8L233.4 1402.8L209 1392.5ZM262.5 1394.7L286.9 1405.1L284.6 1407.1L297.9 1408.5L287.7 1399.8L287.9 1402.8L263.5 1392.5ZM317.1 1394.7L341.4 1405.1L339.1 1407.1L352.4 1408.5L342.2 1399.8L342.4 1402.8L318.1 1392.5ZM371.6 1394.7L396 1405.1L393.6 1407.1L406.9 1408.5L396.7 1399.8L396.9 1402.8L372.6 1392.5ZM426.1 1394.7L450.5 1405.1L448.1 1407.1L461.5 1408.5L451.3 1399.8L451.5 1402.8L427.1 1392.5ZM480.6 1394.7L505 1405.1L502.6 1407.1L516 1408.5L505.8 1399.8L506 1402.8L481.6 1392.5ZM535.1 1394.7L559.5 1405.1L557.2 1407.1L570.5 1408.5L560.3 1399.8L560.5 1402.8L536.1 1392.5ZM153.5 1449.2L179.1 1459.9L176.8 1461.9L190.1 1463.2L179.9 1454.5L180.1 1457.6L154.5 1446.9ZM208 1449.2L233.7 1459.9L231.3 1461.9L244.7 1463.2L234.4 1454.5L234.6 1457.6L209 1446.9ZM262.6 1449.2L288.2 1459.9L285.8 1461.9L299.2 1463.2L288.9 1454.5L289.2 1457.6L263.5 1446.9ZM317.1 1449.2L342.7 1459.9L340.4 1461.9L353.7 1463.2L343.5 1454.5L343.7 1457.6L318 1446.9ZM371.6 1449.2L397.2 1459.9L394.9 1461.9L408.2 1463.2L398 1454.5L398.2 1457.6L372.6 1446.9ZM426.1 1449.2L451.7 1459.9L449.4 1461.9L462.7 1463.2L452.5 1454.5L452.7 1457.6L427.1 1446.9ZM480.6 1449.2L506.3 1459.9L503.9 1461.9L517.3 1463.2L507 1454.5L507.2 1457.6L481.6 1446.9ZM535.2 1449.2L560.8 1459.9L558.4 1461.9L571.8 1463.2L561.5 1454.5L561.8 1457.6L536.1 1446.9ZM153.5 1503.6L180.4 1514.7L178.1 1516.7L191.4 1517.9L181.1 1509.3L181.4 1512.4L154.5 1501.3ZM208 1503.6L234.9 1514.7L232.6 1516.7L246 1517.9L235.6 1509.3L235.9 1512.4L209 1501.3ZM262.6 1503.6L289.5 1514.7L287.1 1516.7L300.5 1517.9L290.2 1509.3L290.4 1512.4L263.5 1501.3ZM317.1 1503.6L344 1514.7L341.6 1516.7L355 1517.9L344.7 1509.3L344.9 1512.4L318 1501.3ZM371.6 1503.6L398.5 1514.7L396.2 1516.7L409.5 1517.9L399.2 1509.3L399.5 1512.4L372.6 1501.3ZM426.1 1503.6L453 1514.7L450.7 1516.7L464 1517.9L453.7 1509.3L454 1512.4L427.1 1501.3ZM480.6 1503.6L507.5 1514.7L505.2 1516.7L518.6 1517.9L508.2 1509.3L508.5 1512.4L481.6 1501.3ZM535.2 1503.6L562.1 1514.7L559.7 1516.7L573.1 1517.9L562.8 1509.3L563 1512.4L536.1 1501.3ZM153.5 1558L181.7 1569.5L179.4 1571.5L192.7 1572.6L182.4 1564.1L182.6 1567.1L154.5 1555.7ZM208 1558L236.2 1569.5L233.9 1571.5L247.2 1572.6L236.9 1564.1L237.2 1567.1L209 1555.7ZM262.6 1558L290.7 1569.5L288.4 1571.5L301.8 1572.6L291.4 1564.1L291.7 1567.1L263.5 1555.7ZM317.1 1558L345.3 1569.5L342.9 1571.5L356.3 1572.6L345.9 1564.1L346.2 1567.1L318 1555.7ZM371.6 1558L399.8 1569.5L397.4 1571.5L410.8 1572.6L400.5 1564.1L400.7 1567.1L372.6 1555.7ZM426.1 1558L454.3 1569.5L452 1571.5L465.3 1572.6L455 1564.1L455.2 1567.1L427.1 1555.7ZM480.6 1558L508.8 1569.5L506.5 1571.5L519.8 1572.6L509.5 1564.1L509.8 1567.1L481.6 1555.7ZM535.2 1558L563.3 1569.5L561 1571.5L574.4 1572.6L564 1564.1L564.3 1567.1L536.1 1555.7ZM153.5 1612.4L183 1624.2L180.7 1626.2L194 1627.3L183.6 1618.8L183.9 1621.9L154.5 1610.1ZM208.1 1612.4L237.5 1624.2L235.2 1626.2L248.5 1627.3L238.1 1618.8L238.4 1621.9L209 1610.1ZM262.6 1612.4L292 1624.2L289.7 1626.2L303.1 1627.3L292.7 1618.8L292.9 1621.9L263.5 1610.1ZM317.1 1612.4L346.5 1624.2L344.2 1626.2L357.6 1627.3L347.2 1618.8L347.5 1621.9L318 1610.1ZM371.6 1612.4L401.1 1624.2L398.7 1626.2L412.1 1627.3L401.7 1618.8L402 1621.9L372.5 1610.1ZM426.1 1612.4L455.6 1624.2L453.3 1626.2L466.6 1627.3L456.2 1618.8L456.5 1621.9L427.1 1610.1ZM480.7 1612.4L510.1 1624.2L507.8 1626.2L521.1 1627.3L510.7 1618.8L511 1621.9L481.6 1610.1ZM535.2 1612.4L564.6 1624.2L562.3 1626.2L575.7 1627.3L565.3 1618.8L565.5 1621.9L536.1 1610.1ZM153.5 1666.9L184.3 1678.9L181.9 1681L195.3 1681.9L184.9 1673.5L185.2 1676.6L154.5 1664.5ZM208.1 1666.9L238.8 1678.9L236.5 1681L249.8 1681.9L239.4 1673.5L239.7 1676.6L209 1664.5ZM262.6 1666.9L293.3 1678.9L291 1681L304.4 1681.9L293.9 1673.5L294.2 1676.6L263.5 1664.5ZM317.1 1666.9L347.8 1678.9L345.5 1681L358.9 1681.9L348.4 1673.5L348.7 1676.6L318 1664.5ZM371.6 1666.9L402.3 1678.9L400 1681L413.4 1681.9L403 1673.5L403.3 1676.6L372.5 1664.5ZM426.1 1666.9L456.9 1678.9L454.5 1681L467.9 1681.9L457.5 1673.5L457.8 1676.6L427.1 1664.5ZM480.7 1666.9L511.4 1678.9L509.1 1681L522.4 1681.9L512 1673.5L512.3 1676.6L481.6 1664.5ZM535.2 1666.9L565.9 1678.9L563.6 1681L577 1681.9L566.5 1673.5L566.8 1676.6L536.1 1664.5ZM153.5 1721.3L185.5 1733.6L183.2 1735.7L196.6 1736.6L186.1 1728.2L186.4 1731.3L154.5 1719ZM208.1 1721.3L240.1 1733.6L237.8 1735.7L251.2 1736.6L240.7 1728.2L241 1731.3L209 1719ZM262.6 1721.3L294.6 1733.6L292.3 1735.7L305.7 1736.6L295.2 1728.2L295.5 1731.3L263.5 1719ZM317.1 1721.3L349.1 1733.6L346.8 1735.7L360.2 1736.6L349.7 1728.2L350 1731.3L318 1719ZM371.6 1721.3L403.6 1733.6L401.3 1735.7L414.7 1736.6L404.2 1728.2L404.5 1731.3L372.5 1719ZM426.1 1721.3L458.1 1733.6L455.8 1735.7L469.2 1736.6L458.7 1728.2L459 1731.3L427.1 1719ZM480.7 1721.3L512.7 1733.6L510.4 1735.7L523.8 1736.6L513.3 1728.2L513.6 1731.3L481.6 1719ZM535.2 1721.3L567.2 1733.6L564.9 1735.7L578.3 1736.6L567.8 1728.2L568.1 1731.3L536.1 1719ZM153.6 1775.7L186.8 1788.3L184.6 1790.4L197.9 1791.2L187.4 1782.9L187.7 1786L154.4 1773.4ZM208.1 1775.7L241.4 1788.3L239.1 1790.4L252.5 1791.2L241.9 1782.9L242.2 1786L209 1773.4ZM262.6 1775.7L295.9 1788.3L293.6 1790.4L307 1791.2L296.4 1782.9L296.8 1786L263.5 1773.4ZM317.1 1775.7L350.4 1788.3L348.1 1790.4L361.5 1791.2L351 1782.9L351.3 1786L318 1773.4ZM371.6 1775.7L404.9 1788.3L402.6 1790.4L416 1791.2L405.5 1782.9L405.8 1786L372.5 1773.4ZM426.2 1775.7L459.4 1788.3L457.2 1790.4L470.5 1791.2L460 1782.9L460.3 1786L427 1773.4ZM480.7 1775.7L514 1788.3L511.7 1790.4L525.1 1791.2L514.5 1782.9L514.8 1786L481.6 1773.4ZM535.2 1775.7L568.5 1788.3L566.2 1790.4L579.6 1791.2L569 1782.9L569.4 1786L536.1 1773.4ZM153.6 1830.1L188.1 1843L185.9 1845.1L199.3 1845.8L188.7 1837.6L189 1840.7L154.4 1827.8ZM208.1 1830.1L242.7 1843L240.4 1845.1L253.8 1845.8L243.2 1837.6L243.5 1840.7L209 1827.8ZM262.6 1830.1L297.2 1843L294.9 1845.1L308.3 1845.8L297.7 1837.6L298 1840.7L263.5 1827.8ZM317.1 1830.1L351.7 1843L349.4 1845.1L362.8 1845.8L352.2 1837.6L352.6 1840.7L318 1827.8ZM371.6 1830.1L406.2 1843L403.9 1845.1L417.3 1845.8L406.7 1837.6L407.1 1840.7L372.5 1827.8ZM426.2 1830.1L460.7 1843L458.5 1845.1L471.9 1845.8L461.3 1837.6L461.6 1840.7L427 1827.8ZM480.7 1830.1L515.3 1843L513 1845.1L526.4 1845.8L515.8 1837.6L516.1 1840.7L481.6 1827.8ZM535.2 1830.1L569.8 1843L567.5 1845.1L580.9 1845.8L570.3 1837.6L570.6 1840.7L536.1 1827.8ZM153.6 1884.6L189.4 1897.7L187.2 1899.8L200.6 1900.4L189.9 1892.3L190.3 1895.4L154.4 1882.2ZM208.1 1884.6L244 1897.7L241.7 1899.8L255.1 1900.4L244.4 1892.3L244.8 1895.4L209 1882.2ZM262.6 1884.6L298.5 1897.7L296.2 1899.8L309.6 1900.4L299 1892.3L299.3 1895.4L263.5 1882.2ZM317.1 1884.6L353 1897.7L350.7 1899.8L364.1 1900.4L353.5 1892.3L353.9 1895.4L318 1882.2ZM371.6 1884.6L407.5 1897.7L405.3 1899.8L418.7 1900.4L408 1892.3L408.4 1895.4L372.5 1882.2ZM426.2 1884.6L462 1897.7L459.8 1899.8L473.2 1900.4L462.5 1892.3L462.9 1895.4L427 1882.2ZM480.7 1884.6L516.6 1897.7L514.3 1899.8L527.7 1900.4L517 1892.3L517.4 1895.4L481.6 1882.2ZM535.2 1884.6L571.1 1897.7L568.8 1899.8L582.2 1900.4L571.6 1892.3L571.9 1895.4L536.1 1882.2ZM153.6 1939L190.7 1952.4L188.5 1954.5L201.9 1955L191.2 1946.9L191.6 1950L154.4 1936.6ZM208.1 1939L245.3 1952.4L243 1954.5L256.4 1955L245.7 1946.9L246.1 1950L208.9 1936.6ZM262.6 1939L299.8 1952.4L297.5 1954.5L310.9 1955L300.2 1946.9L300.6 1950L263.5 1936.6ZM317.1 1939L354.3 1952.4L352.1 1954.5L365.5 1955L354.8 1946.9L355.1 1950L318 1936.6ZM371.7 1939L408.8 1952.4L406.6 1954.5L420 1955L409.3 1946.9L409.7 1950L372.5 1936.6ZM426.2 1939L463.3 1952.4L461.1 1954.5L474.5 1955L463.8 1946.9L464.2 1950L427 1936.6ZM480.7 1939L517.9 1952.4L515.6 1954.5L529 1955L518.3 1946.9L518.7 1950L481.5 1936.6ZM535.2 1939L572.4 1952.4L570.1 1954.5L583.5 1955L572.8 1946.9L573.2 1950L536.1 1936.6Z" fill="#000"/>
<path d="M208.6 1380.6V1938.8M263.1 1380.6V1938.8M317.6 1380.6V1938.8M372.1 1380.6V1938.8M426.6 1380.6V1938.8M481.1 1380.6V1938.8M535.6 1380.6V1938.8M153.7 1407.5H589.4M153.7 1488.5H589.4M153.7 1569.8H589.4M153.7 1651.4H589.4M153.7 1733.4H589.4M153.7 1815.6H589.4M153.7 1898.2H589.4" stroke="#000" stroke-opacity="0.3" stroke-width="1.8" stroke-dasharray="8.8 4.9" fill="none"/>
<g fill="none" stroke="#000" stroke-width="2.45" stroke-dasharray="6.2 3.8" stroke-linejoin="round">
<circle cx="358.8" cy="1629.3" r="16.2"/>
<path d="M271.2 1664.7L281.4 1670.7L284.4 1677.9L277.8 1687.5L269.4 1688.7L262.8 1682.7L261.6 1676.1L265.8 1668.3Z"/>
</g>
<path d="M261.6 1676.1l-5.5 3.6M254 1675.9l-7 2.4l7 2.4M256.5 1676.9l4.5 3" fill="none" stroke="#000" stroke-width="2.4"/>
<ellipse cx="315.6" cy="1710.3" rx="6.5" ry="8.8" fill="none" stroke="#000" stroke-width="2.45" stroke-dasharray="6.2 3.8"/>
<path d="M352.2 1624.5L361.2 1611.9L365.7 1611.2L372.6 1611.6L378.6 1615.6L385.2 1622.1L377.4 1631.1L369.6 1637.7L366.2 1637.4L361.8 1634.7Z" fill="none" stroke="#000" stroke-width="2.45" stroke-linejoin="round"/>
<rect x="153.7" y="1380.6" width="435.7" height="558.2" fill="none" stroke="#000" stroke-width="2.4"/>
<text x="130.9" y="1395.5" font-size="40.5" text-anchor="end" textLength="131.5" lengthAdjust="spacingAndGlyphs">36.2°S</text>
<text x="130.9" y="1611.9" font-size="40.5" text-anchor="end" textLength="93.5" lengthAdjust="spacingAndGlyphs">37°S</text>
<text x="130.9" y="1830.5" font-size="40.5" text-anchor="end" textLength="131.5" lengthAdjust="spacingAndGlyphs">37.8°S</text>
<text x="208.6" y="1992" font-size="40.5" text-anchor="middle" textLength="105.5" lengthAdjust="spacingAndGlyphs">13°W</text>
<text x="426.6" y="1992" font-size="40.5" text-anchor="middle" textLength="105.5" lengthAdjust="spacingAndGlyphs">12°W</text>
<path d="M153.7 1380.6h-12.2M153.7 1597h-12.2M153.7 1815.6h-12.2M208.6 1938.8v12.2M426.6 1938.8v12.2" stroke="#000" stroke-width="2.4" fill="none"/>
<text x="-0.2" y="1352.6" font-size="29" font-weight="bold">D</text>
<rect x="620.5" y="1915.5" width="28.2" height="23.9" fill="#5e4fa2"/>
<rect x="620.5" y="1892.3" width="28.2" height="23.9" fill="#4b68ae"/>
<rect x="620.5" y="1869" width="28.2" height="23.9" fill="#3881b9"/>
<rect x="620.5" y="1845.8" width="28.2" height="23.9" fill="#429ab6"/>
<rect x="620.5" y="1822.5" width="28.2" height="23.9" fill="#58b3ab"/>
<rect x="620.5" y="1799.2" width="28.2" height="23.9" fill="#72c7a5"/>
<rect x="620.5" y="1776" width="28.2" height="23.9" fill="#90d2a4"/>
<rect x="620.5" y="1752.7" width="28.2" height="23.9" fill="#aedea3"/>
<rect x="620.5" y="1729.5" width="28.2" height="23.9" fill="#c7e89e"/>
<rect x="620.5" y="1706.2" width="28.2" height="23.9" fill="#e1f399"/>
<rect x="620.5" y="1683" width="28.2" height="23.9" fill="#eff8a6"/>
<rect x="620.5" y="1659.7" width="28.2" height="23.9" fill="#fafdb7"/>
<rect x="620.5" y="1636.4" width="28.2" height="23.9" fill="#fff8b4"/>
<rect x="620.5" y="1613.2" width="28.2" height="23.9" fill="#feeb9d"/>
<rect x="620.5" y="1589.9" width="28.2" height="23.9" fill="#fedc87"/>
<rect x="620.5" y="1566.7" width="28.2" height="23.9" fill="#fdc675"/>
<rect x="620.5" y="1543.4" width="28.2" height="23.9" fill="#fdb063"/>
<rect x="620.5" y="1520.1" width="28.2" height="23.9" fill="#f99555"/>
<rect x="620.5" y="1496.9" width="28.2" height="23.9" fill="#f67848"/>
<rect x="620.5" y="1473.6" width="28.2" height="23.9" fill="#ec6146"/>
<rect x="620.5" y="1450.4" width="28.2" height="23.9" fill="#de4c4b"/>
<rect x="620.5" y="1427.1" width="28.2" height="23.9" fill="#ce364d"/>
<rect x="620.5" y="1403.9" width="28.2" height="23.9" fill="#b71f4a"/>
<rect x="620.5" y="1380.6" width="28.2" height="23.9" fill="#9e1a46"/>
<rect x="620.5" y="1380.6" width="28.2" height="558.2" fill="none" stroke="#000" stroke-width="2.4"/>
<text x="672.3" y="1450.5" font-size="40.5" textLength="60" lengthAdjust="spacingAndGlyphs">4.4</text>
<text x="672.3" y="1562.2" font-size="40.5" textLength="60" lengthAdjust="spacingAndGlyphs">4.2</text>
<text x="672.3" y="1673.8" font-size="40.5" textLength="60" lengthAdjust="spacingAndGlyphs">4.0</text>
<text x="672.3" y="1785.4" font-size="40.5" textLength="60" lengthAdjust="spacingAndGlyphs">3.8</text>
<text x="672.3" y="1897.1" font-size="40.5" textLength="60" lengthAdjust="spacingAndGlyphs">3.6</text>
<path d="M648.7 1436.4h12M648.7 1548.1h12M648.7 1659.7h12M648.7 1771.3h12M648.7 1883h12" stroke="#000" stroke-width="2.4" fill="none"/>
<text x="598.8" y="1351" font-size="40.5" textLength="71" lengthAdjust="spacingAndGlyphs">m/s</text>
<g shape-rendering="crispEdges">
<rect x="805.4" y="1380.6" width="27.8" height="52.2" fill="#f99555"/>
<rect x="832.7" y="1380.6" width="109.6" height="52.2" fill="#ec5d3c"/>
<rect x="941.7" y="1380.6" width="55" height="52.2" fill="#f67848"/>
<rect x="996.3" y="1380.6" width="55" height="52.2" fill="#f99555"/>
<rect x="1050.8" y="1380.6" width="55" height="52.2" fill="#fdb063"/>
<rect x="1105.4" y="1380.6" width="136.8" height="52.2" fill="#f99555"/>
<rect x="805.4" y="1432.3" width="27.8" height="55" fill="#fdc677"/>
<rect x="832.7" y="1432.3" width="55" height="55" fill="#fdb063"/>
<rect x="887.2" y="1432.3" width="109.6" height="55" fill="#f99555"/>
<rect x="996.3" y="1432.3" width="55" height="55" fill="#fedc8c"/>
<rect x="1050.8" y="1432.3" width="164.1" height="55" fill="#fff8b5"/>
<rect x="1214.4" y="1432.3" width="27.8" height="55" fill="#feeba0"/>
<rect x="805.4" y="1486.8" width="27.8" height="55" fill="#fff8b5"/>
<rect x="832.7" y="1486.8" width="109.6" height="55" fill="#fedc8c"/>
<rect x="941.7" y="1486.8" width="55" height="55" fill="#fff8b5"/>
<rect x="996.3" y="1486.8" width="55" height="55" fill="#ebf7e4"/>
<rect x="1050.8" y="1486.8" width="109.6" height="55" fill="#c4e5f0"/>
<rect x="1159.9" y="1486.8" width="55" height="55" fill="#dbf1f7"/>
<rect x="1214.4" y="1486.8" width="27.8" height="55" fill="#ebf7e4"/>
<rect x="805.4" y="1541.3" width="82.3" height="55" fill="#feeba0"/>
<rect x="887.2" y="1541.3" width="55" height="55" fill="#f8fccb"/>
<rect x="941.7" y="1541.3" width="55" height="55" fill="#dbf1f7"/>
<rect x="996.3" y="1541.3" width="55" height="55" fill="#c4e5f0"/>
<rect x="1050.8" y="1541.3" width="55" height="55" fill="#addaea"/>
<rect x="1105.4" y="1541.3" width="55" height="55" fill="#c4e5f0"/>
<rect x="1159.9" y="1541.3" width="55" height="55" fill="#dbf1f7"/>
<rect x="1214.4" y="1541.3" width="27.8" height="55" fill="#fff8b5"/>
<rect x="805.4" y="1595.8" width="82.3" height="55" fill="#f8fccb"/>
<rect x="887.2" y="1595.8" width="55" height="55" fill="#ebf7e4"/>
<rect x="941.7" y="1595.8" width="55" height="55" fill="#c4e5f0"/>
<rect x="996.3" y="1595.8" width="55" height="55" fill="#addaea"/>
<rect x="1050.8" y="1595.8" width="55" height="55" fill="#95c8e0"/>
<rect x="1105.4" y="1595.8" width="55" height="55" fill="#addaea"/>
<rect x="1159.9" y="1595.8" width="55" height="55" fill="#c4e5f0"/>
<rect x="1214.4" y="1595.8" width="27.8" height="55" fill="#ebf7e4"/>
<rect x="805.4" y="1650.3" width="82.3" height="55" fill="#f8fccb"/>
<rect x="887.2" y="1650.3" width="55" height="55" fill="#dbf1f7"/>
<rect x="941.7" y="1650.3" width="55" height="55" fill="#addaea"/>
<rect x="996.3" y="1650.3" width="109.6" height="55" fill="#95c8e0"/>
<rect x="1105.4" y="1650.3" width="109.6" height="55" fill="#7eb5d5"/>
<rect x="1214.4" y="1650.3" width="27.8" height="55" fill="#addaea"/>
<rect x="805.4" y="1704.8" width="27.8" height="55" fill="#f8fccb"/>
<rect x="832.7" y="1704.8" width="55" height="55" fill="#ebf7e4"/>
<rect x="887.2" y="1704.8" width="55" height="55" fill="#c4e5f0"/>
<rect x="941.7" y="1704.8" width="55" height="55" fill="#95c8e0"/>
<rect x="996.3" y="1704.8" width="55" height="55" fill="#7eb5d5"/>
<rect x="1050.8" y="1704.8" width="55" height="55" fill="#95c8e0"/>
<rect x="1105.4" y="1704.8" width="109.6" height="55" fill="#689ec9"/>
<rect x="1214.4" y="1704.8" width="27.8" height="55" fill="#95c8e0"/>
<rect x="805.4" y="1759.3" width="27.8" height="55" fill="#f8fccb"/>
<rect x="832.7" y="1759.3" width="55" height="55" fill="#dbf1f7"/>
<rect x="887.2" y="1759.3" width="55" height="55" fill="#addaea"/>
<rect x="941.7" y="1759.3" width="55" height="55" fill="#95c8e0"/>
<rect x="996.3" y="1759.3" width="109.6" height="55" fill="#7eb5d5"/>
<rect x="1105.4" y="1759.3" width="55" height="55" fill="#689ec9"/>
<rect x="1159.9" y="1759.3" width="55" height="55" fill="#7eb5d5"/>
<rect x="1214.4" y="1759.3" width="27.8" height="55" fill="#addaea"/>
<rect x="805.4" y="1813.8" width="27.8" height="55" fill="#ebf7e4"/>
<rect x="832.7" y="1813.8" width="55" height="55" fill="#dbf1f7"/>
<rect x="887.2" y="1813.8" width="55" height="55" fill="#addaea"/>
<rect x="941.7" y="1813.8" width="164.1" height="55" fill="#95c8e0"/>
<rect x="1105.4" y="1813.8" width="55" height="55" fill="#addaea"/>
<rect x="1159.9" y="1813.8" width="55" height="55" fill="#c4e5f0"/>
<rect x="1214.4" y="1813.8" width="27.8" height="55" fill="#ebf7e4"/>
<rect x="805.4" y="1868.3" width="27.8" height="55" fill="#dbf1f7"/>
<rect x="832.7" y="1868.3" width="218.6" height="55" fill="#c4e5f0"/>
<rect x="1050.8" y="1868.3" width="55" height="55" fill="#ebf7e4"/>
<rect x="1105.4" y="1868.3" width="55" height="55" fill="#f8fccb"/>
<rect x="1159.9" y="1868.3" width="55" height="55" fill="#fff8b5"/>
<rect x="1214.4" y="1868.3" width="27.8" height="55" fill="#feeba0"/>
<rect x="805.4" y="1922.8" width="82.3" height="16.5" fill="#ebf7e4"/>
<rect x="887.2" y="1922.8" width="55" height="16.5" fill="#dbf1f7"/>
<rect x="941.7" y="1922.8" width="55" height="16.5" fill="#ebf7e4"/>
<rect x="996.3" y="1922.8" width="55" height="16.5" fill="#fff8b5"/>
<rect x="1050.8" y="1922.8" width="55" height="16.5" fill="#fedc8c"/>
<rect x="1105.4" y="1922.8" width="55" height="16.5" fill="#fdb063"/>
<rect x="1159.9" y="1922.8" width="55" height="16.5" fill="#f99555"/>
<rect x="1214.4" y="1922.8" width="27.8" height="16.5" fill="#fdc677"/>
</g>
<clipPath id="clipE"><rect x="805.4" y="1380.6" width="436.30000000000007" height="558.2"/></clipPath>
<path clip-path="url(#clipE)" d="M806 1394.8L850 1382.8L849.4 1385.8L860.7 1378.6L847.3 1378.1L849.4 1380.4L805.4 1392.4ZM860.9 1394.7L901 1371.1L901.2 1374.2L910.2 1364.3L897.2 1367.3L899.8 1369L859.6 1392.5ZM915.4 1394.7L955.5 1371.1L955.7 1374.2L964.7 1364.3L951.7 1367.3L954.3 1369L914.1 1392.5ZM969.9 1394.7L1009 1371.9L1009.2 1375L1018.3 1365.1L1005.2 1368.1L1007.8 1369.8L968.6 1392.5ZM1024.3 1394.7L1062.1 1376.5L1062 1379.6L1071.8 1370.4L1058.5 1372.4L1061 1374.2L1023.2 1392.5ZM1078.5 1394.8L1119.2 1387.9L1118.3 1390.8L1130.2 1384.7L1116.9 1382.9L1118.8 1385.4L1078.1 1392.4ZM1132.6 1394.8L1174.5 1402.2L1172.6 1404.6L1185.9 1402.9L1174 1396.8L1174.9 1399.7L1133 1392.4ZM1187.1 1394.8L1231.9 1404.8L1230 1407.1L1243.3 1406L1231.7 1399.3L1232.5 1402.3L1187.6 1392.4ZM806.3 1449.1L836.9 1432.4L837 1435.5L846.3 1425.8L833.2 1428.5L835.7 1430.2L805.1 1446.9ZM860.9 1449L895.1 1425.2L895.5 1428.2L903.7 1417.6L890.9 1421.7L893.7 1423.1L859.5 1447ZM915.4 1449L950.2 1425.1L950.6 1428.2L958.8 1417.6L946 1421.6L948.7 1423.1L914 1447ZM969.9 1449.1L1004.1 1426.6L1004.5 1429.7L1013 1419.3L1000.1 1423L1002.7 1424.5L968.6 1447ZM1024.4 1449.1L1056.7 1430.8L1056.8 1433.9L1066 1424.1L1052.9 1426.9L1055.4 1428.7L1023.2 1446.9ZM1078.6 1449.2L1108.7 1441.6L1108 1444.6L1119.4 1437.6L1106 1436.9L1108 1439.2L1078 1446.8ZM1132.6 1449.3L1161.5 1453.9L1159.6 1456.4L1172.9 1454.5L1160.9 1448.5L1161.9 1451.5L1133 1446.8ZM1187 1449.2L1219.3 1457.1L1217.3 1459.5L1230.6 1458.6L1219.2 1451.7L1219.9 1454.7L1187.6 1446.8ZM806.6 1503.4L827.4 1484L828.2 1487L834.9 1475.3L822.8 1481.1L825.7 1482.2L804.8 1501.5ZM861.1 1503.3L885.2 1477.3L886.3 1480.2L892 1468L880.4 1474.7L883.4 1475.6L859.3 1501.6ZM915.6 1503.3L940.2 1479.6L941.1 1482.5L947.5 1470.7L935.6 1476.8L938.5 1477.8L913.9 1501.5ZM970.1 1503.4L993.3 1483.9L994 1486.9L1001.3 1475.6L988.9 1480.8L991.7 1482L968.5 1501.5ZM1024.5 1503.5L1045.6 1488.6L1046 1491.7L1054.2 1481L1041.4 1485.1L1044.1 1486.6L1023.1 1501.4ZM1078.7 1503.6L1095.8 1498.5L1095.3 1501.5L1106.4 1494L1093 1493.9L1095.1 1496.1L1077.9 1501.2ZM1132.7 1503.7L1149 1505.1L1147.3 1507.7L1160.4 1504.8L1148 1499.7L1149.2 1502.6L1132.9 1501.2ZM1187.1 1503.7L1207.9 1507.7L1206 1510.1L1219.3 1508.6L1207.5 1502.3L1208.4 1505.2L1187.6 1501.2ZM806.6 1557.7L823.5 1537.9L824.7 1540.8L830 1528.5L818.6 1535.6L821.6 1536.3L804.8 1556ZM861.3 1557.6L878.1 1532.6L879.6 1535.3L883.4 1522.5L872.9 1530.8L876 1531.2L859.2 1556.2ZM915.8 1557.6L930.5 1536.9L932 1539.6L936.1 1526.9L925.5 1535L928.5 1535.4L913.7 1556.1ZM970.2 1557.7L983.3 1541.8L984.5 1544.6L989.6 1532.2L978.3 1539.5L981.4 1540.2L968.3 1556.1ZM1024.6 1557.8L1037.3 1546.2L1038.1 1549.2L1044.9 1537.6L1032.7 1543.2L1035.6 1544.3L1022.9 1555.9ZM1078.7 1558L1090.4 1553.9L1090 1556.9L1100.7 1548.9L1087.3 1549.4L1089.5 1551.5L1077.9 1555.7ZM1132.9 1558.1L1145.8 1557.5L1144.5 1560.3L1157.1 1555.8L1144.2 1552.3L1145.7 1555L1132.8 1555.6ZM1187.3 1558.1L1206.3 1558.6L1204.8 1561.3L1217.7 1557.7L1205 1553.3L1206.4 1556.1L1187.4 1555.6ZM806.7 1612.1L822.1 1593.5L823.3 1596.4L828.4 1584L817.1 1591.3L820.2 1591.9L804.7 1610.5ZM861.3 1611.9L874.1 1590.4L875.8 1593L878.9 1580L868.9 1588.9L872 1589.1L859.1 1610.6ZM915.8 1611.9L925.8 1594.7L927.5 1597.3L930.4 1584.2L920.6 1593.3L923.6 1593.4L913.7 1610.7ZM970.3 1611.9L978.6 1598.2L980.2 1600.8L983.4 1587.8L973.3 1596.7L976.4 1596.9L968.2 1610.6ZM1024.8 1612L1032.5 1601.7L1033.9 1604.4L1038.4 1591.8L1027.5 1599.6L1030.5 1600.2L1022.8 1610.5ZM1079 1612.3L1086.7 1607.2L1087 1610.3L1095.5 1599.9L1082.6 1603.6L1085.3 1605.1L1077.6 1610.2ZM1133.2 1612.5L1143.6 1609.5L1143 1612.5L1154.2 1605.1L1140.8 1604.8L1142.9 1607.1L1132.5 1610.1ZM1187.6 1612.5L1202.6 1609.9L1201.7 1612.9L1213.6 1606.8L1200.3 1605L1202.2 1607.5L1187.1 1610ZM806.6 1666.6L823.8 1649.1L824.8 1652L830.9 1640.1L819.1 1646.4L822 1647.3L804.8 1664.8ZM861.2 1666.4L874.4 1648.8L875.8 1651.6L880.2 1638.9L869.4 1646.8L872.4 1647.3L859.2 1665ZM915.8 1666.4L925.5 1650.8L927.1 1653.5L930.4 1640.5L920.3 1649.2L923.4 1649.5L913.7 1665ZM970.4 1666.3L976.5 1655.2L978.3 1657.7L981 1644.6L971.3 1653.9L974.3 1654L968.2 1665.1ZM1024.9 1666.2L1029.1 1657.1L1031 1659.5L1032.7 1646.2L1023.7 1656.2L1026.8 1656.1L1022.6 1665.2ZM1079.3 1666.4L1083.2 1660.5L1084.8 1663.2L1088.5 1650.3L1078.1 1658.8L1081.2 1659.1L1077.3 1665ZM1133.5 1666.8L1136.8 1664.7L1137.1 1667.8L1145.8 1657.6L1132.8 1661L1135.5 1662.6L1132.2 1664.6ZM1187.8 1666.9L1193.9 1664.3L1193.7 1667.4L1203.9 1658.7L1190.6 1660L1193 1662L1186.9 1664.5ZM806.4 1721.1L826.5 1706.3L827 1709.3L834.9 1698.5L822.2 1702.9L825 1704.3L805 1719.1ZM861.1 1721L877 1706.1L877.9 1709.1L884.5 1697.4L872.4 1703.2L875.3 1704.3L859.4 1719.2ZM915.6 1721L926.6 1709.9L927.6 1712.8L933.7 1700.9L921.9 1707.2L924.8 1708.1L913.9 1719.2ZM970.2 1720.9L975.3 1714.7L976.5 1717.5L981.5 1705L970.3 1712.5L973.3 1713.1L968.3 1719.3ZM1024.9 1720.7L1027.6 1714.9L1029.5 1717.3L1031.4 1704L1022.3 1713.9L1025.4 1713.8L1022.6 1719.6ZM1079.5 1720.5L1081.3 1715.2L1083.4 1717.4L1083.7 1704L1075.8 1714.9L1078.9 1714.4L1077.1 1719.7ZM1133.8 1720.6L1134.3 1719.5L1135.9 1721.7L1137.7 1710.4L1129.8 1718.6L1132.4 1718.6L1131.9 1719.6ZM1188.2 1721L1189.5 1719.8L1190.4 1722.7L1196.6 1710.8L1184.8 1717L1187.7 1718L1186.5 1719.2ZM806.4 1775.6L827.1 1762.6L827.4 1765.7L836.1 1755.5L823.1 1758.9L825.8 1760.5L805 1773.5ZM861 1775.5L877.1 1763.6L877.6 1766.7L885.5 1755.8L872.8 1760.2L875.6 1761.6L859.5 1773.5ZM915.5 1775.6L926 1768.1L926.4 1771.1L934.5 1760.4L921.8 1764.6L924.5 1766L914 1773.5ZM970 1775.5L976 1770.8L976.6 1773.8L984.2 1762.7L971.6 1767.6L974.4 1768.8L968.5 1773.6ZM1024.8 1775.3L1028 1770.6L1029.5 1773.3L1033.5 1760.5L1022.9 1768.8L1026 1769.2L1022.8 1773.8ZM1079.5 1775L1081 1771.2L1083 1773.5L1084.1 1760.1L1075.6 1770.5L1078.7 1770.2L1077.1 1774.1ZM1134 1774.9L1134.4 1773.6L1136.6 1775.8L1136.7 1762.3L1129 1773.3L1132.1 1772.8L1131.6 1774.2ZM1188.4 1775.2L1190.2 1772.3L1191.8 1774.9L1194.9 1761.8L1184.9 1770.8L1188 1771L1186.3 1773.9ZM806.3 1830.1L825.5 1819.8L825.5 1822.8L834.9 1813.3L821.7 1815.8L824.3 1817.6L805.1 1827.9ZM860.8 1830L875.3 1821.7L875.5 1824.7L884.5 1814.9L871.4 1817.8L874 1819.5L859.6 1827.9ZM915.3 1830.1L925.7 1824.8L925.7 1827.9L935.3 1818.6L922.1 1820.8L924.6 1822.6L914.2 1827.8ZM969.8 1830.1L978.6 1825.8L978.5 1828.9L988.3 1819.7L975 1821.7L977.5 1823.5L968.7 1827.8ZM1024.5 1830L1031.5 1824.9L1031.9 1828L1040 1817.3L1027.3 1821.5L1030 1822.9L1023 1827.9ZM1079.2 1829.8L1084.8 1824L1085.8 1826.9L1091.8 1814.9L1080.1 1821.3L1083 1822.2L1077.4 1828.1ZM1133.8 1829.7L1139.2 1822.3L1140.6 1825.1L1144.8 1812.4L1134.1 1820.4L1137.1 1820.9L1131.8 1828.2ZM1188.3 1829.7L1196.4 1819L1197.7 1821.8L1202.2 1809.2L1191.3 1817L1194.4 1817.5L1186.3 1828.2ZM806.1 1884.5L824.7 1877.6L824.3 1880.6L834.9 1872.4L821.5 1873.1L823.8 1875.2L805.3 1882.2ZM860.7 1884.5L875.4 1878.6L875.1 1881.7L885.5 1873.2L872.2 1874.3L874.5 1876.3L859.8 1882.2ZM915.2 1884.5L928 1879.6L927.7 1882.6L938.1 1874.3L924.8 1875.2L927.1 1877.2L914.3 1882.2ZM969.7 1884.6L982.9 1879.8L982.5 1882.9L993.2 1874.8L979.8 1875.4L982 1877.5L968.8 1882.2ZM1024.3 1884.5L1038.4 1877.7L1038.3 1880.8L1048.1 1871.6L1034.8 1873.6L1037.3 1875.4L1023.2 1882.3ZM1079 1884.4L1094.3 1874.1L1094.7 1877.1L1103.1 1866.7L1090.2 1870.5L1092.9 1872L1077.6 1882.3ZM1133.6 1884.3L1150.3 1870.8L1150.9 1873.8L1158.3 1862.6L1145.9 1867.6L1148.7 1868.8L1132 1882.4ZM1188.1 1884.4L1209.1 1867.7L1209.7 1870.8L1217.2 1859.7L1204.7 1864.5L1207.5 1865.8L1186.6 1882.4ZM806 1939L828.1 1934.2L827.4 1937.1L839 1930.5L825.6 1929.3L827.6 1931.7L805.4 1936.6ZM860.6 1939L879.8 1933.3L879.3 1936.4L890.4 1928.9L877 1928.7L879.1 1930.9L859.9 1936.6ZM915.1 1939L932.4 1933.5L931.9 1936.6L942.9 1928.9L929.5 1928.9L931.7 1931.1L914.4 1936.6ZM969.7 1939L987.6 1932.9L987.1 1936L998 1928.1L984.6 1928.4L986.8 1930.6L968.9 1936.6ZM1024.3 1938.9L1046.4 1929L1046.2 1932.1L1056.3 1923.2L1043 1924.8L1045.4 1926.7L1023.3 1936.7ZM1079 1938.9L1103.8 1923.7L1104.1 1926.8L1112.9 1916.7L1099.9 1919.9L1102.5 1921.6L1077.6 1936.7ZM1133.5 1938.8L1161.4 1920L1161.8 1923.1L1170.1 1912.6L1157.3 1916.5L1160 1917.9L1132.1 1936.8ZM1188 1938.9L1220 1918.9L1220.3 1922L1229 1911.8L1216.1 1915.2L1218.7 1916.8L1186.7 1936.7Z" fill="#000"/>
<path d="M860.7 1380.6V1938.8M915.2 1380.6V1938.8M969.7 1380.6V1938.8M1024.2 1380.6V1938.8M1078.7 1380.6V1938.8M1133.2 1380.6V1938.8M1187.7 1380.6V1938.8M805.4 1407.5H1241.7M805.4 1488.5H1241.7M805.4 1569.8H1241.7M805.4 1651.4H1241.7M805.4 1733.4H1241.7M805.4 1815.6H1241.7M805.4 1898.2H1241.7" stroke="#000" stroke-opacity="0.3" stroke-width="1.8" stroke-dasharray="8.8 4.9" fill="none"/>
<g fill="none" stroke="#000" stroke-width="2.45" stroke-dasharray="6.2 3.8" stroke-linejoin="round">
<circle cx="1010.5" cy="1629.3" r="16.2"/>
<path d="M922.9 1664.7L933.1 1670.7L936.1 1677.9L929.5 1687.5L921.1 1688.7L914.5 1682.7L913.3 1676.1L917.5 1668.3Z"/>
</g>
<path d="M913.3 1676.1l-5.5 3.6M905.7 1675.9l-7 2.4l7 2.4M908.2 1676.9l4.5 3" fill="none" stroke="#000" stroke-width="2.4"/>
<ellipse cx="967.3" cy="1710.3" rx="6.5" ry="8.8" fill="none" stroke="#000" stroke-width="2.45" stroke-dasharray="6.2 3.8"/>
<path d="M1003.9 1624.5L1012.9 1611.9L1017.4 1611.2L1024.3 1611.6L1030.3 1615.6L1036.9 1622.1L1029.1 1631.1L1021.3 1637.7L1017.9 1637.4L1013.5 1634.7Z" fill="none" stroke="#000" stroke-width="2.45" stroke-linejoin="round"/>
<rect x="805.4" y="1380.6" width="436.3" height="558.2" fill="none" stroke="#000" stroke-width="2.4"/>
<text x="860.7" y="1992" font-size="40.5" text-anchor="middle" textLength="105.5" lengthAdjust="spacingAndGlyphs">13°W</text>
<text x="1078.7" y="1992" font-size="40.5" text-anchor="middle" textLength="105.5" lengthAdjust="spacingAndGlyphs">12°W</text>
<path d="M805.4 1380.6h-12.2M805.4 1597h-12.2M805.4 1815.6h-12.2M860.7 1938.8v12.2M1078.7 1938.8v12.2" stroke="#000" stroke-width="2.4" fill="none"/>
<text x="802.9" y="1352.4" font-size="29" font-weight="bold">E</text>
<rect x="1272.8" y="1915.5" width="28.4" height="23.9" fill="#313695"/>
<rect x="1272.8" y="1892.3" width="28.4" height="23.9" fill="#3a51a2"/>
<rect x="1272.8" y="1869" width="28.4" height="23.9" fill="#426db0"/>
<rect x="1272.8" y="1845.8" width="28.4" height="23.9" fill="#5386bd"/>
<rect x="1272.8" y="1822.5" width="28.4" height="23.9" fill="#689ec9"/>
<rect x="1272.8" y="1799.2" width="28.4" height="23.9" fill="#7eb5d5"/>
<rect x="1272.8" y="1776" width="28.4" height="23.9" fill="#95c8e0"/>
<rect x="1272.8" y="1752.7" width="28.4" height="23.9" fill="#addaea"/>
<rect x="1272.8" y="1729.5" width="28.4" height="23.9" fill="#c4e5f0"/>
<rect x="1272.8" y="1706.2" width="28.4" height="23.9" fill="#dbf1f7"/>
<rect x="1272.8" y="1683" width="28.4" height="23.9" fill="#ebf7e4"/>
<rect x="1272.8" y="1659.7" width="28.4" height="23.9" fill="#f8fccb"/>
<rect x="1272.8" y="1636.4" width="28.4" height="23.9" fill="#fff8b5"/>
<rect x="1272.8" y="1613.2" width="28.4" height="23.9" fill="#feeba0"/>
<rect x="1272.8" y="1589.9" width="28.4" height="23.9" fill="#fedc8c"/>
<rect x="1272.8" y="1566.7" width="28.4" height="23.9" fill="#fdc677"/>
<rect x="1272.8" y="1543.4" width="28.4" height="23.9" fill="#fdb063"/>
<rect x="1272.8" y="1520.1" width="28.4" height="23.9" fill="#f99555"/>
<rect x="1272.8" y="1496.9" width="28.4" height="23.9" fill="#f67848"/>
<rect x="1272.8" y="1473.6" width="28.4" height="23.9" fill="#ec5d3c"/>
<rect x="1272.8" y="1450.4" width="28.4" height="23.9" fill="#e04330"/>
<rect x="1272.8" y="1427.1" width="28.4" height="23.9" fill="#d02a27"/>
<rect x="1272.8" y="1403.9" width="28.4" height="23.9" fill="#bd1f2b"/>
<rect x="1272.8" y="1380.6" width="28.4" height="23.9" fill="#a51b2a"/>
<rect x="1272.8" y="1380.6" width="28.4" height="558.2" fill="none" stroke="#000" stroke-width="2.4"/>
<text x="1324.8" y="1394.7" font-size="40.5" textLength="84.5" lengthAdjust="spacingAndGlyphs">0.18</text>
<text x="1324.8" y="1580.8" font-size="40.5" textLength="84.5" lengthAdjust="spacingAndGlyphs">0.12</text>
<text x="1324.8" y="1766.8" font-size="40.5" textLength="84.5" lengthAdjust="spacingAndGlyphs">0.06</text>
<text x="1324.8" y="1952.9" font-size="40.5" textLength="84.5" lengthAdjust="spacingAndGlyphs">0.00</text>
<path d="M1301.2 1380.6h12M1301.2 1566.7h12M1301.2 1752.7h12M1301.2 1938.8h12" stroke="#000" stroke-width="2.4" fill="none"/>
<text x="1250.3" y="1351" font-size="40.5" textLength="71" lengthAdjust="spacingAndGlyphs">m/s</text>
</svg></body></html>
